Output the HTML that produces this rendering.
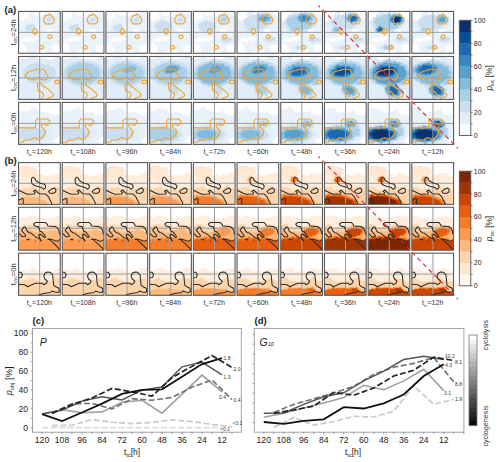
<!DOCTYPE html><html><head><meta charset="utf-8"><style>html,body{margin:0;padding:0;background:#fff;}svg{display:block;}</style></head><body><svg width="500" height="462" viewBox="0 0 500 462" font-family='"Liberation Sans", sans-serif'><defs><clipPath id="pc0"><rect x="0" y="0" width="41.7" height="41.9"/></clipPath><clipPath id="pc1"><rect x="0" y="0" width="41.7" height="42.9"/></clipPath><clipPath id="pc2"><rect x="0" y="0" width="41.7" height="42.0"/></clipPath><filter id="bl" x="-10%" y="-10%" width="120%" height="120%"><feTurbulence type="fractalNoise" baseFrequency="0.35" numOctaves="2" seed="3" result="n"/><feDisplacementMap in="SourceGraphic" in2="n" scale="3.5" xChannelSelector="R" yChannelSelector="G" result="d"/><feGaussianBlur in="d" stdDeviation="0.7"/></filter><linearGradient id="gcb" x1="0" y1="0" x2="0" y2="1"><stop offset="0.000" stop-color="rgb(255,255,255)"/><stop offset="0.050" stop-color="rgb(255,255,255)"/><stop offset="0.050" stop-color="rgb(242,242,242)"/><stop offset="0.100" stop-color="rgb(242,242,242)"/><stop offset="0.100" stop-color="rgb(229,229,229)"/><stop offset="0.150" stop-color="rgb(229,229,229)"/><stop offset="0.150" stop-color="rgb(216,216,216)"/><stop offset="0.200" stop-color="rgb(216,216,216)"/><stop offset="0.200" stop-color="rgb(204,204,204)"/><stop offset="0.250" stop-color="rgb(204,204,204)"/><stop offset="0.250" stop-color="rgb(191,191,191)"/><stop offset="0.300" stop-color="rgb(191,191,191)"/><stop offset="0.300" stop-color="rgb(178,178,178)"/><stop offset="0.350" stop-color="rgb(178,178,178)"/><stop offset="0.350" stop-color="rgb(165,165,165)"/><stop offset="0.400" stop-color="rgb(165,165,165)"/><stop offset="0.400" stop-color="rgb(153,153,153)"/><stop offset="0.450" stop-color="rgb(153,153,153)"/><stop offset="0.450" stop-color="rgb(140,140,140)"/><stop offset="0.500" stop-color="rgb(140,140,140)"/><stop offset="0.500" stop-color="rgb(127,127,127)"/><stop offset="0.550" stop-color="rgb(127,127,127)"/><stop offset="0.550" stop-color="rgb(114,114,114)"/><stop offset="0.600" stop-color="rgb(114,114,114)"/><stop offset="0.600" stop-color="rgb(102,102,102)"/><stop offset="0.650" stop-color="rgb(102,102,102)"/><stop offset="0.650" stop-color="rgb(89,89,89)"/><stop offset="0.700" stop-color="rgb(89,89,89)"/><stop offset="0.700" stop-color="rgb(76,76,76)"/><stop offset="0.750" stop-color="rgb(76,76,76)"/><stop offset="0.750" stop-color="rgb(63,63,63)"/><stop offset="0.800" stop-color="rgb(63,63,63)"/><stop offset="0.800" stop-color="rgb(50,50,50)"/><stop offset="0.850" stop-color="rgb(50,50,50)"/><stop offset="0.850" stop-color="rgb(38,38,38)"/><stop offset="0.900" stop-color="rgb(38,38,38)"/><stop offset="0.900" stop-color="rgb(25,25,25)"/><stop offset="0.950" stop-color="rgb(25,25,25)"/><stop offset="0.950" stop-color="rgb(12,12,12)"/><stop offset="1.000" stop-color="rgb(12,12,12)"/></linearGradient></defs><rect width="500" height="462" fill="#fff"/><g font-weight="bold" fill="#1a1a1a" font-size="9.5"><text x="4.6" y="13.2">(a)</text><text x="4.6" y="164.0">(b)</text><text x="32.6" y="324.1">(c)</text><text x="254.6" y="324.1">(d)</text></g><g transform="translate(18.56,11.44)"><rect x="0" y="0" width="41.7" height="41.9" fill="#fff"/><g clip-path="url(#pc0)" filter="url(#bl)"><path d="M-2.0 5.2 L3.8 3.4 L9.5 1.0 L15.2 0.9 L21.0 5.3 L26.8 4.3 L32.5 4.0 L38.2 -0.7 L44.0 3.1 L44 44 L-2 44 Z" fill="#e1edf8" fill-opacity="0.7"/><ellipse cx="30.0" cy="8.0" rx="8.00" ry="6.50" fill="#e1edf8"/><ellipse cx="12.0" cy="16.0" rx="6.00" ry="4.00" fill="#e1edf8"/><ellipse cx="4.0" cy="5.0" rx="7.00" ry="4.00" fill="#fff" transform="rotate(-20 4 5)"/><ellipse cx="11.0" cy="28.0" rx="10.00" ry="2.20" fill="#fff" transform="rotate(-10 11 28)"/><ellipse cx="3.0" cy="38.0" rx="5.00" ry="6.00" fill="#fff"/><ellipse cx="38.0" cy="37.0" rx="5.00" ry="4.00" fill="#fff"/><ellipse cx="22.0" cy="41.0" rx="6.00" ry="2.00" fill="#fff"/><ellipse cx="20.0" cy="3.0" rx="5.00" ry="2.00" fill="#fff"/><ellipse cx="30.0" cy="19.0" rx="4.00" ry="1.50" fill="#fff"/><ellipse cx="30.0" cy="8.0" rx="2.80" ry="2.27" fill="#ccdff1"/><ellipse cx="12.0" cy="16.0" rx="5.40" ry="3.60" fill="#ccdff1"/></g><line x1="21.1" y1="0" x2="21.1" y2="41.9" stroke="#9e9e9e" stroke-width="1.0"/><line x1="0" y1="20.9" x2="41.7" y2="20.9" stroke="#9e9e9e" stroke-width="1.0"/><g clip-path="url(#pc0)" fill="none" stroke="#f5a52a" stroke-width="1.15" stroke-linejoin="round"><path d="M30.9 2.4 L34.1 5.5 L35.6 7.6 L35.3 10.7 L33.5 12.2 L27.3 12.5 L25.2 10.2 L25.2 7.1 L27.3 4.1 L29.4 3.9 Z"/><path d="M16.4 16.9 L18.2 18.3 L18.6 20.0 L18.2 21.7 L16.4 23.1 L14.6 21.7 L14.2 20.0 L14.6 18.3 Z"/><path d="M31.3 23.2 L33.0 24.1 L33.4 25.2 L33.0 26.3 L31.3 27.2 L29.6 26.3 L29.2 25.2 L29.6 24.1 Z"/><path d="M22.9 33.9 L24.6 34.8 L25.0 35.9 L24.6 37.0 L22.9 37.9 L21.2 37.0 L20.8 35.9 L21.2 34.8 Z"/></g><rect x="0" y="0" width="41.7" height="41.9" fill="none" stroke="#5a5a5a" stroke-width="1.1"/></g><g transform="translate(62.26,11.44)"><rect x="0" y="0" width="41.7" height="41.9" fill="#fff"/><g clip-path="url(#pc0)" filter="url(#bl)"><path d="M-2.0 4.3 L3.8 3.3 L9.5 0.1 L15.2 2.2 L21.0 5.1 L26.8 4.6 L32.5 2.8 L38.2 -0.4 L44.0 3.7 L44 44 L-2 44 Z" fill="#e1edf8" fill-opacity="0.7"/><ellipse cx="30.0" cy="8.0" rx="8.00" ry="6.50" fill="#e1edf8"/><ellipse cx="12.0" cy="16.0" rx="6.00" ry="4.00" fill="#e1edf8"/><ellipse cx="4.0" cy="5.0" rx="7.00" ry="4.00" fill="#fff" transform="rotate(-20 4 5)"/><ellipse cx="11.0" cy="28.0" rx="10.00" ry="2.20" fill="#fff" transform="rotate(-10 11 28)"/><ellipse cx="3.0" cy="38.0" rx="5.00" ry="6.00" fill="#fff"/><ellipse cx="38.0" cy="37.0" rx="5.00" ry="4.00" fill="#fff"/><ellipse cx="22.0" cy="41.0" rx="6.00" ry="2.00" fill="#fff"/><ellipse cx="20.0" cy="3.0" rx="5.00" ry="2.00" fill="#fff"/><ellipse cx="30.0" cy="19.0" rx="4.00" ry="1.50" fill="#fff"/><ellipse cx="30.0" cy="8.0" rx="2.80" ry="2.27" fill="#ccdff1"/><ellipse cx="12.0" cy="16.0" rx="5.40" ry="3.60" fill="#ccdff1"/></g><line x1="21.1" y1="0" x2="21.1" y2="41.9" stroke="#9e9e9e" stroke-width="1.0"/><line x1="0" y1="20.9" x2="41.7" y2="20.9" stroke="#9e9e9e" stroke-width="1.0"/><g clip-path="url(#pc0)" fill="none" stroke="#f5a52a" stroke-width="1.15" stroke-linejoin="round"><path d="M30.9 2.4 L34.1 5.5 L35.6 7.6 L35.3 10.7 L33.5 12.2 L27.3 12.5 L25.2 10.2 L25.2 7.1 L27.3 4.1 L29.4 3.9 Z"/><path d="M16.4 16.9 L18.2 18.3 L18.6 20.0 L18.2 21.7 L16.4 23.1 L14.6 21.7 L14.2 20.0 L14.6 18.3 Z"/><path d="M31.3 23.2 L33.0 24.1 L33.4 25.2 L33.0 26.3 L31.3 27.2 L29.6 26.3 L29.2 25.2 L29.6 24.1 Z"/><path d="M22.9 33.9 L24.6 34.8 L25.0 35.9 L24.6 37.0 L22.9 37.9 L21.2 37.0 L20.8 35.9 L21.2 34.8 Z"/></g><rect x="0" y="0" width="41.7" height="41.9" fill="none" stroke="#5a5a5a" stroke-width="1.1"/></g><g transform="translate(105.96,11.44)"><rect x="0" y="0" width="41.7" height="41.9" fill="#fff"/><g clip-path="url(#pc0)" filter="url(#bl)"><path d="M-2.0 3.6 L3.8 3.1 L9.5 -0.5 L15.2 3.6 L21.0 4.8 L26.8 4.8 L32.5 1.4 L38.2 0.4 L44.0 3.9 L44 44 L-2 44 Z" fill="#e1edf8" fill-opacity="0.7"/><ellipse cx="30.0" cy="8.0" rx="8.00" ry="6.50" fill="#e1edf8"/><ellipse cx="12.0" cy="16.0" rx="6.00" ry="4.00" fill="#e1edf8"/><ellipse cx="4.0" cy="5.0" rx="7.00" ry="4.00" fill="#fff" transform="rotate(-20 4 5)"/><ellipse cx="11.0" cy="28.0" rx="10.00" ry="2.20" fill="#fff" transform="rotate(-10 11 28)"/><ellipse cx="3.0" cy="38.0" rx="5.00" ry="6.00" fill="#fff"/><ellipse cx="38.0" cy="37.0" rx="5.00" ry="4.00" fill="#fff"/><ellipse cx="22.0" cy="41.0" rx="6.00" ry="2.00" fill="#fff"/><ellipse cx="20.0" cy="3.0" rx="5.00" ry="2.00" fill="#fff"/><ellipse cx="30.0" cy="19.0" rx="4.00" ry="1.50" fill="#fff"/><ellipse cx="30.0" cy="8.0" rx="2.80" ry="2.27" fill="#ccdff1"/><ellipse cx="12.0" cy="16.0" rx="5.40" ry="3.60" fill="#ccdff1"/></g><line x1="21.1" y1="0" x2="21.1" y2="41.9" stroke="#9e9e9e" stroke-width="1.0"/><line x1="0" y1="20.9" x2="41.7" y2="20.9" stroke="#9e9e9e" stroke-width="1.0"/><g clip-path="url(#pc0)" fill="none" stroke="#f5a52a" stroke-width="1.15" stroke-linejoin="round"><path d="M30.9 2.4 L34.1 5.5 L35.6 7.6 L35.3 10.7 L33.5 12.2 L27.3 12.5 L25.2 10.2 L25.2 7.1 L27.3 4.1 L29.4 3.9 Z"/><path d="M16.4 16.9 L18.2 18.3 L18.6 20.0 L18.2 21.7 L16.4 23.1 L14.6 21.7 L14.2 20.0 L14.6 18.3 Z"/><path d="M31.3 23.2 L33.0 24.1 L33.4 25.2 L33.0 26.3 L31.3 27.2 L29.6 26.3 L29.2 25.2 L29.6 24.1 Z"/><path d="M22.9 33.9 L24.6 34.8 L25.0 35.9 L24.6 37.0 L22.9 37.9 L21.2 37.0 L20.8 35.9 L21.2 34.8 Z"/></g><rect x="0" y="0" width="41.7" height="41.9" fill="none" stroke="#5a5a5a" stroke-width="1.1"/></g><g transform="translate(149.66,11.44)"><rect x="0" y="0" width="41.7" height="41.9" fill="#fff"/><g clip-path="url(#pc0)" filter="url(#bl)"><path d="M-2.0 3.2 L3.8 2.5 L9.5 -0.5 L15.2 4.8 L21.0 4.4 L26.8 4.7 L32.5 0.2 L38.2 1.5 L44.0 3.9 L44 44 L-2 44 Z" fill="#e1edf8" fill-opacity="0.7"/><ellipse cx="30.0" cy="8.0" rx="8.00" ry="6.50" fill="#e1edf8"/><ellipse cx="14.0" cy="15.0" rx="10.00" ry="6.00" fill="#e1edf8"/><ellipse cx="4.0" cy="5.0" rx="7.00" ry="4.00" fill="#fff" transform="rotate(-20 4 5)"/><ellipse cx="11.0" cy="28.0" rx="10.00" ry="2.20" fill="#fff" transform="rotate(-10 11 28)"/><ellipse cx="3.0" cy="38.0" rx="5.00" ry="6.00" fill="#fff"/><ellipse cx="38.0" cy="37.0" rx="5.00" ry="4.00" fill="#fff"/><ellipse cx="22.0" cy="41.0" rx="6.00" ry="2.00" fill="#fff"/><ellipse cx="20.0" cy="3.0" rx="5.00" ry="2.00" fill="#fff"/><ellipse cx="30.0" cy="19.0" rx="4.00" ry="1.50" fill="#fff"/><ellipse cx="30.0" cy="8.0" rx="2.80" ry="2.27" fill="#ccdff1"/><ellipse cx="14.0" cy="15.0" rx="9.00" ry="5.40" fill="#ccdff1"/></g><line x1="21.1" y1="0" x2="21.1" y2="41.9" stroke="#9e9e9e" stroke-width="1.0"/><line x1="0" y1="20.9" x2="41.7" y2="20.9" stroke="#9e9e9e" stroke-width="1.0"/><g clip-path="url(#pc0)" fill="none" stroke="#f5a52a" stroke-width="1.15" stroke-linejoin="round"><path d="M30.9 2.4 L34.1 5.5 L35.6 7.6 L35.3 10.7 L33.5 12.2 L27.3 12.5 L25.2 10.2 L25.2 7.1 L27.3 4.1 L29.4 3.9 Z"/><path d="M16.4 16.9 L18.2 18.3 L18.6 20.0 L18.2 21.7 L16.4 23.1 L14.6 21.7 L14.2 20.0 L14.6 18.3 Z"/><path d="M31.3 23.2 L33.0 24.1 L33.4 25.2 L33.0 26.3 L31.3 27.2 L29.6 26.3 L29.2 25.2 L29.6 24.1 Z"/><path d="M22.9 33.9 L24.6 34.8 L25.0 35.9 L24.6 37.0 L22.9 37.9 L21.2 37.0 L20.8 35.9 L21.2 34.8 Z"/></g><rect x="0" y="0" width="41.7" height="41.9" fill="none" stroke="#5a5a5a" stroke-width="1.1"/></g><g transform="translate(193.36,11.44)"><rect x="0" y="0" width="41.7" height="41.9" fill="#fff"/><g clip-path="url(#pc0)" filter="url(#bl)"><path d="M-2.0 3.0 L3.8 1.6 L9.5 0.2 L15.2 5.4 L21.0 4.2 L26.8 4.3 L32.5 -0.6 L38.2 2.7 L44.0 3.8 L44 44 L-2 44 Z" fill="#e1edf8" fill-opacity="0.7"/><ellipse cx="30.0" cy="8.0" rx="8.00" ry="6.50" fill="#e1edf8"/><ellipse cx="12.0" cy="18.0" rx="6.00" ry="4.00" fill="#e1edf8"/><ellipse cx="14.0" cy="15.0" rx="10.00" ry="6.00" fill="#e1edf8"/><ellipse cx="33.0" cy="28.0" rx="8.00" ry="3.50" fill="#e1edf8"/><ellipse cx="4.0" cy="5.0" rx="7.00" ry="4.00" fill="#fff" transform="rotate(-20 4 5)"/><ellipse cx="11.0" cy="28.0" rx="10.00" ry="2.20" fill="#fff" transform="rotate(-10 11 28)"/><ellipse cx="3.0" cy="38.0" rx="5.00" ry="6.00" fill="#fff"/><ellipse cx="38.0" cy="37.0" rx="5.00" ry="4.00" fill="#fff"/><ellipse cx="22.0" cy="41.0" rx="6.00" ry="2.00" fill="#fff"/><ellipse cx="20.0" cy="3.0" rx="5.00" ry="2.00" fill="#fff"/><ellipse cx="30.0" cy="19.0" rx="4.00" ry="1.50" fill="#fff"/><ellipse cx="30.0" cy="8.0" rx="5.40" ry="4.39" fill="#ccdff1"/><ellipse cx="14.0" cy="15.0" rx="9.00" ry="5.40" fill="#ccdff1"/><ellipse cx="33.0" cy="28.0" rx="5.60" ry="2.45" fill="#ccdff1"/><ellipse cx="30.0" cy="8.0" rx="2.80" ry="2.27" fill="#abd0e6"/></g><line x1="21.1" y1="0" x2="21.1" y2="41.9" stroke="#9e9e9e" stroke-width="1.0"/><line x1="0" y1="20.9" x2="41.7" y2="20.9" stroke="#9e9e9e" stroke-width="1.0"/><g clip-path="url(#pc0)" fill="none" stroke="#f5a52a" stroke-width="1.15" stroke-linejoin="round"><path d="M30.9 2.4 L34.1 5.5 L35.6 7.6 L35.3 10.7 L33.5 12.2 L27.3 12.5 L25.2 10.2 L25.2 7.1 L27.3 4.1 L29.4 3.9 Z"/><path d="M16.4 16.9 L18.2 18.3 L18.6 20.0 L18.2 21.7 L16.4 23.1 L14.6 21.7 L14.2 20.0 L14.6 18.3 Z"/><path d="M31.3 23.2 L33.0 24.1 L33.4 25.2 L33.0 26.3 L31.3 27.2 L29.6 26.3 L29.2 25.2 L29.6 24.1 Z"/><path d="M22.9 33.9 L24.6 34.8 L25.0 35.9 L24.6 37.0 L22.9 37.9 L21.2 37.0 L20.8 35.9 L21.2 34.8 Z"/></g><rect x="0" y="0" width="41.7" height="41.9" fill="none" stroke="#5a5a5a" stroke-width="1.1"/></g><g transform="translate(237.06,11.44)"><rect x="0" y="0" width="41.7" height="41.9" fill="#fff"/><g clip-path="url(#pc0)" filter="url(#bl)"><path d="M-2.0 3.0 L3.8 0.7 L9.5 1.4 L15.2 5.5 L21.0 4.2 L26.8 3.4 L32.5 -0.7 L38.2 3.6 L44.0 3.9 L44 44 L-2 44 Z" fill="#e1edf8" fill-opacity="0.7"/><ellipse cx="27.0" cy="7.0" rx="11.00" ry="6.50" fill="#e1edf8"/><ellipse cx="12.0" cy="18.0" rx="6.00" ry="4.00" fill="#e1edf8"/><ellipse cx="19.0" cy="11.0" rx="18.00" ry="11.00" fill="#e1edf8"/><ellipse cx="33.0" cy="28.0" rx="8.00" ry="3.50" fill="#e1edf8"/><ellipse cx="4.0" cy="5.0" rx="7.00" ry="4.00" fill="#fff" transform="rotate(-20 4 5)"/><ellipse cx="11.0" cy="28.0" rx="10.00" ry="2.20" fill="#fff" transform="rotate(-10 11 28)"/><ellipse cx="3.0" cy="38.0" rx="5.00" ry="6.00" fill="#fff"/><ellipse cx="38.0" cy="37.0" rx="5.00" ry="4.00" fill="#fff"/><ellipse cx="22.0" cy="41.0" rx="6.00" ry="2.00" fill="#fff"/><ellipse cx="20.0" cy="3.0" rx="5.00" ry="2.00" fill="#fff"/><ellipse cx="30.0" cy="19.0" rx="4.00" ry="1.50" fill="#fff"/><ellipse cx="27.0" cy="7.0" rx="9.21" ry="5.44" fill="#ccdff1"/><ellipse cx="12.0" cy="18.0" rx="2.40" ry="1.60" fill="#ccdff1"/><ellipse cx="19.0" cy="11.0" rx="12.60" ry="7.70" fill="#ccdff1"/><ellipse cx="33.0" cy="28.0" rx="5.60" ry="2.45" fill="#ccdff1"/><ellipse cx="27.0" cy="7.0" rx="7.43" ry="4.39" fill="#abd0e6"/><ellipse cx="27.0" cy="7.0" rx="5.64" ry="3.33" fill="#82bbdb"/><ellipse cx="27.0" cy="7.0" rx="3.85" ry="2.27" fill="#58a1cf"/></g><line x1="21.1" y1="0" x2="21.1" y2="41.9" stroke="#9e9e9e" stroke-width="1.0"/><line x1="0" y1="20.9" x2="41.7" y2="20.9" stroke="#9e9e9e" stroke-width="1.0"/><g clip-path="url(#pc0)" fill="none" stroke="#f5a52a" stroke-width="1.15" stroke-linejoin="round"><path d="M30.9 2.4 L34.1 5.5 L35.6 7.6 L35.3 10.7 L33.5 12.2 L27.3 12.5 L25.2 10.2 L25.2 7.1 L27.3 4.1 L29.4 3.9 Z"/><path d="M16.4 16.9 L18.2 18.3 L18.6 20.0 L18.2 21.7 L16.4 23.1 L14.6 21.7 L14.2 20.0 L14.6 18.3 Z"/><path d="M31.3 23.2 L33.0 24.1 L33.4 25.2 L33.0 26.3 L31.3 27.2 L29.6 26.3 L29.2 25.2 L29.6 24.1 Z"/><path d="M22.9 33.9 L24.6 34.8 L25.0 35.9 L24.6 37.0 L22.9 37.9 L21.2 37.0 L20.8 35.9 L21.2 34.8 Z"/></g><rect x="0" y="0" width="41.7" height="41.9" fill="none" stroke="#5a5a5a" stroke-width="1.1"/></g><g transform="translate(280.76,11.44)"><rect x="0" y="0" width="41.7" height="41.9" fill="#fff"/><g clip-path="url(#pc0)" filter="url(#bl)"><path d="M-2.0 2.9 L3.8 -0.1 L9.5 2.8 L15.2 5.3 L21.0 4.3 L26.8 2.2 L32.5 -0.2 L38.2 4.1 L44.0 4.3 L44 44 L-2 44 Z" fill="#e1edf8" fill-opacity="0.7"/><ellipse cx="24.0" cy="7.0" rx="12.00" ry="7.00" fill="#e1edf8"/><ellipse cx="12.0" cy="18.0" rx="6.00" ry="4.00" fill="#e1edf8"/><ellipse cx="19.0" cy="11.0" rx="18.00" ry="11.00" fill="#e1edf8"/><ellipse cx="33.0" cy="28.0" rx="8.00" ry="3.50" fill="#e1edf8"/><ellipse cx="19.0" cy="36.0" rx="8.00" ry="3.00" fill="#e1edf8"/><ellipse cx="4.0" cy="5.0" rx="7.00" ry="4.00" fill="#fff" transform="rotate(-20 4 5)"/><ellipse cx="11.0" cy="28.0" rx="10.00" ry="2.20" fill="#fff" transform="rotate(-10 11 28)"/><ellipse cx="3.0" cy="38.0" rx="5.00" ry="6.00" fill="#fff"/><ellipse cx="38.0" cy="37.0" rx="5.00" ry="4.00" fill="#fff"/><ellipse cx="22.0" cy="41.0" rx="6.00" ry="2.00" fill="#fff"/><ellipse cx="20.0" cy="3.0" rx="5.00" ry="2.00" fill="#fff"/><ellipse cx="30.0" cy="19.0" rx="4.00" ry="1.50" fill="#fff"/><ellipse cx="24.0" cy="7.0" rx="10.44" ry="6.09" fill="#ccdff1"/><ellipse cx="12.0" cy="18.0" rx="4.20" ry="2.80" fill="#ccdff1"/><ellipse cx="19.0" cy="11.0" rx="15.30" ry="9.35" fill="#ccdff1"/><ellipse cx="33.0" cy="28.0" rx="5.60" ry="2.45" fill="#ccdff1"/><ellipse cx="19.0" cy="36.0" rx="4.80" ry="1.80" fill="#ccdff1"/><ellipse cx="24.0" cy="7.0" rx="8.88" ry="5.18" fill="#abd0e6"/><ellipse cx="12.0" cy="18.0" rx="2.40" ry="1.60" fill="#abd0e6"/><ellipse cx="19.0" cy="11.0" rx="12.60" ry="7.70" fill="#abd0e6"/><ellipse cx="24.0" cy="7.0" rx="7.32" ry="4.27" fill="#82bbdb"/><ellipse cx="24.0" cy="7.0" rx="5.76" ry="3.36" fill="#58a1cf"/><ellipse cx="24.0" cy="7.0" rx="4.20" ry="2.45" fill="#3787c0"/></g><line x1="21.1" y1="0" x2="21.1" y2="41.9" stroke="#9e9e9e" stroke-width="1.0"/><line x1="0" y1="20.9" x2="41.7" y2="20.9" stroke="#9e9e9e" stroke-width="1.0"/><g clip-path="url(#pc0)" fill="none" stroke="#f5a52a" stroke-width="1.15" stroke-linejoin="round"><path d="M30.9 2.4 L34.1 5.5 L35.6 7.6 L35.3 10.7 L33.5 12.2 L27.3 12.5 L25.2 10.2 L25.2 7.1 L27.3 4.1 L29.4 3.9 Z"/><path d="M16.4 16.9 L18.2 18.3 L18.6 20.0 L18.2 21.7 L16.4 23.1 L14.6 21.7 L14.2 20.0 L14.6 18.3 Z"/><path d="M31.3 23.2 L33.0 24.1 L33.4 25.2 L33.0 26.3 L31.3 27.2 L29.6 26.3 L29.2 25.2 L29.6 24.1 Z"/><path d="M22.9 33.9 L24.6 34.8 L25.0 35.9 L24.6 37.0 L22.9 37.9 L21.2 37.0 L20.8 35.9 L21.2 34.8 Z"/></g><rect x="0" y="0" width="41.7" height="41.9" fill="none" stroke="#5a5a5a" stroke-width="1.1"/></g><g transform="translate(324.46,11.44)"><rect x="0" y="0" width="41.7" height="41.9" fill="#fff"/><g clip-path="url(#pc0)" filter="url(#bl)"><path d="M-2.0 5.7 L3.8 2.6 L9.5 7.2 L15.2 7.8 L21.0 7.5 L26.8 3.9 L32.5 3.8 L38.2 7.3 L44.0 7.8 L44 44 L-2 44 Z" fill="#e1edf8" fill-opacity="0.7"/><ellipse cx="28.0" cy="7.0" rx="9.00" ry="6.50" fill="#e1edf8"/><ellipse cx="12.0" cy="18.0" rx="6.00" ry="4.00" fill="#e1edf8"/><ellipse cx="19.0" cy="11.0" rx="18.00" ry="11.00" fill="#e1edf8"/><ellipse cx="33.0" cy="28.0" rx="8.00" ry="3.50" fill="#e1edf8"/><ellipse cx="19.0" cy="36.0" rx="8.00" ry="3.00" fill="#e1edf8"/><ellipse cx="4.0" cy="5.0" rx="7.00" ry="4.00" fill="#fff" transform="rotate(-20 4 5)"/><ellipse cx="11.0" cy="28.0" rx="10.00" ry="2.20" fill="#fff" transform="rotate(-10 11 28)"/><ellipse cx="3.0" cy="38.0" rx="5.00" ry="6.00" fill="#fff"/><ellipse cx="38.0" cy="37.0" rx="5.00" ry="4.00" fill="#fff"/><ellipse cx="22.0" cy="41.0" rx="6.00" ry="2.00" fill="#fff"/><ellipse cx="20.0" cy="3.0" rx="5.00" ry="2.00" fill="#fff"/><ellipse cx="30.0" cy="19.0" rx="4.00" ry="1.50" fill="#fff"/><ellipse cx="28.0" cy="7.0" rx="8.02" ry="5.80" fill="#ccdff1"/><ellipse cx="12.0" cy="18.0" rx="4.80" ry="3.20" fill="#ccdff1"/><ellipse cx="19.0" cy="11.0" rx="12.60" ry="7.70" fill="#ccdff1"/><ellipse cx="33.0" cy="28.0" rx="5.60" ry="2.45" fill="#ccdff1"/><ellipse cx="19.0" cy="36.0" rx="4.80" ry="1.80" fill="#ccdff1"/><ellipse cx="28.0" cy="7.0" rx="7.05" ry="5.09" fill="#abd0e6"/><ellipse cx="12.0" cy="18.0" rx="3.60" ry="2.40" fill="#abd0e6"/><ellipse cx="28.0" cy="7.0" rx="6.08" ry="4.39" fill="#82bbdb"/><ellipse cx="12.0" cy="18.0" rx="2.40" ry="1.60" fill="#82bbdb"/><ellipse cx="28.0" cy="7.0" rx="5.10" ry="3.68" fill="#58a1cf"/><ellipse cx="28.0" cy="7.0" rx="4.12" ry="2.98" fill="#3787c0"/><ellipse cx="28.0" cy="7.0" rx="3.15" ry="2.27" fill="#1b69af"/></g><line x1="21.1" y1="0" x2="21.1" y2="41.9" stroke="#9e9e9e" stroke-width="1.0"/><line x1="0" y1="20.9" x2="41.7" y2="20.9" stroke="#9e9e9e" stroke-width="1.0"/><g clip-path="url(#pc0)" fill="none" stroke="#f5a52a" stroke-width="1.15" stroke-linejoin="round"><path d="M30.9 2.4 L34.1 5.5 L35.6 7.6 L35.3 10.7 L33.5 12.2 L27.3 12.5 L25.2 10.2 L25.2 7.1 L27.3 4.1 L29.4 3.9 Z"/><path d="M16.4 16.9 L18.2 18.3 L18.6 20.0 L18.2 21.7 L16.4 23.1 L14.6 21.7 L14.2 20.0 L14.6 18.3 Z"/><path d="M31.3 23.2 L33.0 24.1 L33.4 25.2 L33.0 26.3 L31.3 27.2 L29.6 26.3 L29.2 25.2 L29.6 24.1 Z"/><path d="M22.9 33.9 L24.6 34.8 L25.0 35.9 L24.6 37.0 L22.9 37.9 L21.2 37.0 L20.8 35.9 L21.2 34.8 Z"/></g><rect x="0" y="0" width="41.7" height="41.9" fill="none" stroke="#5a5a5a" stroke-width="1.1"/></g><g transform="translate(368.16,11.44)"><rect x="0" y="0" width="41.7" height="41.9" fill="#fff"/><g clip-path="url(#pc0)" filter="url(#bl)"><path d="M-2.0 5.1 L3.8 2.8 L9.5 8.3 L15.2 7.3 L21.0 7.3 L26.8 2.9 L32.5 5.0 L38.2 7.2 L44.0 8.3 L44 44 L-2 44 Z" fill="#e1edf8" fill-opacity="0.7"/><ellipse cx="28.0" cy="8.0" rx="9.00" ry="7.00" fill="#e1edf8"/><ellipse cx="12.0" cy="18.0" rx="6.00" ry="4.00" fill="#e1edf8"/><ellipse cx="19.0" cy="11.0" rx="18.00" ry="11.00" fill="#e1edf8"/><ellipse cx="33.0" cy="28.0" rx="8.00" ry="3.50" fill="#e1edf8"/><ellipse cx="19.0" cy="36.0" rx="8.00" ry="3.00" fill="#e1edf8"/><ellipse cx="4.0" cy="5.0" rx="7.00" ry="4.00" fill="#fff" transform="rotate(-20 4 5)"/><ellipse cx="11.0" cy="28.0" rx="10.00" ry="2.20" fill="#fff" transform="rotate(-10 11 28)"/><ellipse cx="3.0" cy="38.0" rx="5.00" ry="6.00" fill="#fff"/><ellipse cx="38.0" cy="37.0" rx="5.00" ry="4.00" fill="#fff"/><ellipse cx="22.0" cy="41.0" rx="6.00" ry="2.00" fill="#fff"/><ellipse cx="20.0" cy="3.0" rx="5.00" ry="2.00" fill="#fff"/><ellipse cx="30.0" cy="19.0" rx="4.00" ry="1.50" fill="#fff"/><ellipse cx="28.0" cy="8.0" rx="8.27" ry="6.43" fill="#ccdff1"/><ellipse cx="12.0" cy="18.0" rx="5.40" ry="3.60" fill="#ccdff1"/><ellipse cx="19.0" cy="11.0" rx="15.30" ry="9.35" fill="#ccdff1"/><ellipse cx="33.0" cy="28.0" rx="5.60" ry="2.45" fill="#ccdff1"/><ellipse cx="19.0" cy="36.0" rx="6.40" ry="2.40" fill="#ccdff1"/><ellipse cx="28.0" cy="8.0" rx="7.54" ry="5.86" fill="#abd0e6"/><ellipse cx="12.0" cy="18.0" rx="4.80" ry="3.20" fill="#abd0e6"/><ellipse cx="19.0" cy="11.0" rx="12.60" ry="7.70" fill="#abd0e6"/><ellipse cx="19.0" cy="36.0" rx="4.80" ry="1.80" fill="#abd0e6"/><ellipse cx="28.0" cy="8.0" rx="6.81" ry="5.29" fill="#82bbdb"/><ellipse cx="12.0" cy="18.0" rx="4.20" ry="2.80" fill="#82bbdb"/><ellipse cx="28.0" cy="8.0" rx="6.08" ry="4.73" fill="#58a1cf"/><ellipse cx="12.0" cy="18.0" rx="3.60" ry="2.40" fill="#58a1cf"/><ellipse cx="28.0" cy="8.0" rx="5.34" ry="4.16" fill="#3787c0"/><ellipse cx="12.0" cy="18.0" rx="3.00" ry="2.00" fill="#3787c0"/><ellipse cx="28.0" cy="8.0" rx="4.61" ry="3.59" fill="#1b69af"/><ellipse cx="12.0" cy="18.0" rx="2.40" ry="1.60" fill="#1b69af"/><ellipse cx="28.0" cy="8.0" rx="3.88" ry="3.02" fill="#084d96"/><ellipse cx="28.0" cy="8.0" rx="3.15" ry="2.45" fill="#08306b"/></g><line x1="21.1" y1="0" x2="21.1" y2="41.9" stroke="#9e9e9e" stroke-width="1.0"/><line x1="0" y1="20.9" x2="41.7" y2="20.9" stroke="#9e9e9e" stroke-width="1.0"/><g clip-path="url(#pc0)" fill="none" stroke="#f5a52a" stroke-width="1.15" stroke-linejoin="round"><path d="M30.9 2.4 L34.1 5.5 L35.6 7.6 L35.3 10.7 L33.5 12.2 L27.3 12.5 L25.2 10.2 L25.2 7.1 L27.3 4.1 L29.4 3.9 Z"/><path d="M16.4 16.9 L18.2 18.3 L18.6 20.0 L18.2 21.7 L16.4 23.1 L14.6 21.7 L14.2 20.0 L14.6 18.3 Z"/><path d="M31.3 23.2 L33.0 24.1 L33.4 25.2 L33.0 26.3 L31.3 27.2 L29.6 26.3 L29.2 25.2 L29.6 24.1 Z"/><path d="M22.9 33.9 L24.6 34.8 L25.0 35.9 L24.6 37.0 L22.9 37.9 L21.2 37.0 L20.8 35.9 L21.2 34.8 Z"/></g><rect x="0" y="0" width="41.7" height="41.9" fill="none" stroke="#5a5a5a" stroke-width="1.1"/></g><g transform="translate(411.86,11.44)"><rect x="0" y="0" width="41.7" height="41.9" fill="#fff"/><g clip-path="url(#pc0)" filter="url(#bl)"><path d="M-2.0 4.4 L3.8 3.7 L9.5 8.8 L15.2 7.0 L21.0 6.8 L26.8 2.3 L32.5 6.2 L38.2 7.1 L44.0 8.7 L44 44 L-2 44 Z" fill="#e1edf8" fill-opacity="0.7"/><ellipse cx="30.0" cy="8.0" rx="8.00" ry="6.50" fill="#e1edf8"/><ellipse cx="12.0" cy="18.0" rx="6.00" ry="4.00" fill="#e1edf8"/><ellipse cx="19.0" cy="11.0" rx="18.00" ry="11.00" fill="#e1edf8"/><ellipse cx="33.0" cy="28.0" rx="8.00" ry="3.50" fill="#e1edf8"/><ellipse cx="19.0" cy="36.0" rx="8.00" ry="3.00" fill="#e1edf8"/><ellipse cx="4.0" cy="5.0" rx="7.00" ry="4.00" fill="#fff" transform="rotate(-20 4 5)"/><ellipse cx="11.0" cy="28.0" rx="10.00" ry="2.20" fill="#fff" transform="rotate(-10 11 28)"/><ellipse cx="3.0" cy="38.0" rx="5.00" ry="6.00" fill="#fff"/><ellipse cx="38.0" cy="37.0" rx="5.00" ry="4.00" fill="#fff"/><ellipse cx="22.0" cy="41.0" rx="6.00" ry="2.00" fill="#fff"/><ellipse cx="20.0" cy="3.0" rx="5.00" ry="2.00" fill="#fff"/><ellipse cx="30.0" cy="19.0" rx="4.00" ry="1.50" fill="#fff"/><ellipse cx="30.0" cy="8.0" rx="6.70" ry="5.44" fill="#ccdff1"/><ellipse cx="12.0" cy="18.0" rx="4.20" ry="2.80" fill="#ccdff1"/><ellipse cx="19.0" cy="11.0" rx="12.60" ry="7.70" fill="#ccdff1"/><ellipse cx="33.0" cy="28.0" rx="5.60" ry="2.45" fill="#ccdff1"/><ellipse cx="19.0" cy="36.0" rx="4.80" ry="1.80" fill="#ccdff1"/><ellipse cx="30.0" cy="8.0" rx="5.40" ry="4.39" fill="#abd0e6"/><ellipse cx="12.0" cy="18.0" rx="2.40" ry="1.60" fill="#abd0e6"/><ellipse cx="30.0" cy="8.0" rx="4.10" ry="3.33" fill="#82bbdb"/><ellipse cx="30.0" cy="8.0" rx="2.80" ry="2.27" fill="#58a1cf"/></g><line x1="21.1" y1="0" x2="21.1" y2="41.9" stroke="#9e9e9e" stroke-width="1.0"/><line x1="0" y1="20.9" x2="41.7" y2="20.9" stroke="#9e9e9e" stroke-width="1.0"/><g clip-path="url(#pc0)" fill="none" stroke="#f5a52a" stroke-width="1.15" stroke-linejoin="round"><path d="M30.9 2.4 L34.1 5.5 L35.6 7.6 L35.3 10.7 L33.5 12.2 L27.3 12.5 L25.2 10.2 L25.2 7.1 L27.3 4.1 L29.4 3.9 Z"/><path d="M16.4 16.9 L18.2 18.3 L18.6 20.0 L18.2 21.7 L16.4 23.1 L14.6 21.7 L14.2 20.0 L14.6 18.3 Z"/><path d="M31.3 23.2 L33.0 24.1 L33.4 25.2 L33.0 26.3 L31.3 27.2 L29.6 26.3 L29.2 25.2 L29.6 24.1 Z"/><path d="M22.9 33.9 L24.6 34.8 L25.0 35.9 L24.6 37.0 L22.9 37.9 L21.2 37.0 L20.8 35.9 L21.2 34.8 Z"/></g><rect x="0" y="0" width="41.7" height="41.9" fill="none" stroke="#5a5a5a" stroke-width="1.1"/></g><g transform="translate(18.56,56.48)"><rect x="0" y="0" width="41.7" height="42.9" fill="#fff"/><g clip-path="url(#pc1)" filter="url(#bl)"><path d="M-2.0 4.5 L3.8 2.4 L9.5 1.7 L15.2 -0.8 L21.0 3.2 L26.8 3.0 L32.5 3.6 L38.2 -0.2 L44.0 0.8 L44 44 L-2 44 Z" fill="#e1edf8"/><ellipse cx="21.0" cy="17.0" rx="24.00" ry="15.00" fill="#e1edf8"/><ellipse cx="24.0" cy="13.0" rx="16.00" ry="8.00" fill="#e1edf8" transform="rotate(-12 24 13)"/><ellipse cx="21.0" cy="17.0" rx="16.80" ry="10.50" fill="#ccdff1"/><ellipse cx="24.0" cy="13.0" rx="6.40" ry="3.20" fill="#ccdff1" transform="rotate(-12 24 13)"/></g><line x1="21.1" y1="0" x2="21.1" y2="42.9" stroke="#9e9e9e" stroke-width="1.0"/><line x1="0" y1="21.4" x2="41.7" y2="21.4" stroke="#9e9e9e" stroke-width="1.0"/><g clip-path="url(#pc1)" fill="none" stroke="#f5a52a" stroke-width="1.15" stroke-linejoin="round"><path d="M6.5 19.2 L9.1 16.1 L11.7 14.5 L15.9 14.0 L17.4 12.8 L25.2 12.8 L26.8 15.1 L27.3 17.1 L29.4 19.2 L28.9 22.3 L26.8 23.4 L21.6 22.9 L18.0 21.8 L16.4 23.4 L11.2 22.9 L8.1 21.3 Z"/><path d="M22.5 43.0 L25.2 38.5 L23.6 35.7 L20.0 34.8 L19.0 31.7 L19.0 27.5 L20.0 26.5 L22.1 26.5 L24.7 29.6 L28.9 32.2 L35.1 37.9 L34.1 40.0 L29.9 41.6 L28.0 43.0"/><ellipse cx="38.4" cy="25.5" rx="2.3" ry="1.8"/></g><rect x="0" y="0" width="41.7" height="42.9" fill="none" stroke="#5a5a5a" stroke-width="1.1"/></g><g transform="translate(62.26,56.48)"><rect x="0" y="0" width="41.7" height="42.9" fill="#fff"/><g clip-path="url(#pc1)" filter="url(#bl)"><path d="M-2.0 4.1 L3.8 2.3 L9.5 0.9 L15.2 -0.3 L21.0 3.7 L26.8 3.0 L32.5 3.2 L38.2 -0.8 L44.0 1.6 L44 44 L-2 44 Z" fill="#e1edf8"/><ellipse cx="21.0" cy="17.0" rx="24.00" ry="15.00" fill="#e1edf8"/><ellipse cx="24.0" cy="13.0" rx="16.00" ry="8.00" fill="#e1edf8" transform="rotate(-12 24 13)"/><ellipse cx="25.0" cy="34.0" rx="11.00" ry="8.00" fill="#e1edf8" transform="rotate(20 25 34)"/><ellipse cx="21.0" cy="17.0" rx="20.40" ry="12.75" fill="#ccdff1"/><ellipse cx="24.0" cy="13.0" rx="11.20" ry="5.60" fill="#ccdff1" transform="rotate(-12 24 13)"/><ellipse cx="21.0" cy="17.0" rx="16.80" ry="10.50" fill="#abd0e6"/><ellipse cx="24.0" cy="13.0" rx="6.40" ry="3.20" fill="#abd0e6" transform="rotate(-12 24 13)"/></g><line x1="21.1" y1="0" x2="21.1" y2="42.9" stroke="#9e9e9e" stroke-width="1.0"/><line x1="0" y1="21.4" x2="41.7" y2="21.4" stroke="#9e9e9e" stroke-width="1.0"/><g clip-path="url(#pc1)" fill="none" stroke="#f5a52a" stroke-width="1.15" stroke-linejoin="round"><path d="M6.5 19.2 L9.1 16.1 L11.7 14.5 L15.9 14.0 L17.4 12.8 L25.2 12.8 L26.8 15.1 L27.3 17.1 L29.4 19.2 L28.9 22.3 L26.8 23.4 L21.6 22.9 L18.0 21.8 L16.4 23.4 L11.2 22.9 L8.1 21.3 Z"/><path d="M22.5 43.0 L25.2 38.5 L23.6 35.7 L20.0 34.8 L19.0 31.7 L19.0 27.5 L20.0 26.5 L22.1 26.5 L24.7 29.6 L28.9 32.2 L35.1 37.9 L34.1 40.0 L29.9 41.6 L28.0 43.0"/><ellipse cx="38.4" cy="25.5" rx="2.3" ry="1.8"/></g><rect x="0" y="0" width="41.7" height="42.9" fill="none" stroke="#5a5a5a" stroke-width="1.1"/></g><g transform="translate(105.96,56.48)"><rect x="0" y="0" width="41.7" height="42.9" fill="#fff"/><g clip-path="url(#pc1)" filter="url(#bl)"><path d="M-2.0 3.5 L3.8 2.3 L9.5 0.1 L15.2 0.6 L21.0 3.8 L26.8 3.1 L32.5 2.5 L38.2 -0.9 L44.0 2.3 L44 44 L-2 44 Z" fill="#e1edf8"/><ellipse cx="21.0" cy="17.0" rx="24.00" ry="15.00" fill="#e1edf8"/><ellipse cx="24.0" cy="13.0" rx="16.00" ry="8.00" fill="#e1edf8" transform="rotate(-12 24 13)"/><ellipse cx="25.0" cy="34.0" rx="11.00" ry="8.00" fill="#e1edf8" transform="rotate(20 25 34)"/><ellipse cx="21.0" cy="17.0" rx="20.40" ry="12.75" fill="#ccdff1"/><ellipse cx="24.0" cy="13.0" rx="12.80" ry="6.40" fill="#ccdff1" transform="rotate(-12 24 13)"/><ellipse cx="21.0" cy="17.0" rx="16.80" ry="10.50" fill="#abd0e6"/><ellipse cx="24.0" cy="13.0" rx="9.60" ry="4.80" fill="#abd0e6" transform="rotate(-12 24 13)"/><ellipse cx="24.0" cy="13.0" rx="6.40" ry="3.20" fill="#82bbdb" transform="rotate(-12 24 13)"/></g><line x1="21.1" y1="0" x2="21.1" y2="42.9" stroke="#9e9e9e" stroke-width="1.0"/><line x1="0" y1="21.4" x2="41.7" y2="21.4" stroke="#9e9e9e" stroke-width="1.0"/><g clip-path="url(#pc1)" fill="none" stroke="#f5a52a" stroke-width="1.15" stroke-linejoin="round"><path d="M6.5 19.2 L9.1 16.1 L11.7 14.5 L15.9 14.0 L17.4 12.8 L25.2 12.8 L26.8 15.1 L27.3 17.1 L29.4 19.2 L28.9 22.3 L26.8 23.4 L21.6 22.9 L18.0 21.8 L16.4 23.4 L11.2 22.9 L8.1 21.3 Z"/><path d="M22.5 43.0 L25.2 38.5 L23.6 35.7 L20.0 34.8 L19.0 31.7 L19.0 27.5 L20.0 26.5 L22.1 26.5 L24.7 29.6 L28.9 32.2 L35.1 37.9 L34.1 40.0 L29.9 41.6 L28.0 43.0"/><ellipse cx="38.4" cy="25.5" rx="2.3" ry="1.8"/></g><rect x="0" y="0" width="41.7" height="42.9" fill="none" stroke="#5a5a5a" stroke-width="1.1"/></g><g transform="translate(149.66,56.48)"><rect x="0" y="0" width="41.7" height="42.9" fill="#fff"/><g clip-path="url(#pc1)" filter="url(#bl)"><path d="M-2.0 2.9 L3.8 2.2 L9.5 -0.5 L15.2 1.8 L21.0 3.6 L26.8 3.3 L32.5 1.5 L38.2 -0.5 L44.0 2.6 L44 44 L-2 44 Z" fill="#e1edf8"/><ellipse cx="21.0" cy="17.0" rx="24.00" ry="15.00" fill="#e1edf8"/><ellipse cx="22.0" cy="13.0" rx="16.00" ry="8.00" fill="#e1edf8" transform="rotate(-12 22 13)"/><ellipse cx="25.0" cy="34.0" rx="11.00" ry="8.00" fill="#e1edf8" transform="rotate(20 25 34)"/><ellipse cx="21.0" cy="17.0" rx="20.40" ry="12.75" fill="#ccdff1"/><ellipse cx="22.0" cy="13.0" rx="13.60" ry="6.80" fill="#ccdff1" transform="rotate(-12 22 13)"/><ellipse cx="25.0" cy="34.0" rx="4.95" ry="3.60" fill="#ccdff1" transform="rotate(20 25 34)"/><ellipse cx="21.0" cy="17.0" rx="16.80" ry="10.50" fill="#abd0e6"/><ellipse cx="22.0" cy="13.0" rx="11.20" ry="5.60" fill="#abd0e6" transform="rotate(-12 22 13)"/><ellipse cx="22.0" cy="13.0" rx="8.80" ry="4.40" fill="#82bbdb" transform="rotate(-12 22 13)"/><ellipse cx="22.0" cy="13.0" rx="6.40" ry="3.20" fill="#58a1cf" transform="rotate(-12 22 13)"/></g><line x1="21.1" y1="0" x2="21.1" y2="42.9" stroke="#9e9e9e" stroke-width="1.0"/><line x1="0" y1="21.4" x2="41.7" y2="21.4" stroke="#9e9e9e" stroke-width="1.0"/><g clip-path="url(#pc1)" fill="none" stroke="#f5a52a" stroke-width="1.15" stroke-linejoin="round"><path d="M6.5 19.2 L9.1 16.1 L11.7 14.5 L15.9 14.0 L17.4 12.8 L25.2 12.8 L26.8 15.1 L27.3 17.1 L29.4 19.2 L28.9 22.3 L26.8 23.4 L21.6 22.9 L18.0 21.8 L16.4 23.4 L11.2 22.9 L8.1 21.3 Z"/><path d="M22.5 43.0 L25.2 38.5 L23.6 35.7 L20.0 34.8 L19.0 31.7 L19.0 27.5 L20.0 26.5 L22.1 26.5 L24.7 29.6 L28.9 32.2 L35.1 37.9 L34.1 40.0 L29.9 41.6 L28.0 43.0"/><ellipse cx="38.4" cy="25.5" rx="2.3" ry="1.8"/></g><rect x="0" y="0" width="41.7" height="42.9" fill="none" stroke="#5a5a5a" stroke-width="1.1"/></g><g transform="translate(193.36,56.48)"><rect x="0" y="0" width="41.7" height="42.9" fill="#fff"/><g clip-path="url(#pc1)" filter="url(#bl)"><path d="M-2.0 2.4 L3.8 1.9 L9.5 -0.8 L15.2 2.8 L21.0 3.3 L26.8 3.4 L32.5 0.4 L38.2 0.2 L44.0 2.7 L44 44 L-2 44 Z" fill="#e1edf8"/><ellipse cx="21.0" cy="17.0" rx="24.00" ry="15.00" fill="#e1edf8"/><ellipse cx="22.0" cy="13.0" rx="16.00" ry="8.00" fill="#e1edf8" transform="rotate(-12 22 13)"/><ellipse cx="25.0" cy="34.0" rx="11.00" ry="8.00" fill="#e1edf8" transform="rotate(20 25 34)"/><ellipse cx="21.0" cy="17.0" rx="21.60" ry="13.50" fill="#ccdff1"/><ellipse cx="22.0" cy="13.0" rx="13.60" ry="6.80" fill="#ccdff1" transform="rotate(-12 22 13)"/><ellipse cx="25.0" cy="34.0" rx="4.95" ry="3.60" fill="#ccdff1" transform="rotate(20 25 34)"/><ellipse cx="21.0" cy="17.0" rx="19.20" ry="12.00" fill="#abd0e6"/><ellipse cx="22.0" cy="13.0" rx="11.20" ry="5.60" fill="#abd0e6" transform="rotate(-12 22 13)"/><ellipse cx="21.0" cy="17.0" rx="16.80" ry="10.50" fill="#82bbdb"/><ellipse cx="22.0" cy="13.0" rx="8.80" ry="4.40" fill="#82bbdb" transform="rotate(-12 22 13)"/><ellipse cx="22.0" cy="13.0" rx="6.40" ry="3.20" fill="#58a1cf" transform="rotate(-12 22 13)"/></g><line x1="21.1" y1="0" x2="21.1" y2="42.9" stroke="#9e9e9e" stroke-width="1.0"/><line x1="0" y1="21.4" x2="41.7" y2="21.4" stroke="#9e9e9e" stroke-width="1.0"/><g clip-path="url(#pc1)" fill="none" stroke="#f5a52a" stroke-width="1.15" stroke-linejoin="round"><path d="M6.5 19.2 L9.1 16.1 L11.7 14.5 L15.9 14.0 L17.4 12.8 L25.2 12.8 L26.8 15.1 L27.3 17.1 L29.4 19.2 L28.9 22.3 L26.8 23.4 L21.6 22.9 L18.0 21.8 L16.4 23.4 L11.2 22.9 L8.1 21.3 Z"/><path d="M22.5 43.0 L25.2 38.5 L23.6 35.7 L20.0 34.8 L19.0 31.7 L19.0 27.5 L20.0 26.5 L22.1 26.5 L24.7 29.6 L28.9 32.2 L35.1 37.9 L34.1 40.0 L29.9 41.6 L28.0 43.0"/><ellipse cx="38.4" cy="25.5" rx="2.3" ry="1.8"/></g><rect x="0" y="0" width="41.7" height="42.9" fill="none" stroke="#5a5a5a" stroke-width="1.1"/></g><g transform="translate(237.06,56.48)"><rect x="0" y="0" width="41.7" height="42.9" fill="#fff"/><g clip-path="url(#pc1)" filter="url(#bl)"><path d="M-2.0 2.1 L3.8 1.4 L9.5 -0.6 L15.2 3.6 L21.0 3.0 L26.8 3.3 L32.5 -0.5 L38.2 1.2 L44.0 2.7 L44 44 L-2 44 Z" fill="#e1edf8"/><ellipse cx="21.0" cy="17.0" rx="24.00" ry="15.00" fill="#e1edf8"/><ellipse cx="22.0" cy="13.0" rx="16.00" ry="8.00" fill="#e1edf8" transform="rotate(-12 22 13)"/><ellipse cx="25.0" cy="34.0" rx="11.00" ry="8.00" fill="#e1edf8" transform="rotate(20 25 34)"/><ellipse cx="21.0" cy="17.0" rx="21.60" ry="13.50" fill="#ccdff1"/><ellipse cx="22.0" cy="13.0" rx="14.08" ry="7.04" fill="#ccdff1" transform="rotate(-12 22 13)"/><ellipse cx="25.0" cy="34.0" rx="7.97" ry="5.80" fill="#ccdff1" transform="rotate(20 25 34)"/><ellipse cx="21.0" cy="17.0" rx="19.20" ry="12.00" fill="#abd0e6"/><ellipse cx="22.0" cy="13.0" rx="12.16" ry="6.08" fill="#abd0e6" transform="rotate(-12 22 13)"/><ellipse cx="25.0" cy="34.0" rx="4.95" ry="3.60" fill="#abd0e6" transform="rotate(20 25 34)"/><ellipse cx="21.0" cy="17.0" rx="16.80" ry="10.50" fill="#82bbdb"/><ellipse cx="22.0" cy="13.0" rx="10.24" ry="5.12" fill="#82bbdb" transform="rotate(-12 22 13)"/><ellipse cx="22.0" cy="13.0" rx="8.32" ry="4.16" fill="#58a1cf" transform="rotate(-12 22 13)"/><ellipse cx="22.0" cy="13.0" rx="6.40" ry="3.20" fill="#3787c0" transform="rotate(-12 22 13)"/></g><line x1="21.1" y1="0" x2="21.1" y2="42.9" stroke="#9e9e9e" stroke-width="1.0"/><line x1="0" y1="21.4" x2="41.7" y2="21.4" stroke="#9e9e9e" stroke-width="1.0"/><g clip-path="url(#pc1)" fill="none" stroke="#f5a52a" stroke-width="1.15" stroke-linejoin="round"><path d="M6.5 19.2 L9.1 16.1 L11.7 14.5 L15.9 14.0 L17.4 12.8 L25.2 12.8 L26.8 15.1 L27.3 17.1 L29.4 19.2 L28.9 22.3 L26.8 23.4 L21.6 22.9 L18.0 21.8 L16.4 23.4 L11.2 22.9 L8.1 21.3 Z"/><path d="M22.5 43.0 L25.2 38.5 L23.6 35.7 L20.0 34.8 L19.0 31.7 L19.0 27.5 L20.0 26.5 L22.1 26.5 L24.7 29.6 L28.9 32.2 L35.1 37.9 L34.1 40.0 L29.9 41.6 L28.0 43.0"/><ellipse cx="38.4" cy="25.5" rx="2.3" ry="1.8"/></g><rect x="0" y="0" width="41.7" height="42.9" fill="none" stroke="#5a5a5a" stroke-width="1.1"/></g><g transform="translate(280.76,56.48)"><rect x="0" y="0" width="41.7" height="42.9" fill="#fff"/><g clip-path="url(#pc1)" filter="url(#bl)"><path d="M-2.0 2.0 L3.8 0.7 L9.5 0.0 L15.2 4.0 L21.0 2.9 L26.8 2.8 L32.5 -0.9 L38.2 2.0 L44.0 2.7 L44 44 L-2 44 Z" fill="#e1edf8"/><ellipse cx="21.0" cy="17.0" rx="24.00" ry="15.00" fill="#e1edf8"/><ellipse cx="18.0" cy="15.0" rx="19.00" ry="9.50" fill="#e1edf8" transform="rotate(-5 18 15)"/><ellipse cx="25.0" cy="34.0" rx="11.00" ry="8.00" fill="#e1edf8" transform="rotate(20 25 34)"/><ellipse cx="34.0" cy="26.0" rx="6.00" ry="4.00" fill="#e1edf8"/><ellipse cx="21.0" cy="17.0" rx="21.60" ry="13.50" fill="#ccdff1"/><ellipse cx="18.0" cy="15.0" rx="17.10" ry="8.55" fill="#ccdff1" transform="rotate(-5 18 15)"/><ellipse cx="25.0" cy="34.0" rx="8.98" ry="6.53" fill="#ccdff1" transform="rotate(20 25 34)"/><ellipse cx="34.0" cy="26.0" rx="4.80" ry="3.20" fill="#ccdff1"/><ellipse cx="21.0" cy="17.0" rx="19.20" ry="12.00" fill="#abd0e6"/><ellipse cx="18.0" cy="15.0" rx="15.20" ry="7.60" fill="#abd0e6" transform="rotate(-5 18 15)"/><ellipse cx="25.0" cy="34.0" rx="6.97" ry="5.07" fill="#abd0e6" transform="rotate(20 25 34)"/><ellipse cx="34.0" cy="26.0" rx="3.60" ry="2.40" fill="#abd0e6"/><ellipse cx="21.0" cy="17.0" rx="16.80" ry="10.50" fill="#82bbdb"/><ellipse cx="18.0" cy="15.0" rx="13.30" ry="6.65" fill="#82bbdb" transform="rotate(-5 18 15)"/><ellipse cx="25.0" cy="34.0" rx="4.95" ry="3.60" fill="#82bbdb" transform="rotate(20 25 34)"/><ellipse cx="18.0" cy="15.0" rx="11.40" ry="5.70" fill="#58a1cf" transform="rotate(-5 18 15)"/><ellipse cx="18.0" cy="15.0" rx="9.50" ry="4.75" fill="#3787c0" transform="rotate(-5 18 15)"/><ellipse cx="18.0" cy="15.0" rx="7.60" ry="3.80" fill="#1b69af" transform="rotate(-5 18 15)"/></g><line x1="21.1" y1="0" x2="21.1" y2="42.9" stroke="#9e9e9e" stroke-width="1.0"/><line x1="0" y1="21.4" x2="41.7" y2="21.4" stroke="#9e9e9e" stroke-width="1.0"/><g clip-path="url(#pc1)" fill="none" stroke="#f5a52a" stroke-width="1.15" stroke-linejoin="round"><path d="M6.5 19.2 L9.1 16.1 L11.7 14.5 L15.9 14.0 L17.4 12.8 L25.2 12.8 L26.8 15.1 L27.3 17.1 L29.4 19.2 L28.9 22.3 L26.8 23.4 L21.6 22.9 L18.0 21.8 L16.4 23.4 L11.2 22.9 L8.1 21.3 Z"/><path d="M22.5 43.0 L25.2 38.5 L23.6 35.7 L20.0 34.8 L19.0 31.7 L19.0 27.5 L20.0 26.5 L22.1 26.5 L24.7 29.6 L28.9 32.2 L35.1 37.9 L34.1 40.0 L29.9 41.6 L28.0 43.0"/><ellipse cx="38.4" cy="25.5" rx="2.3" ry="1.8"/></g><rect x="0" y="0" width="41.7" height="42.9" fill="none" stroke="#5a5a5a" stroke-width="1.1"/></g><g transform="translate(324.46,56.48)"><rect x="0" y="0" width="41.7" height="42.9" fill="#fff"/><g clip-path="url(#pc1)" filter="url(#bl)"><path d="M-2.0 2.0 L3.8 -0.1 L9.5 1.1 L15.2 4.0 L21.0 3.0 L26.8 2.0 L32.5 -0.9 L38.2 2.6 L44.0 2.8 L44 44 L-2 44 Z" fill="#e1edf8"/><ellipse cx="21.0" cy="17.0" rx="24.00" ry="15.00" fill="#e1edf8"/><ellipse cx="18.0" cy="15.0" rx="19.00" ry="9.50" fill="#e1edf8" transform="rotate(-5 18 15)"/><ellipse cx="25.0" cy="34.0" rx="11.00" ry="8.00" fill="#e1edf8" transform="rotate(20 25 34)"/><ellipse cx="34.0" cy="26.0" rx="6.00" ry="4.00" fill="#e1edf8"/><ellipse cx="21.0" cy="17.0" rx="21.60" ry="13.50" fill="#ccdff1"/><ellipse cx="18.0" cy="15.0" rx="17.37" ry="8.69" fill="#ccdff1" transform="rotate(-5 18 15)"/><ellipse cx="25.0" cy="34.0" rx="9.49" ry="6.90" fill="#ccdff1" transform="rotate(20 25 34)"/><ellipse cx="34.0" cy="26.0" rx="4.80" ry="3.20" fill="#ccdff1"/><ellipse cx="21.0" cy="17.0" rx="19.20" ry="12.00" fill="#abd0e6"/><ellipse cx="18.0" cy="15.0" rx="15.74" ry="7.87" fill="#abd0e6" transform="rotate(-5 18 15)"/><ellipse cx="25.0" cy="34.0" rx="7.97" ry="5.80" fill="#abd0e6" transform="rotate(20 25 34)"/><ellipse cx="34.0" cy="26.0" rx="3.60" ry="2.40" fill="#abd0e6"/><ellipse cx="21.0" cy="17.0" rx="16.80" ry="10.50" fill="#82bbdb"/><ellipse cx="18.0" cy="15.0" rx="14.11" ry="7.06" fill="#82bbdb" transform="rotate(-5 18 15)"/><ellipse cx="25.0" cy="34.0" rx="6.46" ry="4.70" fill="#82bbdb" transform="rotate(20 25 34)"/><ellipse cx="18.0" cy="15.0" rx="12.49" ry="6.24" fill="#58a1cf" transform="rotate(-5 18 15)"/><ellipse cx="25.0" cy="34.0" rx="4.95" ry="3.60" fill="#58a1cf" transform="rotate(20 25 34)"/><ellipse cx="18.0" cy="15.0" rx="10.86" ry="5.43" fill="#3787c0" transform="rotate(-5 18 15)"/><ellipse cx="18.0" cy="15.0" rx="9.23" ry="4.61" fill="#1b69af" transform="rotate(-5 18 15)"/><ellipse cx="18.0" cy="15.0" rx="7.60" ry="3.80" fill="#084d96" transform="rotate(-5 18 15)"/></g><line x1="21.1" y1="0" x2="21.1" y2="42.9" stroke="#9e9e9e" stroke-width="1.0"/><line x1="0" y1="21.4" x2="41.7" y2="21.4" stroke="#9e9e9e" stroke-width="1.0"/><g clip-path="url(#pc1)" fill="none" stroke="#f5a52a" stroke-width="1.15" stroke-linejoin="round"><path d="M6.5 19.2 L9.1 16.1 L11.7 14.5 L15.9 14.0 L17.4 12.8 L25.2 12.8 L26.8 15.1 L27.3 17.1 L29.4 19.2 L28.9 22.3 L26.8 23.4 L21.6 22.9 L18.0 21.8 L16.4 23.4 L11.2 22.9 L8.1 21.3 Z"/><path d="M22.5 43.0 L25.2 38.5 L23.6 35.7 L20.0 34.8 L19.0 31.7 L19.0 27.5 L20.0 26.5 L22.1 26.5 L24.7 29.6 L28.9 32.2 L35.1 37.9 L34.1 40.0 L29.9 41.6 L28.0 43.0"/><ellipse cx="38.4" cy="25.5" rx="2.3" ry="1.8"/></g><rect x="0" y="0" width="41.7" height="42.9" fill="none" stroke="#5a5a5a" stroke-width="1.1"/></g><g transform="translate(368.16,56.48)"><rect x="0" y="0" width="41.7" height="42.9" fill="#fff"/><g clip-path="url(#pc1)" filter="url(#bl)"><path d="M-2.0 1.9 L3.8 -0.6 L9.5 2.3 L15.2 3.7 L21.0 3.1 L26.8 1.0 L32.5 -0.3 L38.2 3.0 L44.0 3.1 L44 44 L-2 44 Z" fill="#e1edf8"/><ellipse cx="21.0" cy="17.0" rx="24.00" ry="15.00" fill="#e1edf8"/><ellipse cx="18.0" cy="15.0" rx="19.00" ry="9.50" fill="#e1edf8" transform="rotate(-5 18 15)"/><ellipse cx="25.0" cy="34.0" rx="11.00" ry="8.00" fill="#e1edf8" transform="rotate(20 25 34)"/><ellipse cx="34.0" cy="26.0" rx="6.00" ry="4.00" fill="#e1edf8"/><ellipse cx="21.0" cy="17.0" rx="22.20" ry="13.88" fill="#ccdff1"/><ellipse cx="18.0" cy="15.0" rx="17.57" ry="8.79" fill="#ccdff1" transform="rotate(-5 18 15)"/><ellipse cx="25.0" cy="34.0" rx="9.99" ry="7.27" fill="#ccdff1" transform="rotate(20 25 34)"/><ellipse cx="34.0" cy="26.0" rx="4.80" ry="3.20" fill="#ccdff1"/><ellipse cx="21.0" cy="17.0" rx="20.40" ry="12.75" fill="#abd0e6"/><ellipse cx="18.0" cy="15.0" rx="16.15" ry="8.07" fill="#abd0e6" transform="rotate(-5 18 15)"/><ellipse cx="25.0" cy="34.0" rx="8.98" ry="6.53" fill="#abd0e6" transform="rotate(20 25 34)"/><ellipse cx="34.0" cy="26.0" rx="3.60" ry="2.40" fill="#abd0e6"/><ellipse cx="21.0" cy="17.0" rx="18.60" ry="11.62" fill="#82bbdb"/><ellipse cx="18.0" cy="15.0" rx="14.72" ry="7.36" fill="#82bbdb" transform="rotate(-5 18 15)"/><ellipse cx="25.0" cy="34.0" rx="7.97" ry="5.80" fill="#82bbdb" transform="rotate(20 25 34)"/><ellipse cx="21.0" cy="17.0" rx="16.80" ry="10.50" fill="#58a1cf"/><ellipse cx="18.0" cy="15.0" rx="13.30" ry="6.65" fill="#58a1cf" transform="rotate(-5 18 15)"/><ellipse cx="25.0" cy="34.0" rx="6.97" ry="5.07" fill="#58a1cf" transform="rotate(20 25 34)"/><ellipse cx="18.0" cy="15.0" rx="11.88" ry="5.94" fill="#3787c0" transform="rotate(-5 18 15)"/><ellipse cx="25.0" cy="34.0" rx="5.96" ry="4.33" fill="#3787c0" transform="rotate(20 25 34)"/><ellipse cx="18.0" cy="15.0" rx="10.45" ry="5.23" fill="#1b69af" transform="rotate(-5 18 15)"/><ellipse cx="25.0" cy="34.0" rx="4.95" ry="3.60" fill="#1b69af" transform="rotate(20 25 34)"/><ellipse cx="18.0" cy="15.0" rx="9.03" ry="4.51" fill="#084d96" transform="rotate(-5 18 15)"/><ellipse cx="18.0" cy="15.0" rx="7.60" ry="3.80" fill="#08306b" transform="rotate(-5 18 15)"/></g><line x1="21.1" y1="0" x2="21.1" y2="42.9" stroke="#9e9e9e" stroke-width="1.0"/><line x1="0" y1="21.4" x2="41.7" y2="21.4" stroke="#9e9e9e" stroke-width="1.0"/><g clip-path="url(#pc1)" fill="none" stroke="#f5a52a" stroke-width="1.15" stroke-linejoin="round"><path d="M6.5 19.2 L9.1 16.1 L11.7 14.5 L15.9 14.0 L17.4 12.8 L25.2 12.8 L26.8 15.1 L27.3 17.1 L29.4 19.2 L28.9 22.3 L26.8 23.4 L21.6 22.9 L18.0 21.8 L16.4 23.4 L11.2 22.9 L8.1 21.3 Z"/><path d="M22.5 43.0 L25.2 38.5 L23.6 35.7 L20.0 34.8 L19.0 31.7 L19.0 27.5 L20.0 26.5 L22.1 26.5 L24.7 29.6 L28.9 32.2 L35.1 37.9 L34.1 40.0 L29.9 41.6 L28.0 43.0"/><ellipse cx="38.4" cy="25.5" rx="2.3" ry="1.8"/></g><rect x="0" y="0" width="41.7" height="42.9" fill="none" stroke="#5a5a5a" stroke-width="1.1"/></g><g transform="translate(411.86,56.48)"><rect x="0" y="0" width="41.7" height="42.9" fill="#fff"/><g clip-path="url(#pc1)" filter="url(#bl)"><path d="M-2.0 1.6 L3.8 -0.7 L9.5 3.3 L15.2 3.3 L21.0 3.2 L26.8 0.0 L32.5 0.5 L38.2 3.0 L44.0 3.6 L44 44 L-2 44 Z" fill="#e1edf8"/><ellipse cx="21.0" cy="17.0" rx="24.00" ry="15.00" fill="#e1edf8"/><ellipse cx="15.0" cy="13.0" rx="19.00" ry="9.50" fill="#e1edf8" transform="rotate(-5 15 13)"/><ellipse cx="25.0" cy="34.0" rx="11.00" ry="8.00" fill="#e1edf8" transform="rotate(20 25 34)"/><ellipse cx="34.0" cy="26.0" rx="6.00" ry="4.00" fill="#e1edf8"/><ellipse cx="21.0" cy="17.0" rx="21.60" ry="13.50" fill="#ccdff1"/><ellipse cx="15.0" cy="13.0" rx="17.10" ry="8.55" fill="#ccdff1" transform="rotate(-5 15 13)"/><ellipse cx="25.0" cy="34.0" rx="9.99" ry="7.27" fill="#ccdff1" transform="rotate(20 25 34)"/><ellipse cx="34.0" cy="26.0" rx="4.80" ry="3.20" fill="#ccdff1"/><ellipse cx="21.0" cy="17.0" rx="19.20" ry="12.00" fill="#abd0e6"/><ellipse cx="15.0" cy="13.0" rx="15.20" ry="7.60" fill="#abd0e6" transform="rotate(-5 15 13)"/><ellipse cx="25.0" cy="34.0" rx="8.98" ry="6.53" fill="#abd0e6" transform="rotate(20 25 34)"/><ellipse cx="34.0" cy="26.0" rx="3.60" ry="2.40" fill="#abd0e6"/><ellipse cx="21.0" cy="17.0" rx="16.80" ry="10.50" fill="#82bbdb"/><ellipse cx="15.0" cy="13.0" rx="13.30" ry="6.65" fill="#82bbdb" transform="rotate(-5 15 13)"/><ellipse cx="25.0" cy="34.0" rx="7.97" ry="5.80" fill="#82bbdb" transform="rotate(20 25 34)"/><ellipse cx="15.0" cy="13.0" rx="11.40" ry="5.70" fill="#58a1cf" transform="rotate(-5 15 13)"/><ellipse cx="25.0" cy="34.0" rx="6.97" ry="5.07" fill="#58a1cf" transform="rotate(20 25 34)"/><ellipse cx="15.0" cy="13.0" rx="9.50" ry="4.75" fill="#3787c0" transform="rotate(-5 15 13)"/><ellipse cx="25.0" cy="34.0" rx="5.96" ry="4.33" fill="#3787c0" transform="rotate(20 25 34)"/><ellipse cx="15.0" cy="13.0" rx="7.60" ry="3.80" fill="#1b69af" transform="rotate(-5 15 13)"/><ellipse cx="25.0" cy="34.0" rx="4.95" ry="3.60" fill="#1b69af" transform="rotate(20 25 34)"/></g><line x1="21.1" y1="0" x2="21.1" y2="42.9" stroke="#9e9e9e" stroke-width="1.0"/><line x1="0" y1="21.4" x2="41.7" y2="21.4" stroke="#9e9e9e" stroke-width="1.0"/><g clip-path="url(#pc1)" fill="none" stroke="#f5a52a" stroke-width="1.15" stroke-linejoin="round"><path d="M6.5 19.2 L9.1 16.1 L11.7 14.5 L15.9 14.0 L17.4 12.8 L25.2 12.8 L26.8 15.1 L27.3 17.1 L29.4 19.2 L28.9 22.3 L26.8 23.4 L21.6 22.9 L18.0 21.8 L16.4 23.4 L11.2 22.9 L8.1 21.3 Z"/><path d="M22.5 43.0 L25.2 38.5 L23.6 35.7 L20.0 34.8 L19.0 31.7 L19.0 27.5 L20.0 26.5 L22.1 26.5 L24.7 29.6 L28.9 32.2 L35.1 37.9 L34.1 40.0 L29.9 41.6 L28.0 43.0"/><ellipse cx="38.4" cy="25.5" rx="2.3" ry="1.8"/></g><rect x="0" y="0" width="41.7" height="42.9" fill="none" stroke="#5a5a5a" stroke-width="1.1"/></g><g transform="translate(18.56,102.40)"><rect x="0" y="0" width="41.7" height="42.0" fill="#fff"/><g clip-path="url(#pc2)" filter="url(#bl)"><path d="M-2.0 11.2 L3.8 8.8 L9.5 8.3 L15.2 4.4 L21.0 8.5 L26.8 9.5 L32.5 10.1 L38.2 6.5 L44.0 5.4 L44 44 L-2 44 Z" fill="#e1edf8" fill-opacity="0.75"/><ellipse cx="13.0" cy="32.0" rx="22.00" ry="10.00" fill="#e1edf8"/><ellipse cx="26.0" cy="22.0" rx="9.00" ry="6.00" fill="#e1edf8"/><ellipse cx="37.0" cy="7.0" rx="7.00" ry="6.00" fill="#fff"/><ellipse cx="40.0" cy="40.0" rx="4.00" ry="5.00" fill="#fff"/><ellipse cx="13.0" cy="32.0" rx="15.40" ry="7.00" fill="#ccdff1"/></g><line x1="21.1" y1="0" x2="21.1" y2="42.0" stroke="#9e9e9e" stroke-width="1.0"/><line x1="0" y1="21.0" x2="41.7" y2="21.0" stroke="#9e9e9e" stroke-width="1.0"/><g clip-path="url(#pc2)" fill="none" stroke="#f5a52a" stroke-width="1.15" stroke-linejoin="round"><path d="M-1.0 25.5 L16.9 25.5 L16.9 18.7 L18.5 16.6 L28.9 16.6 L31.1 18.2 L31.1 20.8 L28.9 22.9 L26.3 22.5 L25.2 21.3 L23.7 21.3 L22.6 23.4 L24.2 26.0 L26.8 28.6 L26.3 31.7 L24.7 33.8 L22.6 35.8 L20.6 37.4 L18.5 36.4 L16.4 35.3 L14.3 35.8 L12.2 37.4 L6.0 37.9 L3.9 39.8 L-1.0 39.8"/></g><rect x="0" y="0" width="41.7" height="42.0" fill="none" stroke="#5a5a5a" stroke-width="1.1"/></g><g transform="translate(62.26,102.40)"><rect x="0" y="0" width="41.7" height="42.0" fill="#fff"/><g clip-path="url(#pc2)" filter="url(#bl)"><path d="M-2.0 11.2 L3.8 8.5 L9.5 7.6 L15.2 4.4 L21.0 9.5 L26.8 9.3 L32.5 10.0 L38.2 5.3 L44.0 6.5 L44 44 L-2 44 Z" fill="#e1edf8" fill-opacity="0.75"/><ellipse cx="13.0" cy="32.0" rx="22.00" ry="10.00" fill="#e1edf8"/><ellipse cx="26.0" cy="22.0" rx="9.00" ry="6.00" fill="#e1edf8"/><ellipse cx="37.0" cy="7.0" rx="7.00" ry="6.00" fill="#fff"/><ellipse cx="40.0" cy="40.0" rx="4.00" ry="5.00" fill="#fff"/><ellipse cx="13.0" cy="32.0" rx="15.40" ry="7.00" fill="#ccdff1"/></g><line x1="21.1" y1="0" x2="21.1" y2="42.0" stroke="#9e9e9e" stroke-width="1.0"/><line x1="0" y1="21.0" x2="41.7" y2="21.0" stroke="#9e9e9e" stroke-width="1.0"/><g clip-path="url(#pc2)" fill="none" stroke="#f5a52a" stroke-width="1.15" stroke-linejoin="round"><path d="M-1.0 25.5 L16.9 25.5 L16.9 18.7 L18.5 16.6 L28.9 16.6 L31.1 18.2 L31.1 20.8 L28.9 22.9 L26.3 22.5 L25.2 21.3 L23.7 21.3 L22.6 23.4 L24.2 26.0 L26.8 28.6 L26.3 31.7 L24.7 33.8 L22.6 35.8 L20.6 37.4 L18.5 36.4 L16.4 35.3 L14.3 35.8 L12.2 37.4 L6.0 37.9 L3.9 39.8 L-1.0 39.8"/></g><rect x="0" y="0" width="41.7" height="42.0" fill="none" stroke="#5a5a5a" stroke-width="1.1"/></g><g transform="translate(105.96,102.40)"><rect x="0" y="0" width="41.7" height="42.0" fill="#fff"/><g clip-path="url(#pc2)" filter="url(#bl)"><path d="M-2.0 10.7 L3.8 8.4 L9.5 6.7 L15.2 5.1 L21.0 10.1 L26.8 9.3 L32.5 9.6 L38.2 4.5 L44.0 7.5 L44 44 L-2 44 Z" fill="#e1edf8" fill-opacity="0.75"/><ellipse cx="13.0" cy="32.0" rx="22.00" ry="10.00" fill="#e1edf8"/><ellipse cx="26.0" cy="22.0" rx="9.00" ry="6.00" fill="#e1edf8"/><ellipse cx="37.0" cy="7.0" rx="7.00" ry="6.00" fill="#fff"/><ellipse cx="40.0" cy="40.0" rx="4.00" ry="5.00" fill="#fff"/><ellipse cx="13.0" cy="32.0" rx="15.40" ry="7.00" fill="#ccdff1"/></g><line x1="21.1" y1="0" x2="21.1" y2="42.0" stroke="#9e9e9e" stroke-width="1.0"/><line x1="0" y1="21.0" x2="41.7" y2="21.0" stroke="#9e9e9e" stroke-width="1.0"/><g clip-path="url(#pc2)" fill="none" stroke="#f5a52a" stroke-width="1.15" stroke-linejoin="round"><path d="M-1.0 25.5 L16.9 25.5 L16.9 18.7 L18.5 16.6 L28.9 16.6 L31.1 18.2 L31.1 20.8 L28.9 22.9 L26.3 22.5 L25.2 21.3 L23.7 21.3 L22.6 23.4 L24.2 26.0 L26.8 28.6 L26.3 31.7 L24.7 33.8 L22.6 35.8 L20.6 37.4 L18.5 36.4 L16.4 35.3 L14.3 35.8 L12.2 37.4 L6.0 37.9 L3.9 39.8 L-1.0 39.8"/></g><rect x="0" y="0" width="41.7" height="42.0" fill="none" stroke="#5a5a5a" stroke-width="1.1"/></g><g transform="translate(149.66,102.40)"><rect x="0" y="0" width="41.7" height="42.0" fill="#fff"/><g clip-path="url(#pc2)" filter="url(#bl)"><path d="M-2.0 9.9 L3.8 8.4 L9.5 5.7 L15.2 6.3 L21.0 10.3 L26.8 9.4 L32.5 8.6 L38.2 4.3 L44.0 8.3 L44 44 L-2 44 Z" fill="#e1edf8" fill-opacity="0.75"/><ellipse cx="13.0" cy="32.0" rx="22.00" ry="10.00" fill="#e1edf8"/><ellipse cx="26.0" cy="22.0" rx="9.00" ry="6.00" fill="#e1edf8"/><ellipse cx="37.0" cy="7.0" rx="7.00" ry="6.00" fill="#fff"/><ellipse cx="40.0" cy="40.0" rx="4.00" ry="5.00" fill="#fff"/><ellipse cx="13.0" cy="32.0" rx="18.70" ry="8.50" fill="#ccdff1"/><ellipse cx="13.0" cy="32.0" rx="15.40" ry="7.00" fill="#abd0e6"/></g><line x1="21.1" y1="0" x2="21.1" y2="42.0" stroke="#9e9e9e" stroke-width="1.0"/><line x1="0" y1="21.0" x2="41.7" y2="21.0" stroke="#9e9e9e" stroke-width="1.0"/><g clip-path="url(#pc2)" fill="none" stroke="#f5a52a" stroke-width="1.15" stroke-linejoin="round"><path d="M-1.0 25.5 L16.9 25.5 L16.9 18.7 L18.5 16.6 L28.9 16.6 L31.1 18.2 L31.1 20.8 L28.9 22.9 L26.3 22.5 L25.2 21.3 L23.7 21.3 L22.6 23.4 L24.2 26.0 L26.8 28.6 L26.3 31.7 L24.7 33.8 L22.6 35.8 L20.6 37.4 L18.5 36.4 L16.4 35.3 L14.3 35.8 L12.2 37.4 L6.0 37.9 L3.9 39.8 L-1.0 39.8"/></g><rect x="0" y="0" width="41.7" height="42.0" fill="none" stroke="#5a5a5a" stroke-width="1.1"/></g><g transform="translate(193.36,102.40)"><rect x="0" y="0" width="41.7" height="42.0" fill="#fff"/><g clip-path="url(#pc2)" filter="url(#bl)"><path d="M-2.0 9.1 L3.8 8.3 L9.5 4.8 L15.2 7.7 L21.0 10.0 L26.8 9.6 L32.5 7.3 L38.2 4.8 L44.0 8.8 L44 44 L-2 44 Z" fill="#e1edf8" fill-opacity="0.75"/><ellipse cx="13.0" cy="32.0" rx="22.00" ry="10.00" fill="#e1edf8"/><ellipse cx="26.0" cy="22.0" rx="9.00" ry="6.00" fill="#e1edf8"/><ellipse cx="37.0" cy="7.0" rx="7.00" ry="6.00" fill="#fff"/><ellipse cx="40.0" cy="40.0" rx="4.00" ry="5.00" fill="#fff"/><ellipse cx="13.0" cy="32.0" rx="17.97" ry="8.17" fill="#ccdff1"/><ellipse cx="26.0" cy="22.0" rx="3.60" ry="2.40" fill="#ccdff1"/><ellipse cx="13.0" cy="32.0" rx="13.93" ry="6.33" fill="#abd0e6"/><ellipse cx="13.0" cy="32.0" rx="9.90" ry="4.50" fill="#82bbdb"/></g><line x1="21.1" y1="0" x2="21.1" y2="42.0" stroke="#9e9e9e" stroke-width="1.0"/><line x1="0" y1="21.0" x2="41.7" y2="21.0" stroke="#9e9e9e" stroke-width="1.0"/><g clip-path="url(#pc2)" fill="none" stroke="#f5a52a" stroke-width="1.15" stroke-linejoin="round"><path d="M-1.0 25.5 L16.9 25.5 L16.9 18.7 L18.5 16.6 L28.9 16.6 L31.1 18.2 L31.1 20.8 L28.9 22.9 L26.3 22.5 L25.2 21.3 L23.7 21.3 L22.6 23.4 L24.2 26.0 L26.8 28.6 L26.3 31.7 L24.7 33.8 L22.6 35.8 L20.6 37.4 L18.5 36.4 L16.4 35.3 L14.3 35.8 L12.2 37.4 L6.0 37.9 L3.9 39.8 L-1.0 39.8"/></g><rect x="0" y="0" width="41.7" height="42.0" fill="none" stroke="#5a5a5a" stroke-width="1.1"/></g><g transform="translate(237.06,102.40)"><rect x="0" y="0" width="41.7" height="42.0" fill="#fff"/><g clip-path="url(#pc2)" filter="url(#bl)"><path d="M-2.0 8.4 L3.8 7.9 L9.5 4.4 L15.2 9.0 L21.0 9.6 L26.8 9.8 L32.5 6.0 L38.2 5.8 L44.0 8.9 L44 44 L-2 44 Z" fill="#e1edf8" fill-opacity="0.75"/><ellipse cx="13.0" cy="32.0" rx="22.00" ry="10.00" fill="#e1edf8"/><ellipse cx="26.0" cy="22.0" rx="9.00" ry="6.00" fill="#e1edf8"/><ellipse cx="37.0" cy="7.0" rx="7.00" ry="6.00" fill="#fff"/><ellipse cx="40.0" cy="40.0" rx="4.00" ry="5.00" fill="#fff"/><ellipse cx="13.0" cy="32.0" rx="17.97" ry="8.17" fill="#ccdff1"/><ellipse cx="26.0" cy="22.0" rx="6.30" ry="4.20" fill="#ccdff1"/><ellipse cx="13.0" cy="32.0" rx="13.93" ry="6.33" fill="#abd0e6"/><ellipse cx="26.0" cy="22.0" rx="3.60" ry="2.40" fill="#abd0e6"/><ellipse cx="13.0" cy="32.0" rx="9.90" ry="4.50" fill="#82bbdb"/></g><line x1="21.1" y1="0" x2="21.1" y2="42.0" stroke="#9e9e9e" stroke-width="1.0"/><line x1="0" y1="21.0" x2="41.7" y2="21.0" stroke="#9e9e9e" stroke-width="1.0"/><g clip-path="url(#pc2)" fill="none" stroke="#f5a52a" stroke-width="1.15" stroke-linejoin="round"><path d="M-1.0 25.5 L16.9 25.5 L16.9 18.7 L18.5 16.6 L28.9 16.6 L31.1 18.2 L31.1 20.8 L28.9 22.9 L26.3 22.5 L25.2 21.3 L23.7 21.3 L22.6 23.4 L24.2 26.0 L26.8 28.6 L26.3 31.7 L24.7 33.8 L22.6 35.8 L20.6 37.4 L18.5 36.4 L16.4 35.3 L14.3 35.8 L12.2 37.4 L6.0 37.9 L3.9 39.8 L-1.0 39.8"/></g><rect x="0" y="0" width="41.7" height="42.0" fill="none" stroke="#5a5a5a" stroke-width="1.1"/></g><g transform="translate(280.76,102.40)"><rect x="0" y="0" width="41.7" height="42.0" fill="#fff"/><g clip-path="url(#pc2)" filter="url(#bl)"><path d="M-2.0 8.1 L3.8 7.2 L9.5 4.7 L15.2 10.0 L21.0 9.3 L26.8 9.6 L32.5 4.9 L38.2 6.9 L44.0 8.9 L44 44 L-2 44 Z" fill="#e1edf8" fill-opacity="0.75"/><ellipse cx="13.0" cy="32.0" rx="22.00" ry="10.00" fill="#e1edf8"/><ellipse cx="26.0" cy="22.0" rx="9.00" ry="6.00" fill="#e1edf8"/><ellipse cx="37.0" cy="7.0" rx="7.00" ry="6.00" fill="#fff"/><ellipse cx="40.0" cy="40.0" rx="4.00" ry="5.00" fill="#fff"/><ellipse cx="13.0" cy="32.0" rx="18.98" ry="8.62" fill="#ccdff1"/><ellipse cx="26.0" cy="22.0" rx="7.20" ry="4.80" fill="#ccdff1"/><ellipse cx="13.0" cy="32.0" rx="15.95" ry="7.25" fill="#abd0e6"/><ellipse cx="26.0" cy="22.0" rx="5.40" ry="3.60" fill="#abd0e6"/><ellipse cx="13.0" cy="32.0" rx="12.92" ry="5.87" fill="#82bbdb"/><ellipse cx="26.0" cy="22.0" rx="3.60" ry="2.40" fill="#82bbdb"/><ellipse cx="13.0" cy="32.0" rx="9.90" ry="4.50" fill="#58a1cf"/></g><line x1="21.1" y1="0" x2="21.1" y2="42.0" stroke="#9e9e9e" stroke-width="1.0"/><line x1="0" y1="21.0" x2="41.7" y2="21.0" stroke="#9e9e9e" stroke-width="1.0"/><g clip-path="url(#pc2)" fill="none" stroke="#f5a52a" stroke-width="1.15" stroke-linejoin="round"><path d="M-1.0 25.5 L16.9 25.5 L16.9 18.7 L18.5 16.6 L28.9 16.6 L31.1 18.2 L31.1 20.8 L28.9 22.9 L26.3 22.5 L25.2 21.3 L23.7 21.3 L22.6 23.4 L24.2 26.0 L26.8 28.6 L26.3 31.7 L24.7 33.8 L22.6 35.8 L20.6 37.4 L18.5 36.4 L16.4 35.3 L14.3 35.8 L12.2 37.4 L6.0 37.9 L3.9 39.8 L-1.0 39.8"/></g><rect x="0" y="0" width="41.7" height="42.0" fill="none" stroke="#5a5a5a" stroke-width="1.1"/></g><g transform="translate(324.46,102.40)"><rect x="0" y="0" width="41.7" height="42.0" fill="#fff"/><g clip-path="url(#pc2)" filter="url(#bl)"><path d="M-2.0 8.0 L3.8 6.3 L9.5 5.6 L15.2 10.5 L21.0 9.2 L26.8 9.1 L32.5 4.3 L38.2 8.0 L44.0 8.9 L44 44 L-2 44 Z" fill="#e1edf8" fill-opacity="0.75"/><ellipse cx="13.0" cy="32.0" rx="22.00" ry="10.00" fill="#e1edf8"/><ellipse cx="26.0" cy="22.0" rx="9.00" ry="6.00" fill="#e1edf8"/><ellipse cx="32.0" cy="29.0" rx="6.00" ry="8.00" fill="#e1edf8"/><ellipse cx="37.0" cy="7.0" rx="7.00" ry="6.00" fill="#fff"/><ellipse cx="40.0" cy="40.0" rx="4.00" ry="5.00" fill="#fff"/><ellipse cx="13.0" cy="32.0" rx="19.98" ry="9.08" fill="#ccdff1"/><ellipse cx="26.0" cy="22.0" rx="7.65" ry="5.10" fill="#ccdff1"/><ellipse cx="32.0" cy="29.0" rx="4.50" ry="6.00" fill="#ccdff1"/><ellipse cx="13.0" cy="32.0" rx="17.97" ry="8.17" fill="#abd0e6"/><ellipse cx="26.0" cy="22.0" rx="6.30" ry="4.20" fill="#abd0e6"/><ellipse cx="32.0" cy="29.0" rx="3.00" ry="4.00" fill="#abd0e6"/><ellipse cx="13.0" cy="32.0" rx="15.95" ry="7.25" fill="#82bbdb"/><ellipse cx="26.0" cy="22.0" rx="4.95" ry="3.30" fill="#82bbdb"/><ellipse cx="13.0" cy="32.0" rx="13.93" ry="6.33" fill="#58a1cf"/><ellipse cx="26.0" cy="22.0" rx="3.60" ry="2.40" fill="#58a1cf"/><ellipse cx="13.0" cy="32.0" rx="11.92" ry="5.42" fill="#3787c0"/><ellipse cx="13.0" cy="32.0" rx="9.90" ry="4.50" fill="#1b69af"/></g><line x1="21.1" y1="0" x2="21.1" y2="42.0" stroke="#9e9e9e" stroke-width="1.0"/><line x1="0" y1="21.0" x2="41.7" y2="21.0" stroke="#9e9e9e" stroke-width="1.0"/><g clip-path="url(#pc2)" fill="none" stroke="#f5a52a" stroke-width="1.15" stroke-linejoin="round"><path d="M-1.0 25.5 L16.9 25.5 L16.9 18.7 L18.5 16.6 L28.9 16.6 L31.1 18.2 L31.1 20.8 L28.9 22.9 L26.3 22.5 L25.2 21.3 L23.7 21.3 L22.6 23.4 L24.2 26.0 L26.8 28.6 L26.3 31.7 L24.7 33.8 L22.6 35.8 L20.6 37.4 L18.5 36.4 L16.4 35.3 L14.3 35.8 L12.2 37.4 L6.0 37.9 L3.9 39.8 L-1.0 39.8"/></g><rect x="0" y="0" width="41.7" height="42.0" fill="none" stroke="#5a5a5a" stroke-width="1.1"/></g><g transform="translate(368.16,102.40)"><rect x="0" y="0" width="41.7" height="42.0" fill="#fff"/><g clip-path="url(#pc2)" filter="url(#bl)"><path d="M-2.0 8.0 L3.8 5.4 L9.5 6.9 L15.2 10.5 L21.0 9.2 L26.8 8.1 L32.5 4.4 L38.2 8.8 L44.0 9.0 L44 44 L-2 44 Z" fill="#e1edf8" fill-opacity="0.75"/><ellipse cx="13.0" cy="32.0" rx="22.00" ry="10.00" fill="#e1edf8"/><ellipse cx="26.0" cy="22.0" rx="9.00" ry="6.00" fill="#e1edf8"/><ellipse cx="32.0" cy="29.0" rx="6.00" ry="8.00" fill="#e1edf8"/><ellipse cx="37.0" cy="7.0" rx="7.00" ry="6.00" fill="#fff"/><ellipse cx="40.0" cy="40.0" rx="4.00" ry="5.00" fill="#fff"/><ellipse cx="13.0" cy="32.0" rx="20.49" ry="9.31" fill="#ccdff1"/><ellipse cx="26.0" cy="22.0" rx="7.92" ry="5.28" fill="#ccdff1"/><ellipse cx="32.0" cy="29.0" rx="4.50" ry="6.00" fill="#ccdff1"/><ellipse cx="13.0" cy="32.0" rx="18.98" ry="8.62" fill="#abd0e6"/><ellipse cx="26.0" cy="22.0" rx="6.84" ry="4.56" fill="#abd0e6"/><ellipse cx="32.0" cy="29.0" rx="3.00" ry="4.00" fill="#abd0e6"/><ellipse cx="13.0" cy="32.0" rx="17.46" ry="7.94" fill="#82bbdb"/><ellipse cx="26.0" cy="22.0" rx="5.76" ry="3.84" fill="#82bbdb"/><ellipse cx="13.0" cy="32.0" rx="15.95" ry="7.25" fill="#58a1cf"/><ellipse cx="26.0" cy="22.0" rx="4.68" ry="3.12" fill="#58a1cf"/><ellipse cx="13.0" cy="32.0" rx="14.44" ry="6.56" fill="#3787c0"/><ellipse cx="26.0" cy="22.0" rx="3.60" ry="2.40" fill="#3787c0"/><ellipse cx="13.0" cy="32.0" rx="12.92" ry="5.87" fill="#1b69af"/><ellipse cx="13.0" cy="32.0" rx="11.41" ry="5.19" fill="#084d96"/><ellipse cx="13.0" cy="32.0" rx="9.90" ry="4.50" fill="#08306b"/></g><line x1="21.1" y1="0" x2="21.1" y2="42.0" stroke="#9e9e9e" stroke-width="1.0"/><line x1="0" y1="21.0" x2="41.7" y2="21.0" stroke="#9e9e9e" stroke-width="1.0"/><g clip-path="url(#pc2)" fill="none" stroke="#f5a52a" stroke-width="1.15" stroke-linejoin="round"><path d="M-1.0 25.5 L16.9 25.5 L16.9 18.7 L18.5 16.6 L28.9 16.6 L31.1 18.2 L31.1 20.8 L28.9 22.9 L26.3 22.5 L25.2 21.3 L23.7 21.3 L22.6 23.4 L24.2 26.0 L26.8 28.6 L26.3 31.7 L24.7 33.8 L22.6 35.8 L20.6 37.4 L18.5 36.4 L16.4 35.3 L14.3 35.8 L12.2 37.4 L6.0 37.9 L3.9 39.8 L-1.0 39.8"/></g><rect x="0" y="0" width="41.7" height="42.0" fill="none" stroke="#5a5a5a" stroke-width="1.1"/></g><g transform="translate(411.86,102.40)"><rect x="0" y="0" width="41.7" height="42.0" fill="#fff"/><g clip-path="url(#pc2)" filter="url(#bl)"><path d="M-2.0 7.9 L3.8 4.8 L9.5 8.3 L15.2 10.1 L21.0 9.4 L26.8 6.8 L32.5 5.1 L38.2 9.2 L44.0 9.4 L44 44 L-2 44 Z" fill="#e1edf8" fill-opacity="0.75"/><ellipse cx="13.0" cy="32.0" rx="22.00" ry="10.00" fill="#e1edf8"/><ellipse cx="26.0" cy="22.0" rx="9.00" ry="6.00" fill="#e1edf8"/><ellipse cx="32.0" cy="29.0" rx="6.00" ry="8.00" fill="#e1edf8"/><ellipse cx="37.0" cy="7.0" rx="7.00" ry="6.00" fill="#fff"/><ellipse cx="40.0" cy="40.0" rx="4.00" ry="5.00" fill="#fff"/><ellipse cx="13.0" cy="32.0" rx="20.49" ry="9.31" fill="#ccdff1"/><ellipse cx="26.0" cy="22.0" rx="8.23" ry="5.49" fill="#ccdff1"/><ellipse cx="32.0" cy="29.0" rx="4.50" ry="6.00" fill="#ccdff1"/><ellipse cx="13.0" cy="32.0" rx="18.98" ry="8.62" fill="#abd0e6"/><ellipse cx="26.0" cy="22.0" rx="7.46" ry="4.97" fill="#abd0e6"/><ellipse cx="32.0" cy="29.0" rx="3.00" ry="4.00" fill="#abd0e6"/><ellipse cx="13.0" cy="32.0" rx="17.46" ry="7.94" fill="#82bbdb"/><ellipse cx="26.0" cy="22.0" rx="6.69" ry="4.46" fill="#82bbdb"/><ellipse cx="13.0" cy="32.0" rx="15.95" ry="7.25" fill="#58a1cf"/><ellipse cx="26.0" cy="22.0" rx="5.91" ry="3.94" fill="#58a1cf"/><ellipse cx="13.0" cy="32.0" rx="14.44" ry="6.56" fill="#3787c0"/><ellipse cx="26.0" cy="22.0" rx="5.14" ry="3.43" fill="#3787c0"/><ellipse cx="13.0" cy="32.0" rx="12.92" ry="5.87" fill="#1b69af"/><ellipse cx="26.0" cy="22.0" rx="4.37" ry="2.91" fill="#1b69af"/><ellipse cx="13.0" cy="32.0" rx="11.41" ry="5.19" fill="#084d96"/><ellipse cx="26.0" cy="22.0" rx="3.60" ry="2.40" fill="#084d96"/><ellipse cx="13.0" cy="32.0" rx="9.90" ry="4.50" fill="#08306b"/></g><line x1="21.1" y1="0" x2="21.1" y2="42.0" stroke="#9e9e9e" stroke-width="1.0"/><line x1="0" y1="21.0" x2="41.7" y2="21.0" stroke="#9e9e9e" stroke-width="1.0"/><g clip-path="url(#pc2)" fill="none" stroke="#f5a52a" stroke-width="1.15" stroke-linejoin="round"><path d="M-1.0 25.5 L16.9 25.5 L16.9 18.7 L18.5 16.6 L28.9 16.6 L31.1 18.2 L31.1 20.8 L28.9 22.9 L26.3 22.5 L25.2 21.3 L23.7 21.3 L22.6 23.4 L24.2 26.0 L26.8 28.6 L26.3 31.7 L24.7 33.8 L22.6 35.8 L20.6 37.4 L18.5 36.4 L16.4 35.3 L14.3 35.8 L12.2 37.4 L6.0 37.9 L3.9 39.8 L-1.0 39.8"/></g><rect x="0" y="0" width="41.7" height="42.0" fill="none" stroke="#5a5a5a" stroke-width="1.1"/></g><g transform="translate(15.8,32.4) rotate(-90)"><text text-anchor="middle" font-size="7.6" fill="#333">t<tspan font-size="4.6" dy="1.2">cyc</tspan><tspan dy="-1.2">=24h</tspan></text></g><g transform="translate(15.8,77.9) rotate(-90)"><text text-anchor="middle" font-size="7.6" fill="#333">t<tspan font-size="4.6" dy="1.2">cyc</tspan><tspan dy="-1.2">=12h</tspan></text></g><g transform="translate(15.8,123.4) rotate(-90)"><text text-anchor="middle" font-size="7.6" fill="#333">t<tspan font-size="4.6" dy="1.2">cyc</tspan><tspan dy="-1.2">=0h</tspan></text></g><text x="39.4" y="153.9" text-anchor="middle" font-size="7.1" fill="#333">t<tspan font-size="4.3" dy="2.2">tc</tspan><tspan dy="-2.2">=120h</tspan></text><text x="83.1" y="153.9" text-anchor="middle" font-size="7.1" fill="#333">t<tspan font-size="4.3" dy="2.2">tc</tspan><tspan dy="-2.2">=108h</tspan></text><text x="126.8" y="153.9" text-anchor="middle" font-size="7.1" fill="#333">t<tspan font-size="4.3" dy="2.2">tc</tspan><tspan dy="-2.2">=96h</tspan></text><text x="170.5" y="153.9" text-anchor="middle" font-size="7.1" fill="#333">t<tspan font-size="4.3" dy="2.2">tc</tspan><tspan dy="-2.2">=84h</tspan></text><text x="214.2" y="153.9" text-anchor="middle" font-size="7.1" fill="#333">t<tspan font-size="4.3" dy="2.2">tc</tspan><tspan dy="-2.2">=72h</tspan></text><text x="257.9" y="153.9" text-anchor="middle" font-size="7.1" fill="#333">t<tspan font-size="4.3" dy="2.2">tc</tspan><tspan dy="-2.2">=60h</tspan></text><text x="301.6" y="153.9" text-anchor="middle" font-size="7.1" fill="#333">t<tspan font-size="4.3" dy="2.2">tc</tspan><tspan dy="-2.2">=48h</tspan></text><text x="345.3" y="153.9" text-anchor="middle" font-size="7.1" fill="#333">t<tspan font-size="4.3" dy="2.2">tc</tspan><tspan dy="-2.2">=36h</tspan></text><text x="389.0" y="153.9" text-anchor="middle" font-size="7.1" fill="#333">t<tspan font-size="4.3" dy="2.2">tc</tspan><tspan dy="-2.2">=24h</tspan></text><text x="432.7" y="153.9" text-anchor="middle" font-size="7.1" fill="#333">t<tspan font-size="4.3" dy="2.2">tc</tspan><tspan dy="-2.2">=12h</tspan></text><g transform="translate(18.56,162.60)"><rect x="0" y="0" width="41.7" height="41.8" fill="#fff"/><g clip-path="url(#pc0)" filter="url(#bl)"><path d="M-2.0 13.8 L3.8 12.6 L9.5 12.3 L15.2 9.9 L21.0 12.0 L26.8 13.0 L32.5 13.2 L38.2 11.4 L44.0 10.3 L44 44 L-2 44 Z" fill="#fee8d2" fill-opacity="0.8"/><ellipse cx="10.0" cy="46.0" rx="30.00" ry="17.00" fill="#fee8d2"/><ellipse cx="9.0" cy="9.0" rx="11.00" ry="6.00" fill="#fee8d2"/><path d="M-2.0 27.6 L3.8 26.2 L9.5 25.2 L15.2 24.3 L21.0 27.3 L26.8 26.8 L32.5 26.9 L38.2 23.9 L44.0 25.7 L44 44 L-2 44 Z" fill="#fdd5ad"/><ellipse cx="10.0" cy="46.0" rx="25.50" ry="14.45" fill="#fdd5ad"/><ellipse cx="10.0" cy="46.0" rx="21.00" ry="11.90" fill="#fdb97d"/></g><line x1="21.1" y1="0" x2="21.1" y2="41.8" stroke="#9e9e9e" stroke-width="1.0"/><line x1="0" y1="20.7" x2="41.7" y2="20.7" stroke="#9e9e9e" stroke-width="1.0"/><g clip-path="url(#pc0)" fill="none" stroke="#2a2a2a" stroke-width="1.05" stroke-linejoin="round"><path d="M13.2 15.5 L14.6 14.5 L16.3 15.8 L17.3 18.2 L20.0 19.6 L22.1 20.9 L25.5 21.3 L27.2 23.3 L26.8 25.3 L25.1 26.7 L23.1 25.0 L21.0 24.3 L18.3 23.6 L15.6 22.6 L13.6 21.3 L12.9 18.9 L12.9 16.5 Z"/><path d="M29.9 28.7 L32.6 26.7 L35.7 25.3 L37.4 27.0 L37.0 29.4 L34.7 30.8 L30.9 30.4 Z"/><path d="M-1.0 28.0 L0.6 28.0 L3.2 29.1 L6.3 30.6 L8.9 31.6 L15.6 31.5 L16.6 30.1 L14.9 28.8 L16.6 27.4 L20.4 31.1 L27.2 31.5 L29.9 34.2 L31.2 36.9 L32.9 40.0 L33.3 43.0"/><path d="M-1.0 37.6 L0.6 37.4 L3.7 35.8 L4.7 36.4 L4.7 43.0"/></g><rect x="0" y="0" width="41.7" height="41.8" fill="none" stroke="#5a5a5a" stroke-width="1.1"/></g><g transform="translate(62.26,162.60)"><rect x="0" y="0" width="41.7" height="41.8" fill="#fff"/><g clip-path="url(#pc0)" filter="url(#bl)"><path d="M-2.0 13.9 L3.8 12.3 L9.5 11.9 L15.2 9.8 L21.0 12.7 L26.8 12.8 L32.5 13.3 L38.2 10.6 L44.0 10.9 L44 44 L-2 44 Z" fill="#fee8d2" fill-opacity="0.8"/><ellipse cx="10.0" cy="46.0" rx="30.00" ry="17.00" fill="#fee8d2"/><ellipse cx="9.0" cy="9.0" rx="11.00" ry="6.00" fill="#fee8d2"/><path d="M-2.0 27.1 L3.8 26.2 L9.5 24.6 L15.2 25.0 L21.0 27.4 L26.8 26.8 L32.5 26.4 L38.2 23.8 L44.0 26.2 L44 44 L-2 44 Z" fill="#fdd5ad"/><ellipse cx="10.0" cy="46.0" rx="25.50" ry="14.45" fill="#fdd5ad"/><ellipse cx="10.0" cy="46.0" rx="21.00" ry="11.90" fill="#fdb97d"/></g><line x1="21.1" y1="0" x2="21.1" y2="41.8" stroke="#9e9e9e" stroke-width="1.0"/><line x1="0" y1="20.7" x2="41.7" y2="20.7" stroke="#9e9e9e" stroke-width="1.0"/><g clip-path="url(#pc0)" fill="none" stroke="#2a2a2a" stroke-width="1.05" stroke-linejoin="round"><path d="M13.2 15.5 L14.6 14.5 L16.3 15.8 L17.3 18.2 L20.0 19.6 L22.1 20.9 L25.5 21.3 L27.2 23.3 L26.8 25.3 L25.1 26.7 L23.1 25.0 L21.0 24.3 L18.3 23.6 L15.6 22.6 L13.6 21.3 L12.9 18.9 L12.9 16.5 Z"/><path d="M29.9 28.7 L32.6 26.7 L35.7 25.3 L37.4 27.0 L37.0 29.4 L34.7 30.8 L30.9 30.4 Z"/><path d="M-1.0 28.0 L0.6 28.0 L3.2 29.1 L6.3 30.6 L8.9 31.6 L15.6 31.5 L16.6 30.1 L14.9 28.8 L16.6 27.4 L20.4 31.1 L27.2 31.5 L29.9 34.2 L31.2 36.9 L32.9 40.0 L33.3 43.0"/><path d="M-1.0 37.6 L0.6 37.4 L3.7 35.8 L4.7 36.4 L4.7 43.0"/></g><rect x="0" y="0" width="41.7" height="41.8" fill="none" stroke="#5a5a5a" stroke-width="1.1"/></g><g transform="translate(105.96,162.60)"><rect x="0" y="0" width="41.7" height="41.8" fill="#fff"/><g clip-path="url(#pc0)" filter="url(#bl)"><path d="M-2.0 13.7 L3.8 12.2 L9.5 11.4 L15.2 10.1 L21.0 13.2 L26.8 12.7 L32.5 13.1 L38.2 10.0 L44.0 11.5 L44 44 L-2 44 Z" fill="#fee8d2" fill-opacity="0.8"/><ellipse cx="10.0" cy="46.0" rx="30.00" ry="17.00" fill="#fee8d2"/><ellipse cx="9.0" cy="9.0" rx="11.00" ry="6.00" fill="#fee8d2"/><path d="M-2.0 26.6 L3.8 26.2 L9.5 24.1 L15.2 25.8 L21.0 27.2 L26.8 27.0 L32.5 25.6 L38.2 24.1 L44.0 26.5 L44 44 L-2 44 Z" fill="#fdd5ad"/><ellipse cx="10.0" cy="46.0" rx="27.00" ry="15.30" fill="#fdd5ad"/><ellipse cx="10.0" cy="46.0" rx="24.00" ry="13.60" fill="#fdb97d"/><ellipse cx="10.0" cy="46.0" rx="21.00" ry="11.90" fill="#fd9c51"/></g><line x1="21.1" y1="0" x2="21.1" y2="41.8" stroke="#9e9e9e" stroke-width="1.0"/><line x1="0" y1="20.7" x2="41.7" y2="20.7" stroke="#9e9e9e" stroke-width="1.0"/><g clip-path="url(#pc0)" fill="none" stroke="#2a2a2a" stroke-width="1.05" stroke-linejoin="round"><path d="M13.2 15.5 L14.6 14.5 L16.3 15.8 L17.3 18.2 L20.0 19.6 L22.1 20.9 L25.5 21.3 L27.2 23.3 L26.8 25.3 L25.1 26.7 L23.1 25.0 L21.0 24.3 L18.3 23.6 L15.6 22.6 L13.6 21.3 L12.9 18.9 L12.9 16.5 Z"/><path d="M29.9 28.7 L32.6 26.7 L35.7 25.3 L37.4 27.0 L37.0 29.4 L34.7 30.8 L30.9 30.4 Z"/><path d="M-1.0 28.0 L0.6 28.0 L3.2 29.1 L6.3 30.6 L8.9 31.6 L15.6 31.5 L16.6 30.1 L14.9 28.8 L16.6 27.4 L20.4 31.1 L27.2 31.5 L29.9 34.2 L31.2 36.9 L32.9 40.0 L33.3 43.0"/><path d="M-1.0 37.6 L0.6 37.4 L3.7 35.8 L4.7 36.4 L4.7 43.0"/></g><rect x="0" y="0" width="41.7" height="41.8" fill="none" stroke="#5a5a5a" stroke-width="1.1"/></g><g transform="translate(149.66,162.60)"><rect x="0" y="0" width="41.7" height="41.8" fill="#fff"/><g clip-path="url(#pc0)" filter="url(#bl)"><path d="M-2.0 13.3 L3.8 12.2 L9.5 10.8 L15.2 10.7 L21.0 13.4 L26.8 12.8 L32.5 12.6 L38.2 9.8 L44.0 12.1 L44 44 L-2 44 Z" fill="#fee8d2" fill-opacity="0.8"/><ellipse cx="10.0" cy="46.0" rx="30.00" ry="17.00" fill="#fee8d2"/><ellipse cx="13.0" cy="17.0" rx="5.00" ry="4.50" fill="#fee8d2"/><ellipse cx="9.0" cy="9.0" rx="11.00" ry="6.00" fill="#fee8d2"/><path d="M-2.0 26.3 L3.8 25.9 L9.5 23.9 L15.2 26.6 L21.0 27.0 L26.8 27.1 L32.5 24.8 L38.2 24.7 L44.0 26.6 L44 44 L-2 44 Z" fill="#fdd5ad"/><ellipse cx="10.0" cy="46.0" rx="27.00" ry="15.30" fill="#fdd5ad"/><ellipse cx="10.0" cy="46.0" rx="24.00" ry="13.60" fill="#fdb97d"/><ellipse cx="10.0" cy="46.0" rx="21.00" ry="11.90" fill="#fd9c51"/></g><line x1="21.1" y1="0" x2="21.1" y2="41.8" stroke="#9e9e9e" stroke-width="1.0"/><line x1="0" y1="20.7" x2="41.7" y2="20.7" stroke="#9e9e9e" stroke-width="1.0"/><g clip-path="url(#pc0)" fill="none" stroke="#2a2a2a" stroke-width="1.05" stroke-linejoin="round"><path d="M13.2 15.5 L14.6 14.5 L16.3 15.8 L17.3 18.2 L20.0 19.6 L22.1 20.9 L25.5 21.3 L27.2 23.3 L26.8 25.3 L25.1 26.7 L23.1 25.0 L21.0 24.3 L18.3 23.6 L15.6 22.6 L13.6 21.3 L12.9 18.9 L12.9 16.5 Z"/><path d="M29.9 28.7 L32.6 26.7 L35.7 25.3 L37.4 27.0 L37.0 29.4 L34.7 30.8 L30.9 30.4 Z"/><path d="M-1.0 28.0 L0.6 28.0 L3.2 29.1 L6.3 30.6 L8.9 31.6 L15.6 31.5 L16.6 30.1 L14.9 28.8 L16.6 27.4 L20.4 31.1 L27.2 31.5 L29.9 34.2 L31.2 36.9 L32.9 40.0 L33.3 43.0"/><path d="M-1.0 37.6 L0.6 37.4 L3.7 35.8 L4.7 36.4 L4.7 43.0"/></g><rect x="0" y="0" width="41.7" height="41.8" fill="none" stroke="#5a5a5a" stroke-width="1.1"/></g><g transform="translate(193.36,162.60)"><rect x="0" y="0" width="41.7" height="41.8" fill="#fff"/><g clip-path="url(#pc0)" filter="url(#bl)"><path d="M-2.0 12.8 L3.8 12.2 L9.5 10.2 L15.2 11.5 L21.0 13.3 L26.8 12.9 L32.5 11.9 L38.2 10.0 L44.0 12.4 L44 44 L-2 44 Z" fill="#fee8d2" fill-opacity="0.8"/><ellipse cx="10.0" cy="46.0" rx="30.00" ry="17.00" fill="#fee8d2"/><ellipse cx="13.0" cy="17.0" rx="5.00" ry="4.50" fill="#fee8d2"/><ellipse cx="9.0" cy="9.0" rx="11.00" ry="6.00" fill="#fee8d2"/><path d="M-2.0 26.1 L3.8 25.5 L9.5 24.0 L15.2 27.2 L21.0 26.8 L26.8 27.0 L32.5 24.1 L38.2 25.4 L44.0 26.5 L44 44 L-2 44 Z" fill="#fdd5ad"/><ellipse cx="10.0" cy="46.0" rx="27.75" ry="15.73" fill="#fdd5ad"/><ellipse cx="13.0" cy="17.0" rx="2.50" ry="2.25" fill="#fdd5ad"/><ellipse cx="10.0" cy="46.0" rx="25.50" ry="14.45" fill="#fdb97d"/><ellipse cx="10.0" cy="46.0" rx="23.25" ry="13.18" fill="#fd9c51"/><ellipse cx="10.0" cy="46.0" rx="21.00" ry="11.90" fill="#f87d29"/></g><line x1="21.1" y1="0" x2="21.1" y2="41.8" stroke="#9e9e9e" stroke-width="1.0"/><line x1="0" y1="20.7" x2="41.7" y2="20.7" stroke="#9e9e9e" stroke-width="1.0"/><g clip-path="url(#pc0)" fill="none" stroke="#2a2a2a" stroke-width="1.05" stroke-linejoin="round"><path d="M13.2 15.5 L14.6 14.5 L16.3 15.8 L17.3 18.2 L20.0 19.6 L22.1 20.9 L25.5 21.3 L27.2 23.3 L26.8 25.3 L25.1 26.7 L23.1 25.0 L21.0 24.3 L18.3 23.6 L15.6 22.6 L13.6 21.3 L12.9 18.9 L12.9 16.5 Z"/><path d="M29.9 28.7 L32.6 26.7 L35.7 25.3 L37.4 27.0 L37.0 29.4 L34.7 30.8 L30.9 30.4 Z"/><path d="M-1.0 28.0 L0.6 28.0 L3.2 29.1 L6.3 30.6 L8.9 31.6 L15.6 31.5 L16.6 30.1 L14.9 28.8 L16.6 27.4 L20.4 31.1 L27.2 31.5 L29.9 34.2 L31.2 36.9 L32.9 40.0 L33.3 43.0"/><path d="M-1.0 37.6 L0.6 37.4 L3.7 35.8 L4.7 36.4 L4.7 43.0"/></g><rect x="0" y="0" width="41.7" height="41.8" fill="none" stroke="#5a5a5a" stroke-width="1.1"/></g><g transform="translate(237.06,162.60)"><rect x="0" y="0" width="41.7" height="41.8" fill="#fff"/><g clip-path="url(#pc0)" filter="url(#bl)"><path d="M-2.0 12.4 L3.8 12.0 L9.5 9.9 L15.2 12.4 L21.0 13.1 L26.8 13.1 L32.5 11.1 L38.2 10.4 L44.0 12.5 L44 44 L-2 44 Z" fill="#fee8d2" fill-opacity="0.8"/><ellipse cx="10.0" cy="46.0" rx="30.00" ry="17.00" fill="#fee8d2"/><ellipse cx="13.0" cy="17.0" rx="5.00" ry="4.50" fill="#fee8d2"/><ellipse cx="9.0" cy="9.0" rx="11.00" ry="6.00" fill="#fee8d2"/><ellipse cx="27.0" cy="40.0" rx="9.00" ry="6.00" fill="#fee8d2"/><path d="M-2.0 26.0 L3.8 25.0 L9.5 24.5 L15.2 27.5 L21.0 26.7 L26.8 26.6 L32.5 23.8 L38.2 26.0 L44.0 26.5 L44 44 L-2 44 Z" fill="#fdd5ad"/><ellipse cx="10.0" cy="46.0" rx="28.20" ry="15.98" fill="#fdd5ad"/><ellipse cx="13.0" cy="17.0" rx="3.75" ry="3.38" fill="#fdd5ad"/><ellipse cx="27.0" cy="40.0" rx="7.50" ry="5.00" fill="#fdd5ad"/><ellipse cx="10.0" cy="46.0" rx="26.40" ry="14.96" fill="#fdb97d"/><ellipse cx="13.0" cy="17.0" rx="2.50" ry="2.25" fill="#fdb97d"/><ellipse cx="27.0" cy="40.0" rx="6.00" ry="4.00" fill="#fdb97d"/><ellipse cx="10.0" cy="46.0" rx="24.60" ry="13.94" fill="#fd9c51"/><ellipse cx="27.0" cy="40.0" rx="4.50" ry="3.00" fill="#fd9c51"/><ellipse cx="10.0" cy="46.0" rx="22.80" ry="12.92" fill="#f87d29"/><ellipse cx="10.0" cy="46.0" rx="21.00" ry="11.90" fill="#e95e0d"/></g><line x1="21.1" y1="0" x2="21.1" y2="41.8" stroke="#9e9e9e" stroke-width="1.0"/><line x1="0" y1="20.7" x2="41.7" y2="20.7" stroke="#9e9e9e" stroke-width="1.0"/><g clip-path="url(#pc0)" fill="none" stroke="#2a2a2a" stroke-width="1.05" stroke-linejoin="round"><path d="M13.2 15.5 L14.6 14.5 L16.3 15.8 L17.3 18.2 L20.0 19.6 L22.1 20.9 L25.5 21.3 L27.2 23.3 L26.8 25.3 L25.1 26.7 L23.1 25.0 L21.0 24.3 L18.3 23.6 L15.6 22.6 L13.6 21.3 L12.9 18.9 L12.9 16.5 Z"/><path d="M29.9 28.7 L32.6 26.7 L35.7 25.3 L37.4 27.0 L37.0 29.4 L34.7 30.8 L30.9 30.4 Z"/><path d="M-1.0 28.0 L0.6 28.0 L3.2 29.1 L6.3 30.6 L8.9 31.6 L15.6 31.5 L16.6 30.1 L14.9 28.8 L16.6 27.4 L20.4 31.1 L27.2 31.5 L29.9 34.2 L31.2 36.9 L32.9 40.0 L33.3 43.0"/><path d="M-1.0 37.6 L0.6 37.4 L3.7 35.8 L4.7 36.4 L4.7 43.0"/></g><rect x="0" y="0" width="41.7" height="41.8" fill="none" stroke="#5a5a5a" stroke-width="1.1"/></g><g transform="translate(280.76,162.60)"><rect x="0" y="0" width="41.7" height="41.8" fill="#fff"/><g clip-path="url(#pc0)" filter="url(#bl)"><path d="M-2.0 12.1 L3.8 11.7 L9.5 9.9 L15.2 13.1 L21.0 12.8 L26.8 13.0 L32.5 10.3 L38.2 11.1 L44.0 12.5 L44 44 L-2 44 Z" fill="#fee8d2" fill-opacity="0.8"/><ellipse cx="10.0" cy="46.0" rx="30.00" ry="17.00" fill="#fee8d2"/><ellipse cx="13.0" cy="17.0" rx="5.00" ry="4.50" fill="#fee8d2"/><ellipse cx="9.0" cy="9.0" rx="11.00" ry="6.00" fill="#fee8d2"/><ellipse cx="27.0" cy="40.0" rx="9.00" ry="6.00" fill="#fee8d2"/><path d="M-2.0 26.0 L3.8 24.5 L9.5 25.3 L15.2 27.5 L21.0 26.7 L26.8 26.0 L32.5 23.8 L38.2 26.5 L44.0 26.6 L44 44 L-2 44 Z" fill="#fdd5ad"/><ellipse cx="10.0" cy="46.0" rx="28.50" ry="16.15" fill="#fdd5ad"/><ellipse cx="13.0" cy="17.0" rx="4.38" ry="3.94" fill="#fdd5ad"/><ellipse cx="27.0" cy="40.0" rx="7.88" ry="5.25" fill="#fdd5ad"/><ellipse cx="10.0" cy="46.0" rx="27.00" ry="15.30" fill="#fdb97d"/><ellipse cx="13.0" cy="17.0" rx="3.75" ry="3.38" fill="#fdb97d"/><ellipse cx="27.0" cy="40.0" rx="6.75" ry="4.50" fill="#fdb97d"/><ellipse cx="10.0" cy="46.0" rx="25.50" ry="14.45" fill="#fd9c51"/><ellipse cx="13.0" cy="17.0" rx="3.12" ry="2.81" fill="#fd9c51"/><ellipse cx="27.0" cy="40.0" rx="5.62" ry="3.75" fill="#fd9c51"/><ellipse cx="10.0" cy="46.0" rx="24.00" ry="13.60" fill="#f87d29"/><ellipse cx="13.0" cy="17.0" rx="2.50" ry="2.25" fill="#f87d29"/><ellipse cx="27.0" cy="40.0" rx="4.50" ry="3.00" fill="#f87d29"/><ellipse cx="10.0" cy="46.0" rx="22.50" ry="12.75" fill="#e95e0d"/><ellipse cx="10.0" cy="46.0" rx="21.00" ry="11.90" fill="#cd4401"/></g><line x1="21.1" y1="0" x2="21.1" y2="41.8" stroke="#9e9e9e" stroke-width="1.0"/><line x1="0" y1="20.7" x2="41.7" y2="20.7" stroke="#9e9e9e" stroke-width="1.0"/><g clip-path="url(#pc0)" fill="none" stroke="#2a2a2a" stroke-width="1.05" stroke-linejoin="round"><path d="M13.2 15.5 L14.6 14.5 L16.3 15.8 L17.3 18.2 L20.0 19.6 L22.1 20.9 L25.5 21.3 L27.2 23.3 L26.8 25.3 L25.1 26.7 L23.1 25.0 L21.0 24.3 L18.3 23.6 L15.6 22.6 L13.6 21.3 L12.9 18.9 L12.9 16.5 Z"/><path d="M29.9 28.7 L32.6 26.7 L35.7 25.3 L37.4 27.0 L37.0 29.4 L34.7 30.8 L30.9 30.4 Z"/><path d="M-1.0 28.0 L0.6 28.0 L3.2 29.1 L6.3 30.6 L8.9 31.6 L15.6 31.5 L16.6 30.1 L14.9 28.8 L16.6 27.4 L20.4 31.1 L27.2 31.5 L29.9 34.2 L31.2 36.9 L32.9 40.0 L33.3 43.0"/><path d="M-1.0 37.6 L0.6 37.4 L3.7 35.8 L4.7 36.4 L4.7 43.0"/></g><rect x="0" y="0" width="41.7" height="41.8" fill="none" stroke="#5a5a5a" stroke-width="1.1"/></g><g transform="translate(324.46,162.60)"><rect x="0" y="0" width="41.7" height="41.8" fill="#fff"/><g clip-path="url(#pc0)" filter="url(#bl)"><path d="M-2.0 12.0 L3.8 11.2 L9.5 10.3 L15.2 13.4 L21.0 12.7 L26.8 12.8 L32.5 9.9 L38.2 11.8 L44.0 12.5 L44 44 L-2 44 Z" fill="#fee8d2" fill-opacity="0.8"/><ellipse cx="10.0" cy="46.0" rx="30.00" ry="17.00" fill="#fee8d2"/><ellipse cx="13.0" cy="17.0" rx="5.00" ry="4.50" fill="#fee8d2"/><ellipse cx="9.0" cy="9.0" rx="11.00" ry="6.00" fill="#fee8d2"/><ellipse cx="27.0" cy="40.0" rx="9.00" ry="6.00" fill="#fee8d2"/><path d="M-2.0 25.9 L3.8 24.1 L9.5 26.2 L15.2 27.3 L21.0 26.8 L26.8 25.3 L32.5 24.2 L38.2 26.7 L44.0 26.8 L44 44 L-2 44 Z" fill="#fdd5ad"/><ellipse cx="10.0" cy="46.0" rx="28.71" ry="16.27" fill="#fdd5ad"/><ellipse cx="13.0" cy="17.0" rx="4.50" ry="4.05" fill="#fdd5ad"/><ellipse cx="27.0" cy="40.0" rx="8.10" ry="5.40" fill="#fdd5ad"/><ellipse cx="10.0" cy="46.0" rx="27.43" ry="15.54" fill="#fdb97d"/><ellipse cx="13.0" cy="17.0" rx="4.00" ry="3.60" fill="#fdb97d"/><ellipse cx="27.0" cy="40.0" rx="7.20" ry="4.80" fill="#fdb97d"/><ellipse cx="10.0" cy="46.0" rx="26.14" ry="14.81" fill="#fd9c51"/><ellipse cx="13.0" cy="17.0" rx="3.50" ry="3.15" fill="#fd9c51"/><ellipse cx="27.0" cy="40.0" rx="6.30" ry="4.20" fill="#fd9c51"/><ellipse cx="10.0" cy="46.0" rx="24.86" ry="14.09" fill="#f87d29"/><ellipse cx="13.0" cy="17.0" rx="3.00" ry="2.70" fill="#f87d29"/><ellipse cx="27.0" cy="40.0" rx="5.40" ry="3.60" fill="#f87d29"/><ellipse cx="10.0" cy="46.0" rx="23.57" ry="13.36" fill="#e95e0d"/><ellipse cx="13.0" cy="17.0" rx="2.50" ry="2.25" fill="#e95e0d"/><ellipse cx="27.0" cy="40.0" rx="4.50" ry="3.00" fill="#e95e0d"/><ellipse cx="10.0" cy="46.0" rx="22.29" ry="12.63" fill="#cd4401"/><ellipse cx="10.0" cy="46.0" rx="21.00" ry="11.90" fill="#a13403"/></g><line x1="21.1" y1="0" x2="21.1" y2="41.8" stroke="#9e9e9e" stroke-width="1.0"/><line x1="0" y1="20.7" x2="41.7" y2="20.7" stroke="#9e9e9e" stroke-width="1.0"/><g clip-path="url(#pc0)" fill="none" stroke="#2a2a2a" stroke-width="1.05" stroke-linejoin="round"><path d="M13.2 15.5 L14.6 14.5 L16.3 15.8 L17.3 18.2 L20.0 19.6 L22.1 20.9 L25.5 21.3 L27.2 23.3 L26.8 25.3 L25.1 26.7 L23.1 25.0 L21.0 24.3 L18.3 23.6 L15.6 22.6 L13.6 21.3 L12.9 18.9 L12.9 16.5 Z"/><path d="M29.9 28.7 L32.6 26.7 L35.7 25.3 L37.4 27.0 L37.0 29.4 L34.7 30.8 L30.9 30.4 Z"/><path d="M-1.0 28.0 L0.6 28.0 L3.2 29.1 L6.3 30.6 L8.9 31.6 L15.6 31.5 L16.6 30.1 L14.9 28.8 L16.6 27.4 L20.4 31.1 L27.2 31.5 L29.9 34.2 L31.2 36.9 L32.9 40.0 L33.3 43.0"/><path d="M-1.0 37.6 L0.6 37.4 L3.7 35.8 L4.7 36.4 L4.7 43.0"/></g><rect x="0" y="0" width="41.7" height="41.8" fill="none" stroke="#5a5a5a" stroke-width="1.1"/></g><g transform="translate(368.16,162.60)"><rect x="0" y="0" width="41.7" height="41.8" fill="#fff"/><g clip-path="url(#pc0)" filter="url(#bl)"><path d="M-2.0 12.0 L3.8 10.6 L9.5 11.0 L15.2 13.5 L21.0 12.7 L26.8 12.3 L32.5 9.8 L38.2 12.4 L44.0 12.6 L44 44 L-2 44 Z" fill="#fee8d2" fill-opacity="0.8"/><ellipse cx="10.0" cy="46.0" rx="30.00" ry="17.00" fill="#fee8d2"/><ellipse cx="13.0" cy="17.0" rx="5.00" ry="4.50" fill="#fee8d2"/><ellipse cx="9.0" cy="9.0" rx="11.00" ry="6.00" fill="#fee8d2"/><ellipse cx="27.0" cy="40.0" rx="9.00" ry="6.00" fill="#fee8d2"/><path d="M-2.0 25.7 L3.8 24.0 L9.5 27.0 L15.2 27.0 L21.0 26.9 L26.8 24.5 L32.5 24.9 L38.2 26.8 L44.0 27.2 L44 44 L-2 44 Z" fill="#fdd5ad"/><ellipse cx="10.0" cy="46.0" rx="28.88" ry="16.36" fill="#fdd5ad"/><ellipse cx="13.0" cy="17.0" rx="4.50" ry="4.05" fill="#fdd5ad"/><ellipse cx="27.0" cy="40.0" rx="8.25" ry="5.50" fill="#fdd5ad"/><ellipse cx="10.0" cy="46.0" rx="27.75" ry="15.73" fill="#fdb97d"/><ellipse cx="13.0" cy="17.0" rx="4.00" ry="3.60" fill="#fdb97d"/><ellipse cx="27.0" cy="40.0" rx="7.50" ry="5.00" fill="#fdb97d"/><ellipse cx="10.0" cy="46.0" rx="26.62" ry="15.09" fill="#fd9c51"/><ellipse cx="13.0" cy="17.0" rx="3.50" ry="3.15" fill="#fd9c51"/><ellipse cx="27.0" cy="40.0" rx="6.75" ry="4.50" fill="#fd9c51"/><ellipse cx="10.0" cy="46.0" rx="25.50" ry="14.45" fill="#f87d29"/><ellipse cx="13.0" cy="17.0" rx="3.00" ry="2.70" fill="#f87d29"/><ellipse cx="27.0" cy="40.0" rx="6.00" ry="4.00" fill="#f87d29"/><ellipse cx="10.0" cy="46.0" rx="24.38" ry="13.81" fill="#e95e0d"/><ellipse cx="13.0" cy="17.0" rx="2.50" ry="2.25" fill="#e95e0d"/><ellipse cx="27.0" cy="40.0" rx="5.25" ry="3.50" fill="#e95e0d"/><ellipse cx="10.0" cy="46.0" rx="23.25" ry="13.18" fill="#cd4401"/><ellipse cx="27.0" cy="40.0" rx="4.50" ry="3.00" fill="#cd4401"/><ellipse cx="10.0" cy="46.0" rx="22.12" ry="12.54" fill="#a13403"/><ellipse cx="10.0" cy="46.0" rx="21.00" ry="11.90" fill="#7f2704"/></g><line x1="21.1" y1="0" x2="21.1" y2="41.8" stroke="#9e9e9e" stroke-width="1.0"/><line x1="0" y1="20.7" x2="41.7" y2="20.7" stroke="#9e9e9e" stroke-width="1.0"/><g clip-path="url(#pc0)" fill="none" stroke="#2a2a2a" stroke-width="1.05" stroke-linejoin="round"><path d="M13.2 15.5 L14.6 14.5 L16.3 15.8 L17.3 18.2 L20.0 19.6 L22.1 20.9 L25.5 21.3 L27.2 23.3 L26.8 25.3 L25.1 26.7 L23.1 25.0 L21.0 24.3 L18.3 23.6 L15.6 22.6 L13.6 21.3 L12.9 18.9 L12.9 16.5 Z"/><path d="M29.9 28.7 L32.6 26.7 L35.7 25.3 L37.4 27.0 L37.0 29.4 L34.7 30.8 L30.9 30.4 Z"/><path d="M-1.0 28.0 L0.6 28.0 L3.2 29.1 L6.3 30.6 L8.9 31.6 L15.6 31.5 L16.6 30.1 L14.9 28.8 L16.6 27.4 L20.4 31.1 L27.2 31.5 L29.9 34.2 L31.2 36.9 L32.9 40.0 L33.3 43.0"/><path d="M-1.0 37.6 L0.6 37.4 L3.7 35.8 L4.7 36.4 L4.7 43.0"/></g><rect x="0" y="0" width="41.7" height="41.8" fill="none" stroke="#5a5a5a" stroke-width="1.1"/></g><g transform="translate(411.86,162.60)"><rect x="0" y="0" width="41.7" height="41.8" fill="#fff"/><g clip-path="url(#pc0)" filter="url(#bl)"><path d="M-2.0 12.0 L3.8 10.2 L9.5 11.9 L15.2 13.4 L21.0 12.8 L26.8 11.5 L32.5 10.1 L38.2 12.7 L44.0 12.8 L44 44 L-2 44 Z" fill="#fee8d2" fill-opacity="0.8"/><ellipse cx="10.0" cy="46.0" rx="30.00" ry="17.00" fill="#fee8d2"/><ellipse cx="13.0" cy="17.0" rx="5.00" ry="4.50" fill="#fee8d2"/><ellipse cx="9.0" cy="9.0" rx="11.00" ry="6.00" fill="#fee8d2"/><ellipse cx="27.0" cy="40.0" rx="9.00" ry="6.00" fill="#fee8d2"/><path d="M-2.0 25.3 L3.8 24.2 L9.5 27.5 L15.2 26.7 L21.0 26.7 L26.8 24.0 L32.5 25.7 L38.2 26.7 L44.0 27.5 L44 44 L-2 44 Z" fill="#fdd5ad"/><ellipse cx="10.0" cy="46.0" rx="28.50" ry="16.15" fill="#fdd5ad"/><ellipse cx="13.0" cy="17.0" rx="4.17" ry="3.75" fill="#fdd5ad"/><ellipse cx="27.0" cy="40.0" rx="7.88" ry="5.25" fill="#fdd5ad"/><ellipse cx="10.0" cy="46.0" rx="27.00" ry="15.30" fill="#fdb97d"/><ellipse cx="13.0" cy="17.0" rx="3.33" ry="3.00" fill="#fdb97d"/><ellipse cx="27.0" cy="40.0" rx="6.75" ry="4.50" fill="#fdb97d"/><ellipse cx="10.0" cy="46.0" rx="25.50" ry="14.45" fill="#fd9c51"/><ellipse cx="13.0" cy="17.0" rx="2.50" ry="2.25" fill="#fd9c51"/><ellipse cx="27.0" cy="40.0" rx="5.62" ry="3.75" fill="#fd9c51"/><ellipse cx="10.0" cy="46.0" rx="24.00" ry="13.60" fill="#f87d29"/><ellipse cx="27.0" cy="40.0" rx="4.50" ry="3.00" fill="#f87d29"/><ellipse cx="10.0" cy="46.0" rx="22.50" ry="12.75" fill="#e95e0d"/><ellipse cx="10.0" cy="46.0" rx="21.00" ry="11.90" fill="#cd4401"/></g><line x1="21.1" y1="0" x2="21.1" y2="41.8" stroke="#9e9e9e" stroke-width="1.0"/><line x1="0" y1="20.7" x2="41.7" y2="20.7" stroke="#9e9e9e" stroke-width="1.0"/><g clip-path="url(#pc0)" fill="none" stroke="#2a2a2a" stroke-width="1.05" stroke-linejoin="round"><path d="M13.2 15.5 L14.6 14.5 L16.3 15.8 L17.3 18.2 L20.0 19.6 L22.1 20.9 L25.5 21.3 L27.2 23.3 L26.8 25.3 L25.1 26.7 L23.1 25.0 L21.0 24.3 L18.3 23.6 L15.6 22.6 L13.6 21.3 L12.9 18.9 L12.9 16.5 Z"/><path d="M29.9 28.7 L32.6 26.7 L35.7 25.3 L37.4 27.0 L37.0 29.4 L34.7 30.8 L30.9 30.4 Z"/><path d="M-1.0 28.0 L0.6 28.0 L3.2 29.1 L6.3 30.6 L8.9 31.6 L15.6 31.5 L16.6 30.1 L14.9 28.8 L16.6 27.4 L20.4 31.1 L27.2 31.5 L29.9 34.2 L31.2 36.9 L32.9 40.0 L33.3 43.0"/><path d="M-1.0 37.6 L0.6 37.4 L3.7 35.8 L4.7 36.4 L4.7 43.0"/></g><rect x="0" y="0" width="41.7" height="41.8" fill="none" stroke="#5a5a5a" stroke-width="1.1"/></g><g transform="translate(18.56,207.27)"><rect x="0" y="0" width="41.7" height="42.9" fill="#fff"/><g clip-path="url(#pc1)" filter="url(#bl)"><path d="M-2.0 11.9 L3.8 10.4 L9.5 10.1 L15.2 7.8 L21.0 10.5 L26.8 10.9 L32.5 11.3 L38.2 8.8 L44.0 8.7 L44 44 L-2 44 Z" fill="#fee8d2" fill-opacity="0.75"/><ellipse cx="18.0" cy="52.0" rx="48.00" ry="26.00" fill="#fee8d2"/><ellipse cx="30.0" cy="25.0" rx="13.00" ry="7.00" fill="#fee8d2" transform="rotate(-15 30 25)"/><path d="M-2.0 20.3 L3.8 19.2 L9.5 17.8 L15.2 17.7 L21.0 20.4 L26.8 19.8 L32.5 19.6 L38.2 16.8 L44.0 19.1 L44 44 L-2 44 Z" fill="#fdd5ad"/><ellipse cx="18.0" cy="52.0" rx="44.80" ry="24.27" fill="#fdd5ad"/><path d="M-2.0 24.3 L3.8 23.9 L9.5 21.9 L15.2 24.6 L21.0 25.0 L26.8 25.1 L32.5 22.8 L38.2 22.7 L44.0 24.6 L44 44 L-2 44 Z" fill="#fdb97d"/><ellipse cx="18.0" cy="52.0" rx="41.60" ry="22.53" fill="#fdb97d"/><ellipse cx="18.0" cy="52.0" rx="38.40" ry="20.80" fill="#fd9c51"/></g><line x1="21.1" y1="0" x2="21.1" y2="42.9" stroke="#9e9e9e" stroke-width="1.0"/><line x1="0" y1="20.9" x2="41.7" y2="20.9" stroke="#9e9e9e" stroke-width="1.0"/><g clip-path="url(#pc1)" fill="none" stroke="#2a2a2a" stroke-width="1.05" stroke-linejoin="round"><path d="M14.9 16.6 L17.1 15.3 L27.0 15.3 L28.7 17.0 L29.2 18.7 L36.5 19.2 L39.1 20.9 L40.4 23.5 L40.9 26.1 L42.5 28.5"/><path d="M14.9 16.6 L16.2 18.7 L20.1 19.6 L20.6 21.5 L21.4 23.9 L23.6 24.8 L25.3 27.0 L27.0 29.5 L25.7 30.4 L23.6 28.2 L21.8 26.9 L20.1 27.8 L21.8 32.1 L22.7 33.9"/><path d="M42.5 31.5 L39.1 33.9 L36.5 33.4 L33.1 32.1 L30.5 32.2"/><path d="M31.3 32.6 L35.7 36.5 L40.0 40.8 L41.5 43.0"/><path d="M-1.0 26.4 L0.6 26.4 L3.6 29.4 L6.6 29.4 L7.2 28.2 L3.0 23.1 L5.4 19.8 L6.9 19.8 L8.4 23.7 L10.5 25.5 L12.3 25.8 L14.9 27.8 L17.9 30.4 L20.1 30.8 L22.2 32.7 L22.7 33.9"/><path d="M8.0 32.2 L10.9 32.2 M16.6 34.0 L17.2 34.0 M29.0 32.1 L31.0 32.1" stroke-width="1.5"/></g><rect x="0" y="0" width="41.7" height="42.9" fill="none" stroke="#5a5a5a" stroke-width="1.1"/></g><g transform="translate(62.26,207.27)"><rect x="0" y="0" width="41.7" height="42.9" fill="#fff"/><g clip-path="url(#pc1)" filter="url(#bl)"><path d="M-2.0 11.8 L3.8 10.2 L9.5 9.6 L15.2 8.0 L21.0 11.1 L26.8 10.8 L32.5 11.2 L38.2 8.2 L44.0 9.3 L44 44 L-2 44 Z" fill="#fee8d2" fill-opacity="0.75"/><ellipse cx="18.0" cy="52.0" rx="48.00" ry="26.00" fill="#fee8d2"/><ellipse cx="30.0" cy="25.0" rx="13.00" ry="7.00" fill="#fee8d2" transform="rotate(-15 30 25)"/><path d="M-2.0 19.8 L3.8 19.2 L9.5 17.2 L15.2 18.5 L21.0 20.3 L26.8 19.9 L32.5 18.9 L38.2 17.0 L44.0 19.4 L44 44 L-2 44 Z" fill="#fdd5ad"/><ellipse cx="18.0" cy="52.0" rx="44.80" ry="24.27" fill="#fdd5ad"/><path d="M-2.0 24.1 L3.8 23.5 L9.5 22.0 L15.2 25.2 L21.0 24.8 L26.8 25.0 L32.5 22.1 L38.2 23.4 L44.0 24.5 L44 44 L-2 44 Z" fill="#fdb97d"/><ellipse cx="18.0" cy="52.0" rx="41.60" ry="22.53" fill="#fdb97d"/><ellipse cx="18.0" cy="52.0" rx="38.40" ry="20.80" fill="#fd9c51"/></g><line x1="21.1" y1="0" x2="21.1" y2="42.9" stroke="#9e9e9e" stroke-width="1.0"/><line x1="0" y1="20.9" x2="41.7" y2="20.9" stroke="#9e9e9e" stroke-width="1.0"/><g clip-path="url(#pc1)" fill="none" stroke="#2a2a2a" stroke-width="1.05" stroke-linejoin="round"><path d="M14.9 16.6 L17.1 15.3 L27.0 15.3 L28.7 17.0 L29.2 18.7 L36.5 19.2 L39.1 20.9 L40.4 23.5 L40.9 26.1 L42.5 28.5"/><path d="M14.9 16.6 L16.2 18.7 L20.1 19.6 L20.6 21.5 L21.4 23.9 L23.6 24.8 L25.3 27.0 L27.0 29.5 L25.7 30.4 L23.6 28.2 L21.8 26.9 L20.1 27.8 L21.8 32.1 L22.7 33.9"/><path d="M42.5 31.5 L39.1 33.9 L36.5 33.4 L33.1 32.1 L30.5 32.2"/><path d="M31.3 32.6 L35.7 36.5 L40.0 40.8 L41.5 43.0"/><path d="M-1.0 26.4 L0.6 26.4 L3.6 29.4 L6.6 29.4 L7.2 28.2 L3.0 23.1 L5.4 19.8 L6.9 19.8 L8.4 23.7 L10.5 25.5 L12.3 25.8 L14.9 27.8 L17.9 30.4 L20.1 30.8 L22.2 32.7 L22.7 33.9"/><path d="M8.0 32.2 L10.9 32.2 M16.6 34.0 L17.2 34.0 M29.0 32.1 L31.0 32.1" stroke-width="1.5"/></g><rect x="0" y="0" width="41.7" height="42.9" fill="none" stroke="#5a5a5a" stroke-width="1.1"/></g><g transform="translate(105.96,207.27)"><rect x="0" y="0" width="41.7" height="42.9" fill="#fff"/><g clip-path="url(#pc1)" filter="url(#bl)"><path d="M-2.0 11.5 L3.8 10.2 L9.5 9.0 L15.2 8.5 L21.0 11.3 L26.8 10.8 L32.5 10.8 L38.2 7.8 L44.0 9.9 L44 44 L-2 44 Z" fill="#fee8d2" fill-opacity="0.75"/><ellipse cx="18.0" cy="52.0" rx="48.00" ry="26.00" fill="#fee8d2"/><ellipse cx="30.0" cy="25.0" rx="13.00" ry="7.00" fill="#fee8d2" transform="rotate(-15 30 25)"/><path d="M-2.0 19.4 L3.8 19.0 L9.5 16.9 L15.2 19.4 L21.0 20.1 L26.8 20.1 L32.5 18.1 L38.2 17.4 L44.0 19.5 L44 44 L-2 44 Z" fill="#fdd5ad"/><ellipse cx="18.0" cy="52.0" rx="45.60" ry="24.70" fill="#fdd5ad"/><ellipse cx="30.0" cy="25.0" rx="7.15" ry="3.85" fill="#fdd5ad" transform="rotate(-15 30 25)"/><path d="M-2.0 24.0 L3.8 23.0 L9.5 22.5 L15.2 25.5 L21.0 24.7 L26.8 24.6 L32.5 21.8 L38.2 24.0 L44.0 24.5 L44 44 L-2 44 Z" fill="#fdb97d"/><ellipse cx="18.0" cy="52.0" rx="43.20" ry="23.40" fill="#fdb97d"/><ellipse cx="18.0" cy="52.0" rx="40.80" ry="22.10" fill="#fd9c51"/><ellipse cx="18.0" cy="52.0" rx="38.40" ry="20.80" fill="#f87d29"/></g><line x1="21.1" y1="0" x2="21.1" y2="42.9" stroke="#9e9e9e" stroke-width="1.0"/><line x1="0" y1="20.9" x2="41.7" y2="20.9" stroke="#9e9e9e" stroke-width="1.0"/><g clip-path="url(#pc1)" fill="none" stroke="#2a2a2a" stroke-width="1.05" stroke-linejoin="round"><path d="M14.9 16.6 L17.1 15.3 L27.0 15.3 L28.7 17.0 L29.2 18.7 L36.5 19.2 L39.1 20.9 L40.4 23.5 L40.9 26.1 L42.5 28.5"/><path d="M14.9 16.6 L16.2 18.7 L20.1 19.6 L20.6 21.5 L21.4 23.9 L23.6 24.8 L25.3 27.0 L27.0 29.5 L25.7 30.4 L23.6 28.2 L21.8 26.9 L20.1 27.8 L21.8 32.1 L22.7 33.9"/><path d="M42.5 31.5 L39.1 33.9 L36.5 33.4 L33.1 32.1 L30.5 32.2"/><path d="M31.3 32.6 L35.7 36.5 L40.0 40.8 L41.5 43.0"/><path d="M-1.0 26.4 L0.6 26.4 L3.6 29.4 L6.6 29.4 L7.2 28.2 L3.0 23.1 L5.4 19.8 L6.9 19.8 L8.4 23.7 L10.5 25.5 L12.3 25.8 L14.9 27.8 L17.9 30.4 L20.1 30.8 L22.2 32.7 L22.7 33.9"/><path d="M8.0 32.2 L10.9 32.2 M16.6 34.0 L17.2 34.0 M29.0 32.1 L31.0 32.1" stroke-width="1.5"/></g><rect x="0" y="0" width="41.7" height="42.9" fill="none" stroke="#5a5a5a" stroke-width="1.1"/></g><g transform="translate(149.66,207.27)"><rect x="0" y="0" width="41.7" height="42.9" fill="#fff"/><g clip-path="url(#pc1)" filter="url(#bl)"><path d="M-2.0 11.0 L3.8 10.2 L9.5 8.4 L15.2 9.3 L21.0 11.3 L26.8 10.9 L32.5 10.1 L38.2 7.9 L44.0 10.3 L44 44 L-2 44 Z" fill="#fee8d2" fill-opacity="0.75"/><ellipse cx="18.0" cy="52.0" rx="48.00" ry="26.00" fill="#fee8d2"/><ellipse cx="30.0" cy="25.0" rx="13.00" ry="7.00" fill="#fee8d2" transform="rotate(-15 30 25)"/><path d="M-2.0 19.1 L3.8 18.7 L9.5 16.9 L15.2 20.1 L21.0 19.8 L26.8 20.0 L32.5 17.3 L38.2 18.1 L44.0 19.5 L44 44 L-2 44 Z" fill="#fdd5ad"/><ellipse cx="18.0" cy="52.0" rx="45.60" ry="24.70" fill="#fdd5ad"/><ellipse cx="30.0" cy="25.0" rx="10.08" ry="5.42" fill="#fdd5ad" transform="rotate(-15 30 25)"/><path d="M-2.0 24.0 L3.8 22.5 L9.5 23.3 L15.2 25.5 L21.0 24.7 L26.8 24.0 L32.5 21.8 L38.2 24.5 L44.0 24.6 L44 44 L-2 44 Z" fill="#fdb97d"/><ellipse cx="18.0" cy="52.0" rx="43.20" ry="23.40" fill="#fdb97d"/><ellipse cx="30.0" cy="25.0" rx="7.15" ry="3.85" fill="#fdb97d" transform="rotate(-15 30 25)"/><ellipse cx="18.0" cy="52.0" rx="40.80" ry="22.10" fill="#fd9c51"/><ellipse cx="18.0" cy="52.0" rx="38.40" ry="20.80" fill="#f87d29"/></g><line x1="21.1" y1="0" x2="21.1" y2="42.9" stroke="#9e9e9e" stroke-width="1.0"/><line x1="0" y1="20.9" x2="41.7" y2="20.9" stroke="#9e9e9e" stroke-width="1.0"/><g clip-path="url(#pc1)" fill="none" stroke="#2a2a2a" stroke-width="1.05" stroke-linejoin="round"><path d="M14.9 16.6 L17.1 15.3 L27.0 15.3 L28.7 17.0 L29.2 18.7 L36.5 19.2 L39.1 20.9 L40.4 23.5 L40.9 26.1 L42.5 28.5"/><path d="M14.9 16.6 L16.2 18.7 L20.1 19.6 L20.6 21.5 L21.4 23.9 L23.6 24.8 L25.3 27.0 L27.0 29.5 L25.7 30.4 L23.6 28.2 L21.8 26.9 L20.1 27.8 L21.8 32.1 L22.7 33.9"/><path d="M42.5 31.5 L39.1 33.9 L36.5 33.4 L33.1 32.1 L30.5 32.2"/><path d="M31.3 32.6 L35.7 36.5 L40.0 40.8 L41.5 43.0"/><path d="M-1.0 26.4 L0.6 26.4 L3.6 29.4 L6.6 29.4 L7.2 28.2 L3.0 23.1 L5.4 19.8 L6.9 19.8 L8.4 23.7 L10.5 25.5 L12.3 25.8 L14.9 27.8 L17.9 30.4 L20.1 30.8 L22.2 32.7 L22.7 33.9"/><path d="M8.0 32.2 L10.9 32.2 M16.6 34.0 L17.2 34.0 M29.0 32.1 L31.0 32.1" stroke-width="1.5"/></g><rect x="0" y="0" width="41.7" height="42.9" fill="none" stroke="#5a5a5a" stroke-width="1.1"/></g><g transform="translate(193.36,207.27)"><rect x="0" y="0" width="41.7" height="42.9" fill="#fff"/><g clip-path="url(#pc1)" filter="url(#bl)"><path d="M-2.0 10.5 L3.8 10.1 L9.5 8.0 L15.2 10.1 L21.0 11.1 L26.8 11.0 L32.5 9.3 L38.2 8.3 L44.0 10.5 L44 44 L-2 44 Z" fill="#fee8d2" fill-opacity="0.75"/><ellipse cx="18.0" cy="52.0" rx="48.00" ry="26.00" fill="#fee8d2"/><ellipse cx="30.0" cy="25.0" rx="13.00" ry="7.00" fill="#fee8d2" transform="rotate(-15 30 25)"/><path d="M-2.0 19.0 L3.8 18.2 L9.5 17.3 L15.2 20.4 L21.0 19.7 L26.8 19.8 L32.5 16.9 L38.2 18.8 L44.0 19.5 L44 44 L-2 44 Z" fill="#fdd5ad"/><ellipse cx="18.0" cy="52.0" rx="46.08" ry="24.96" fill="#fdd5ad"/><ellipse cx="30.0" cy="25.0" rx="11.05" ry="5.95" fill="#fdd5ad" transform="rotate(-15 30 25)"/><path d="M-2.0 23.9 L3.8 22.1 L9.5 24.2 L15.2 25.3 L21.0 24.8 L26.8 23.3 L32.5 22.2 L38.2 24.7 L44.0 24.8 L44 44 L-2 44 Z" fill="#fdb97d"/><ellipse cx="18.0" cy="52.0" rx="44.16" ry="23.92" fill="#fdb97d"/><ellipse cx="30.0" cy="25.0" rx="9.10" ry="4.90" fill="#fdb97d" transform="rotate(-15 30 25)"/><ellipse cx="18.0" cy="52.0" rx="42.24" ry="22.88" fill="#fd9c51"/><ellipse cx="30.0" cy="25.0" rx="7.15" ry="3.85" fill="#fd9c51" transform="rotate(-15 30 25)"/><ellipse cx="18.0" cy="52.0" rx="40.32" ry="21.84" fill="#f87d29"/><ellipse cx="18.0" cy="52.0" rx="38.40" ry="20.80" fill="#e95e0d"/></g><line x1="21.1" y1="0" x2="21.1" y2="42.9" stroke="#9e9e9e" stroke-width="1.0"/><line x1="0" y1="20.9" x2="41.7" y2="20.9" stroke="#9e9e9e" stroke-width="1.0"/><g clip-path="url(#pc1)" fill="none" stroke="#2a2a2a" stroke-width="1.05" stroke-linejoin="round"><path d="M14.9 16.6 L17.1 15.3 L27.0 15.3 L28.7 17.0 L29.2 18.7 L36.5 19.2 L39.1 20.9 L40.4 23.5 L40.9 26.1 L42.5 28.5"/><path d="M14.9 16.6 L16.2 18.7 L20.1 19.6 L20.6 21.5 L21.4 23.9 L23.6 24.8 L25.3 27.0 L27.0 29.5 L25.7 30.4 L23.6 28.2 L21.8 26.9 L20.1 27.8 L21.8 32.1 L22.7 33.9"/><path d="M42.5 31.5 L39.1 33.9 L36.5 33.4 L33.1 32.1 L30.5 32.2"/><path d="M31.3 32.6 L35.7 36.5 L40.0 40.8 L41.5 43.0"/><path d="M-1.0 26.4 L0.6 26.4 L3.6 29.4 L6.6 29.4 L7.2 28.2 L3.0 23.1 L5.4 19.8 L6.9 19.8 L8.4 23.7 L10.5 25.5 L12.3 25.8 L14.9 27.8 L17.9 30.4 L20.1 30.8 L22.2 32.7 L22.7 33.9"/><path d="M8.0 32.2 L10.9 32.2 M16.6 34.0 L17.2 34.0 M29.0 32.1 L31.0 32.1" stroke-width="1.5"/></g><rect x="0" y="0" width="41.7" height="42.9" fill="none" stroke="#5a5a5a" stroke-width="1.1"/></g><g transform="translate(237.06,207.27)"><rect x="0" y="0" width="41.7" height="42.9" fill="#fff"/><g clip-path="url(#pc1)" filter="url(#bl)"><path d="M-2.0 10.2 L3.8 9.8 L9.5 7.9 L15.2 10.9 L21.0 10.9 L26.8 11.1 L32.5 8.6 L38.2 8.9 L44.0 10.5 L44 44 L-2 44 Z" fill="#fee8d2" fill-opacity="0.75"/><ellipse cx="18.0" cy="52.0" rx="48.00" ry="26.00" fill="#fee8d2"/><ellipse cx="30.0" cy="25.0" rx="13.00" ry="7.00" fill="#fee8d2" transform="rotate(-15 30 25)"/><path d="M-2.0 19.0 L3.8 17.6 L9.5 18.0 L15.2 20.5 L21.0 19.7 L26.8 19.3 L32.5 16.8 L38.2 19.4 L44.0 19.6 L44 44 L-2 44 Z" fill="#fdd5ad"/><ellipse cx="18.0" cy="52.0" rx="46.08" ry="24.96" fill="#fdd5ad"/><ellipse cx="30.0" cy="25.0" rx="11.54" ry="6.21" fill="#fdd5ad" transform="rotate(-15 30 25)"/><path d="M-2.0 23.7 L3.8 22.0 L9.5 25.0 L15.2 25.0 L21.0 24.9 L26.8 22.5 L32.5 22.9 L38.2 24.8 L44.0 25.2 L44 44 L-2 44 Z" fill="#fdb97d"/><ellipse cx="18.0" cy="52.0" rx="44.16" ry="23.92" fill="#fdb97d"/><ellipse cx="30.0" cy="25.0" rx="10.08" ry="5.42" fill="#fdb97d" transform="rotate(-15 30 25)"/><ellipse cx="18.0" cy="52.0" rx="42.24" ry="22.88" fill="#fd9c51"/><ellipse cx="30.0" cy="25.0" rx="8.61" ry="4.64" fill="#fd9c51" transform="rotate(-15 30 25)"/><ellipse cx="18.0" cy="52.0" rx="40.32" ry="21.84" fill="#f87d29"/><ellipse cx="30.0" cy="25.0" rx="7.15" ry="3.85" fill="#f87d29" transform="rotate(-15 30 25)"/><ellipse cx="18.0" cy="52.0" rx="38.40" ry="20.80" fill="#e95e0d"/></g><line x1="21.1" y1="0" x2="21.1" y2="42.9" stroke="#9e9e9e" stroke-width="1.0"/><line x1="0" y1="20.9" x2="41.7" y2="20.9" stroke="#9e9e9e" stroke-width="1.0"/><g clip-path="url(#pc1)" fill="none" stroke="#2a2a2a" stroke-width="1.05" stroke-linejoin="round"><path d="M14.9 16.6 L17.1 15.3 L27.0 15.3 L28.7 17.0 L29.2 18.7 L36.5 19.2 L39.1 20.9 L40.4 23.5 L40.9 26.1 L42.5 28.5"/><path d="M14.9 16.6 L16.2 18.7 L20.1 19.6 L20.6 21.5 L21.4 23.9 L23.6 24.8 L25.3 27.0 L27.0 29.5 L25.7 30.4 L23.6 28.2 L21.8 26.9 L20.1 27.8 L21.8 32.1 L22.7 33.9"/><path d="M42.5 31.5 L39.1 33.9 L36.5 33.4 L33.1 32.1 L30.5 32.2"/><path d="M31.3 32.6 L35.7 36.5 L40.0 40.8 L41.5 43.0"/><path d="M-1.0 26.4 L0.6 26.4 L3.6 29.4 L6.6 29.4 L7.2 28.2 L3.0 23.1 L5.4 19.8 L6.9 19.8 L8.4 23.7 L10.5 25.5 L12.3 25.8 L14.9 27.8 L17.9 30.4 L20.1 30.8 L22.2 32.7 L22.7 33.9"/><path d="M8.0 32.2 L10.9 32.2 M16.6 34.0 L17.2 34.0 M29.0 32.1 L31.0 32.1" stroke-width="1.5"/></g><rect x="0" y="0" width="41.7" height="42.9" fill="none" stroke="#5a5a5a" stroke-width="1.1"/></g><g transform="translate(280.76,207.27)"><rect x="0" y="0" width="41.7" height="42.9" fill="#fff"/><g clip-path="url(#pc1)" filter="url(#bl)"><path d="M-2.0 10.0 L3.8 9.4 L9.5 8.2 L15.2 11.3 L21.0 10.7 L26.8 10.9 L32.5 8.0 L38.2 9.6 L44.0 10.5 L44 44 L-2 44 Z" fill="#fee8d2" fill-opacity="0.75"/><ellipse cx="18.0" cy="52.0" rx="48.00" ry="26.00" fill="#fee8d2"/><ellipse cx="30.0" cy="25.0" rx="13.00" ry="7.00" fill="#fee8d2" transform="rotate(-15 30 25)"/><path d="M-2.0 19.0 L3.8 17.2 L9.5 18.9 L15.2 20.4 L21.0 19.8 L26.8 18.5 L32.5 17.1 L38.2 19.7 L44.0 19.8 L44 44 L-2 44 Z" fill="#fdd5ad"/><ellipse cx="18.0" cy="52.0" rx="46.40" ry="25.13" fill="#fdd5ad"/><ellipse cx="30.0" cy="25.0" rx="11.83" ry="6.37" fill="#fdd5ad" transform="rotate(-15 30 25)"/><path d="M-2.0 23.3 L3.8 22.2 L9.5 25.5 L15.2 24.7 L21.0 24.7 L26.8 22.0 L32.5 23.7 L38.2 24.7 L44.0 25.5 L44 44 L-2 44 Z" fill="#fdb97d"/><ellipse cx="18.0" cy="52.0" rx="44.80" ry="24.27" fill="#fdb97d"/><ellipse cx="30.0" cy="25.0" rx="10.66" ry="5.74" fill="#fdb97d" transform="rotate(-15 30 25)"/><ellipse cx="18.0" cy="52.0" rx="43.20" ry="23.40" fill="#fd9c51"/><ellipse cx="30.0" cy="25.0" rx="9.49" ry="5.11" fill="#fd9c51" transform="rotate(-15 30 25)"/><ellipse cx="18.0" cy="52.0" rx="41.60" ry="22.53" fill="#f87d29"/><ellipse cx="30.0" cy="25.0" rx="8.32" ry="4.48" fill="#f87d29" transform="rotate(-15 30 25)"/><ellipse cx="18.0" cy="52.0" rx="40.00" ry="21.67" fill="#e95e0d"/><ellipse cx="30.0" cy="25.0" rx="7.15" ry="3.85" fill="#e95e0d" transform="rotate(-15 30 25)"/><ellipse cx="18.0" cy="52.0" rx="38.40" ry="20.80" fill="#cd4401"/></g><line x1="21.1" y1="0" x2="21.1" y2="42.9" stroke="#9e9e9e" stroke-width="1.0"/><line x1="0" y1="20.9" x2="41.7" y2="20.9" stroke="#9e9e9e" stroke-width="1.0"/><g clip-path="url(#pc1)" fill="none" stroke="#2a2a2a" stroke-width="1.05" stroke-linejoin="round"><path d="M14.9 16.6 L17.1 15.3 L27.0 15.3 L28.7 17.0 L29.2 18.7 L36.5 19.2 L39.1 20.9 L40.4 23.5 L40.9 26.1 L42.5 28.5"/><path d="M14.9 16.6 L16.2 18.7 L20.1 19.6 L20.6 21.5 L21.4 23.9 L23.6 24.8 L25.3 27.0 L27.0 29.5 L25.7 30.4 L23.6 28.2 L21.8 26.9 L20.1 27.8 L21.8 32.1 L22.7 33.9"/><path d="M42.5 31.5 L39.1 33.9 L36.5 33.4 L33.1 32.1 L30.5 32.2"/><path d="M31.3 32.6 L35.7 36.5 L40.0 40.8 L41.5 43.0"/><path d="M-1.0 26.4 L0.6 26.4 L3.6 29.4 L6.6 29.4 L7.2 28.2 L3.0 23.1 L5.4 19.8 L6.9 19.8 L8.4 23.7 L10.5 25.5 L12.3 25.8 L14.9 27.8 L17.9 30.4 L20.1 30.8 L22.2 32.7 L22.7 33.9"/><path d="M8.0 32.2 L10.9 32.2 M16.6 34.0 L17.2 34.0 M29.0 32.1 L31.0 32.1" stroke-width="1.5"/></g><rect x="0" y="0" width="41.7" height="42.9" fill="none" stroke="#5a5a5a" stroke-width="1.1"/></g><g transform="translate(324.46,207.27)"><rect x="0" y="0" width="41.7" height="42.9" fill="#fff"/><g clip-path="url(#pc1)" filter="url(#bl)"><path d="M-2.0 10.0 L3.8 8.8 L9.5 8.8 L15.2 11.5 L21.0 10.7 L26.8 10.5 L32.5 7.8 L38.2 10.2 L44.0 10.5 L44 44 L-2 44 Z" fill="#fee8d2" fill-opacity="0.75"/><ellipse cx="18.0" cy="52.0" rx="48.00" ry="26.00" fill="#fee8d2"/><ellipse cx="30.0" cy="25.0" rx="13.00" ry="7.00" fill="#fee8d2" transform="rotate(-15 30 25)"/><path d="M-2.0 18.8 L3.8 17.0 L9.5 19.7 L15.2 20.1 L21.0 19.9 L26.8 17.8 L32.5 17.7 L38.2 19.8 L44.0 20.1 L44 44 L-2 44 Z" fill="#fdd5ad"/><ellipse cx="18.0" cy="52.0" rx="46.63" ry="25.26" fill="#fdd5ad"/><ellipse cx="30.0" cy="25.0" rx="12.03" ry="6.48" fill="#fdd5ad" transform="rotate(-15 30 25)"/><path d="M-2.0 22.8 L3.8 22.8 L9.5 25.7 L15.2 24.6 L21.0 24.3 L26.8 21.8 L32.5 24.3 L38.2 24.6 L44.0 25.6 L44 44 L-2 44 Z" fill="#fdb97d"/><ellipse cx="18.0" cy="52.0" rx="45.26" ry="24.51" fill="#fdb97d"/><ellipse cx="30.0" cy="25.0" rx="11.05" ry="5.95" fill="#fdb97d" transform="rotate(-15 30 25)"/><ellipse cx="18.0" cy="52.0" rx="43.89" ry="23.77" fill="#fd9c51"/><ellipse cx="30.0" cy="25.0" rx="10.08" ry="5.42" fill="#fd9c51" transform="rotate(-15 30 25)"/><ellipse cx="18.0" cy="52.0" rx="42.51" ry="23.03" fill="#f87d29"/><ellipse cx="30.0" cy="25.0" rx="9.10" ry="4.90" fill="#f87d29" transform="rotate(-15 30 25)"/><ellipse cx="18.0" cy="52.0" rx="41.14" ry="22.29" fill="#e95e0d"/><ellipse cx="30.0" cy="25.0" rx="8.12" ry="4.38" fill="#e95e0d" transform="rotate(-15 30 25)"/><ellipse cx="18.0" cy="52.0" rx="39.77" ry="21.54" fill="#cd4401"/><ellipse cx="30.0" cy="25.0" rx="7.15" ry="3.85" fill="#cd4401" transform="rotate(-15 30 25)"/><ellipse cx="18.0" cy="52.0" rx="38.40" ry="20.80" fill="#a13403"/></g><line x1="21.1" y1="0" x2="21.1" y2="42.9" stroke="#9e9e9e" stroke-width="1.0"/><line x1="0" y1="20.9" x2="41.7" y2="20.9" stroke="#9e9e9e" stroke-width="1.0"/><g clip-path="url(#pc1)" fill="none" stroke="#2a2a2a" stroke-width="1.05" stroke-linejoin="round"><path d="M14.9 16.6 L17.1 15.3 L27.0 15.3 L28.7 17.0 L29.2 18.7 L36.5 19.2 L39.1 20.9 L40.4 23.5 L40.9 26.1 L42.5 28.5"/><path d="M14.9 16.6 L16.2 18.7 L20.1 19.6 L20.6 21.5 L21.4 23.9 L23.6 24.8 L25.3 27.0 L27.0 29.5 L25.7 30.4 L23.6 28.2 L21.8 26.9 L20.1 27.8 L21.8 32.1 L22.7 33.9"/><path d="M42.5 31.5 L39.1 33.9 L36.5 33.4 L33.1 32.1 L30.5 32.2"/><path d="M31.3 32.6 L35.7 36.5 L40.0 40.8 L41.5 43.0"/><path d="M-1.0 26.4 L0.6 26.4 L3.6 29.4 L6.6 29.4 L7.2 28.2 L3.0 23.1 L5.4 19.8 L6.9 19.8 L8.4 23.7 L10.5 25.5 L12.3 25.8 L14.9 27.8 L17.9 30.4 L20.1 30.8 L22.2 32.7 L22.7 33.9"/><path d="M8.0 32.2 L10.9 32.2 M16.6 34.0 L17.2 34.0 M29.0 32.1 L31.0 32.1" stroke-width="1.5"/></g><rect x="0" y="0" width="41.7" height="42.9" fill="none" stroke="#5a5a5a" stroke-width="1.1"/></g><g transform="translate(368.16,207.27)"><rect x="0" y="0" width="41.7" height="42.9" fill="#fff"/><g clip-path="url(#pc1)" filter="url(#bl)"><path d="M-2.0 10.0 L3.8 8.3 L9.5 9.6 L15.2 11.4 L21.0 10.8 L26.8 9.8 L32.5 7.9 L38.2 10.6 L44.0 10.7 L44 44 L-2 44 Z" fill="#fee8d2" fill-opacity="0.75"/><ellipse cx="18.0" cy="52.0" rx="48.00" ry="26.00" fill="#fee8d2"/><ellipse cx="30.0" cy="25.0" rx="13.00" ry="7.00" fill="#fee8d2" transform="rotate(-15 30 25)"/><path d="M-2.0 18.5 L3.8 17.1 L9.5 20.4 L15.2 19.8 L21.0 19.8 L26.8 17.1 L32.5 18.4 L38.2 19.7 L44.0 20.4 L44 44 L-2 44 Z" fill="#fdd5ad"/><ellipse cx="18.0" cy="52.0" rx="46.80" ry="25.35" fill="#fdd5ad"/><ellipse cx="30.0" cy="25.0" rx="12.03" ry="6.48" fill="#fdd5ad" transform="rotate(-15 30 25)"/><path d="M-2.0 22.4 L3.8 23.7 L9.5 25.6 L15.2 24.6 L21.0 23.7 L26.8 21.9 L32.5 24.8 L38.2 24.7 L44.0 25.5 L44 44 L-2 44 Z" fill="#fdb97d"/><ellipse cx="18.0" cy="52.0" rx="45.60" ry="24.70" fill="#fdb97d"/><ellipse cx="30.0" cy="25.0" rx="11.05" ry="5.95" fill="#fdb97d" transform="rotate(-15 30 25)"/><ellipse cx="18.0" cy="52.0" rx="44.40" ry="24.05" fill="#fd9c51"/><ellipse cx="30.0" cy="25.0" rx="10.08" ry="5.42" fill="#fd9c51" transform="rotate(-15 30 25)"/><ellipse cx="18.0" cy="52.0" rx="43.20" ry="23.40" fill="#f87d29"/><ellipse cx="30.0" cy="25.0" rx="9.10" ry="4.90" fill="#f87d29" transform="rotate(-15 30 25)"/><ellipse cx="18.0" cy="52.0" rx="42.00" ry="22.75" fill="#e95e0d"/><ellipse cx="30.0" cy="25.0" rx="8.12" ry="4.38" fill="#e95e0d" transform="rotate(-15 30 25)"/><ellipse cx="18.0" cy="52.0" rx="40.80" ry="22.10" fill="#cd4401"/><ellipse cx="30.0" cy="25.0" rx="7.15" ry="3.85" fill="#cd4401" transform="rotate(-15 30 25)"/><ellipse cx="18.0" cy="52.0" rx="39.60" ry="21.45" fill="#a13403"/><ellipse cx="18.0" cy="52.0" rx="38.40" ry="20.80" fill="#7f2704"/></g><line x1="21.1" y1="0" x2="21.1" y2="42.9" stroke="#9e9e9e" stroke-width="1.0"/><line x1="0" y1="20.9" x2="41.7" y2="20.9" stroke="#9e9e9e" stroke-width="1.0"/><g clip-path="url(#pc1)" fill="none" stroke="#2a2a2a" stroke-width="1.05" stroke-linejoin="round"><path d="M14.9 16.6 L17.1 15.3 L27.0 15.3 L28.7 17.0 L29.2 18.7 L36.5 19.2 L39.1 20.9 L40.4 23.5 L40.9 26.1 L42.5 28.5"/><path d="M14.9 16.6 L16.2 18.7 L20.1 19.6 L20.6 21.5 L21.4 23.9 L23.6 24.8 L25.3 27.0 L27.0 29.5 L25.7 30.4 L23.6 28.2 L21.8 26.9 L20.1 27.8 L21.8 32.1 L22.7 33.9"/><path d="M42.5 31.5 L39.1 33.9 L36.5 33.4 L33.1 32.1 L30.5 32.2"/><path d="M31.3 32.6 L35.7 36.5 L40.0 40.8 L41.5 43.0"/><path d="M-1.0 26.4 L0.6 26.4 L3.6 29.4 L6.6 29.4 L7.2 28.2 L3.0 23.1 L5.4 19.8 L6.9 19.8 L8.4 23.7 L10.5 25.5 L12.3 25.8 L14.9 27.8 L17.9 30.4 L20.1 30.8 L22.2 32.7 L22.7 33.9"/><path d="M8.0 32.2 L10.9 32.2 M16.6 34.0 L17.2 34.0 M29.0 32.1 L31.0 32.1" stroke-width="1.5"/></g><rect x="0" y="0" width="41.7" height="42.9" fill="none" stroke="#5a5a5a" stroke-width="1.1"/></g><g transform="translate(411.86,207.27)"><rect x="0" y="0" width="41.7" height="42.9" fill="#fff"/><g clip-path="url(#pc1)" filter="url(#bl)"><path d="M-2.0 9.9 L3.8 8.0 L9.5 10.5 L15.2 11.2 L21.0 10.9 L26.8 9.0 L32.5 8.4 L38.2 10.8 L44.0 11.0 L44 44 L-2 44 Z" fill="#fee8d2" fill-opacity="0.75"/><ellipse cx="18.0" cy="52.0" rx="48.00" ry="26.00" fill="#fee8d2"/><ellipse cx="30.0" cy="25.0" rx="13.00" ry="7.00" fill="#fee8d2" transform="rotate(-15 30 25)"/><path d="M-2.0 18.0 L3.8 17.6 L9.5 20.7 L15.2 19.6 L21.0 19.5 L26.8 16.8 L32.5 19.1 L38.2 19.7 L44.0 20.6 L44 44 L-2 44 Z" fill="#fdd5ad"/><ellipse cx="18.0" cy="52.0" rx="46.40" ry="25.13" fill="#fdd5ad"/><ellipse cx="30.0" cy="25.0" rx="11.83" ry="6.37" fill="#fdd5ad" transform="rotate(-15 30 25)"/><path d="M-2.0 22.1 L3.8 24.6 L9.5 25.3 L15.2 24.7 L21.0 23.0 L26.8 22.5 L32.5 25.0 L38.2 24.9 L44.0 25.0 L44 44 L-2 44 Z" fill="#fdb97d"/><ellipse cx="18.0" cy="52.0" rx="44.80" ry="24.27" fill="#fdb97d"/><ellipse cx="30.0" cy="25.0" rx="10.66" ry="5.74" fill="#fdb97d" transform="rotate(-15 30 25)"/><ellipse cx="18.0" cy="52.0" rx="43.20" ry="23.40" fill="#fd9c51"/><ellipse cx="30.0" cy="25.0" rx="9.49" ry="5.11" fill="#fd9c51" transform="rotate(-15 30 25)"/><ellipse cx="18.0" cy="52.0" rx="41.60" ry="22.53" fill="#f87d29"/><ellipse cx="30.0" cy="25.0" rx="8.32" ry="4.48" fill="#f87d29" transform="rotate(-15 30 25)"/><ellipse cx="18.0" cy="52.0" rx="40.00" ry="21.67" fill="#e95e0d"/><ellipse cx="30.0" cy="25.0" rx="7.15" ry="3.85" fill="#e95e0d" transform="rotate(-15 30 25)"/><ellipse cx="18.0" cy="52.0" rx="38.40" ry="20.80" fill="#cd4401"/></g><line x1="21.1" y1="0" x2="21.1" y2="42.9" stroke="#9e9e9e" stroke-width="1.0"/><line x1="0" y1="20.9" x2="41.7" y2="20.9" stroke="#9e9e9e" stroke-width="1.0"/><g clip-path="url(#pc1)" fill="none" stroke="#2a2a2a" stroke-width="1.05" stroke-linejoin="round"><path d="M14.9 16.6 L17.1 15.3 L27.0 15.3 L28.7 17.0 L29.2 18.7 L36.5 19.2 L39.1 20.9 L40.4 23.5 L40.9 26.1 L42.5 28.5"/><path d="M14.9 16.6 L16.2 18.7 L20.1 19.6 L20.6 21.5 L21.4 23.9 L23.6 24.8 L25.3 27.0 L27.0 29.5 L25.7 30.4 L23.6 28.2 L21.8 26.9 L20.1 27.8 L21.8 32.1 L22.7 33.9"/><path d="M42.5 31.5 L39.1 33.9 L36.5 33.4 L33.1 32.1 L30.5 32.2"/><path d="M31.3 32.6 L35.7 36.5 L40.0 40.8 L41.5 43.0"/><path d="M-1.0 26.4 L0.6 26.4 L3.6 29.4 L6.6 29.4 L7.2 28.2 L3.0 23.1 L5.4 19.8 L6.9 19.8 L8.4 23.7 L10.5 25.5 L12.3 25.8 L14.9 27.8 L17.9 30.4 L20.1 30.8 L22.2 32.7 L22.7 33.9"/><path d="M8.0 32.2 L10.9 32.2 M16.6 34.0 L17.2 34.0 M29.0 32.1 L31.0 32.1" stroke-width="1.5"/></g><rect x="0" y="0" width="41.7" height="42.9" fill="none" stroke="#5a5a5a" stroke-width="1.1"/></g><g transform="translate(18.56,253.20)"><rect x="0" y="0" width="41.7" height="42.1" fill="#fff"/><g clip-path="url(#pc2)" filter="url(#bl)"><path d="M-2.0 19.5 L3.8 17.6 L9.5 17.3 L15.2 14.1 L21.0 17.4 L26.8 18.2 L32.5 18.7 L38.2 15.8 L44.0 15.0 L44 44 L-2 44 Z" fill="#fee8d2" fill-opacity="0.75"/><ellipse cx="16.0" cy="50.0" rx="38.00" ry="17.00" fill="#fee8d2"/><path d="M-2.0 28.9 L3.8 27.3 L9.5 25.7 L15.2 25.0 L21.0 28.8 L26.8 28.0 L32.5 28.0 L38.2 24.1 L44.0 26.9 L44 44 L-2 44 Z" fill="#fdd5ad"/><ellipse cx="16.0" cy="50.0" rx="32.30" ry="14.45" fill="#fdd5ad"/></g><line x1="21.1" y1="0" x2="21.1" y2="42.1" stroke="#9e9e9e" stroke-width="1.0"/><line x1="0" y1="20.9" x2="41.7" y2="20.9" stroke="#9e9e9e" stroke-width="1.0"/><g clip-path="url(#pc2)" fill="none" stroke="#2a2a2a" stroke-width="1.05" stroke-linejoin="round"><path d="M-1.0 31.0 L6.0 31.5 L9.1 33.6 L12.2 32.0 L16.9 30.0 L23.7 30.0 L25.2 31.5 L27.8 30.0 L28.9 27.9 L26.3 25.8 L25.2 23.2 L26.3 20.1 L28.9 18.8 L31.5 19.0 L34.1 21.6 L34.6 26.8 L35.1 32.0 L37.2 33.6 L40.3 35.1 L40.8 38.3 L39.3 39.3 L36.1 38.8 L33.5 37.7 L32.0 39.3 L24.7 40.3 L19.0 42.2"/><path d="M-1.0 19.0 L2.4 19.0 L3.9 21.6 L2.9 24.2 L-1.0 24.8"/></g><rect x="0" y="0" width="41.7" height="42.1" fill="none" stroke="#5a5a5a" stroke-width="1.1"/></g><g transform="translate(62.26,253.20)"><rect x="0" y="0" width="41.7" height="42.1" fill="#fff"/><g clip-path="url(#pc2)" filter="url(#bl)"><path d="M-2.0 19.5 L3.8 17.4 L9.5 16.7 L15.2 14.2 L21.0 18.2 L26.8 18.0 L32.5 18.6 L38.2 14.8 L44.0 15.8 L44 44 L-2 44 Z" fill="#fee8d2" fill-opacity="0.75"/><ellipse cx="16.0" cy="50.0" rx="38.00" ry="17.00" fill="#fee8d2"/><path d="M-2.0 28.3 L3.8 27.3 L9.5 24.9 L15.2 26.0 L21.0 28.8 L26.8 28.2 L32.5 27.2 L38.2 24.1 L44.0 27.4 L44 44 L-2 44 Z" fill="#fdd5ad"/><ellipse cx="16.0" cy="50.0" rx="32.30" ry="14.45" fill="#fdd5ad"/></g><line x1="21.1" y1="0" x2="21.1" y2="42.1" stroke="#9e9e9e" stroke-width="1.0"/><line x1="0" y1="20.9" x2="41.7" y2="20.9" stroke="#9e9e9e" stroke-width="1.0"/><g clip-path="url(#pc2)" fill="none" stroke="#2a2a2a" stroke-width="1.05" stroke-linejoin="round"><path d="M-1.0 31.0 L6.0 31.5 L9.1 33.6 L12.2 32.0 L16.9 30.0 L23.7 30.0 L25.2 31.5 L27.8 30.0 L28.9 27.9 L26.3 25.8 L25.2 23.2 L26.3 20.1 L28.9 18.8 L31.5 19.0 L34.1 21.6 L34.6 26.8 L35.1 32.0 L37.2 33.6 L40.3 35.1 L40.8 38.3 L39.3 39.3 L36.1 38.8 L33.5 37.7 L32.0 39.3 L24.7 40.3 L19.0 42.2"/><path d="M-1.0 19.0 L2.4 19.0 L3.9 21.6 L2.9 24.2 L-1.0 24.8"/></g><rect x="0" y="0" width="41.7" height="42.1" fill="none" stroke="#5a5a5a" stroke-width="1.1"/></g><g transform="translate(105.96,253.20)"><rect x="0" y="0" width="41.7" height="42.1" fill="#fff"/><g clip-path="url(#pc2)" filter="url(#bl)"><path d="M-2.0 19.1 L3.8 17.3 L9.5 15.9 L15.2 14.7 L21.0 18.7 L26.8 18.0 L32.5 18.2 L38.2 14.2 L44.0 16.6 L44 44 L-2 44 Z" fill="#fee8d2" fill-opacity="0.75"/><ellipse cx="16.0" cy="50.0" rx="38.00" ry="17.00" fill="#fee8d2"/><path d="M-2.0 27.7 L3.8 27.1 L9.5 24.3 L15.2 27.1 L21.0 28.5 L26.8 28.4 L32.5 26.1 L38.2 24.7 L44.0 27.7 L44 44 L-2 44 Z" fill="#fdd5ad"/><ellipse cx="16.0" cy="50.0" rx="32.30" ry="14.45" fill="#fdd5ad"/></g><line x1="21.1" y1="0" x2="21.1" y2="42.1" stroke="#9e9e9e" stroke-width="1.0"/><line x1="0" y1="20.9" x2="41.7" y2="20.9" stroke="#9e9e9e" stroke-width="1.0"/><g clip-path="url(#pc2)" fill="none" stroke="#2a2a2a" stroke-width="1.05" stroke-linejoin="round"><path d="M-1.0 31.0 L6.0 31.5 L9.1 33.6 L12.2 32.0 L16.9 30.0 L23.7 30.0 L25.2 31.5 L27.8 30.0 L28.9 27.9 L26.3 25.8 L25.2 23.2 L26.3 20.1 L28.9 18.8 L31.5 19.0 L34.1 21.6 L34.6 26.8 L35.1 32.0 L37.2 33.6 L40.3 35.1 L40.8 38.3 L39.3 39.3 L36.1 38.8 L33.5 37.7 L32.0 39.3 L24.7 40.3 L19.0 42.2"/><path d="M-1.0 19.0 L2.4 19.0 L3.9 21.6 L2.9 24.2 L-1.0 24.8"/></g><rect x="0" y="0" width="41.7" height="42.1" fill="none" stroke="#5a5a5a" stroke-width="1.1"/></g><g transform="translate(149.66,253.20)"><rect x="0" y="0" width="41.7" height="42.1" fill="#fff"/><g clip-path="url(#pc2)" filter="url(#bl)"><path d="M-2.0 18.5 L3.8 17.3 L9.5 15.1 L15.2 15.6 L21.0 18.8 L26.8 18.1 L32.5 17.5 L38.2 14.1 L44.0 17.3 L44 44 L-2 44 Z" fill="#fee8d2" fill-opacity="0.75"/><ellipse cx="16.0" cy="50.0" rx="38.00" ry="17.00" fill="#fee8d2"/><ellipse cx="30.0" cy="37.0" rx="8.00" ry="4.50" fill="#fee8d2"/><path d="M-2.0 27.2 L3.8 26.8 L9.5 24.2 L15.2 28.1 L21.0 28.2 L26.8 28.4 L32.5 25.1 L38.2 25.5 L44.0 27.7 L44 44 L-2 44 Z" fill="#fdd5ad"/><ellipse cx="16.0" cy="50.0" rx="35.15" ry="15.73" fill="#fdd5ad"/><ellipse cx="30.0" cy="37.0" rx="3.20" ry="1.80" fill="#fdd5ad"/><ellipse cx="16.0" cy="50.0" rx="32.30" ry="14.45" fill="#fdb97d"/></g><line x1="21.1" y1="0" x2="21.1" y2="42.1" stroke="#9e9e9e" stroke-width="1.0"/><line x1="0" y1="20.9" x2="41.7" y2="20.9" stroke="#9e9e9e" stroke-width="1.0"/><g clip-path="url(#pc2)" fill="none" stroke="#2a2a2a" stroke-width="1.05" stroke-linejoin="round"><path d="M-1.0 31.0 L6.0 31.5 L9.1 33.6 L12.2 32.0 L16.9 30.0 L23.7 30.0 L25.2 31.5 L27.8 30.0 L28.9 27.9 L26.3 25.8 L25.2 23.2 L26.3 20.1 L28.9 18.8 L31.5 19.0 L34.1 21.6 L34.6 26.8 L35.1 32.0 L37.2 33.6 L40.3 35.1 L40.8 38.3 L39.3 39.3 L36.1 38.8 L33.5 37.7 L32.0 39.3 L24.7 40.3 L19.0 42.2"/><path d="M-1.0 19.0 L2.4 19.0 L3.9 21.6 L2.9 24.2 L-1.0 24.8"/></g><rect x="0" y="0" width="41.7" height="42.1" fill="none" stroke="#5a5a5a" stroke-width="1.1"/></g><g transform="translate(193.36,253.20)"><rect x="0" y="0" width="41.7" height="42.1" fill="#fff"/><g clip-path="url(#pc2)" filter="url(#bl)"><path d="M-2.0 17.9 L3.8 17.2 L9.5 14.5 L15.2 16.8 L21.0 18.6 L26.8 18.3 L32.5 16.5 L38.2 14.5 L44.0 17.6 L44 44 L-2 44 Z" fill="#fee8d2" fill-opacity="0.75"/><ellipse cx="16.0" cy="50.0" rx="38.00" ry="17.00" fill="#fee8d2"/><ellipse cx="30.0" cy="37.0" rx="8.00" ry="4.50" fill="#fee8d2"/><path d="M-2.0 27.0 L3.8 26.2 L9.5 24.5 L15.2 28.8 L21.0 28.0 L26.8 28.2 L32.5 24.3 L38.2 26.5 L44.0 27.7 L44 44 L-2 44 Z" fill="#fdd5ad"/><ellipse cx="16.0" cy="50.0" rx="36.10" ry="16.15" fill="#fdd5ad"/><ellipse cx="30.0" cy="37.0" rx="5.60" ry="3.15" fill="#fdd5ad"/><ellipse cx="16.0" cy="50.0" rx="34.20" ry="15.30" fill="#fdb97d"/><ellipse cx="30.0" cy="37.0" rx="3.20" ry="1.80" fill="#fdb97d"/><ellipse cx="16.0" cy="50.0" rx="32.30" ry="14.45" fill="#fd9c51"/></g><line x1="21.1" y1="0" x2="21.1" y2="42.1" stroke="#9e9e9e" stroke-width="1.0"/><line x1="0" y1="20.9" x2="41.7" y2="20.9" stroke="#9e9e9e" stroke-width="1.0"/><g clip-path="url(#pc2)" fill="none" stroke="#2a2a2a" stroke-width="1.05" stroke-linejoin="round"><path d="M-1.0 31.0 L6.0 31.5 L9.1 33.6 L12.2 32.0 L16.9 30.0 L23.7 30.0 L25.2 31.5 L27.8 30.0 L28.9 27.9 L26.3 25.8 L25.2 23.2 L26.3 20.1 L28.9 18.8 L31.5 19.0 L34.1 21.6 L34.6 26.8 L35.1 32.0 L37.2 33.6 L40.3 35.1 L40.8 38.3 L39.3 39.3 L36.1 38.8 L33.5 37.7 L32.0 39.3 L24.7 40.3 L19.0 42.2"/><path d="M-1.0 19.0 L2.4 19.0 L3.9 21.6 L2.9 24.2 L-1.0 24.8"/></g><rect x="0" y="0" width="41.7" height="42.1" fill="none" stroke="#5a5a5a" stroke-width="1.1"/></g><g transform="translate(237.06,253.20)"><rect x="0" y="0" width="41.7" height="42.1" fill="#fff"/><g clip-path="url(#pc2)" filter="url(#bl)"><path d="M-2.0 17.4 L3.8 16.9 L9.5 14.2 L15.2 17.8 L21.0 18.3 L26.8 18.4 L32.5 15.4 L38.2 15.2 L44.0 17.7 L44 44 L-2 44 Z" fill="#fee8d2" fill-opacity="0.75"/><ellipse cx="16.0" cy="50.0" rx="38.00" ry="17.00" fill="#fee8d2"/><ellipse cx="30.0" cy="37.0" rx="8.00" ry="4.50" fill="#fee8d2"/><path d="M-2.0 27.0 L3.8 25.4 L9.5 25.4 L15.2 29.0 L21.0 27.9 L26.8 27.6 L32.5 24.0 L38.2 27.3 L44.0 27.7 L44 44 L-2 44 Z" fill="#fdd5ad"/><ellipse cx="16.0" cy="50.0" rx="36.58" ry="16.36" fill="#fdd5ad"/><ellipse cx="30.0" cy="37.0" rx="6.40" ry="3.60" fill="#fdd5ad"/><ellipse cx="16.0" cy="50.0" rx="35.15" ry="15.73" fill="#fdb97d"/><ellipse cx="30.0" cy="37.0" rx="4.80" ry="2.70" fill="#fdb97d"/><ellipse cx="16.0" cy="50.0" rx="33.73" ry="15.09" fill="#fd9c51"/><ellipse cx="30.0" cy="37.0" rx="3.20" ry="1.80" fill="#fd9c51"/><ellipse cx="16.0" cy="50.0" rx="32.30" ry="14.45" fill="#f87d29"/></g><line x1="21.1" y1="0" x2="21.1" y2="42.1" stroke="#9e9e9e" stroke-width="1.0"/><line x1="0" y1="20.9" x2="41.7" y2="20.9" stroke="#9e9e9e" stroke-width="1.0"/><g clip-path="url(#pc2)" fill="none" stroke="#2a2a2a" stroke-width="1.05" stroke-linejoin="round"><path d="M-1.0 31.0 L6.0 31.5 L9.1 33.6 L12.2 32.0 L16.9 30.0 L23.7 30.0 L25.2 31.5 L27.8 30.0 L28.9 27.9 L26.3 25.8 L25.2 23.2 L26.3 20.1 L28.9 18.8 L31.5 19.0 L34.1 21.6 L34.6 26.8 L35.1 32.0 L37.2 33.6 L40.3 35.1 L40.8 38.3 L39.3 39.3 L36.1 38.8 L33.5 37.7 L32.0 39.3 L24.7 40.3 L19.0 42.2"/><path d="M-1.0 19.0 L2.4 19.0 L3.9 21.6 L2.9 24.2 L-1.0 24.8"/></g><rect x="0" y="0" width="41.7" height="42.1" fill="none" stroke="#5a5a5a" stroke-width="1.1"/></g><g transform="translate(280.76,253.20)"><rect x="0" y="0" width="41.7" height="42.1" fill="#fff"/><g clip-path="url(#pc2)" filter="url(#bl)"><path d="M-2.0 17.1 L3.8 16.4 L9.5 14.4 L15.2 18.6 L21.0 18.0 L26.8 18.3 L32.5 14.5 L38.2 16.2 L44.0 17.7 L44 44 L-2 44 Z" fill="#fee8d2" fill-opacity="0.75"/><ellipse cx="16.0" cy="50.0" rx="38.00" ry="17.00" fill="#fee8d2"/><ellipse cx="30.0" cy="37.0" rx="8.00" ry="4.50" fill="#fee8d2"/><path d="M-2.0 27.0 L3.8 24.7 L9.5 26.5 L15.2 28.9 L21.0 28.0 L26.8 26.7 L32.5 24.2 L38.2 27.8 L44.0 27.9 L44 44 L-2 44 Z" fill="#fdd5ad"/><ellipse cx="16.0" cy="50.0" rx="36.58" ry="16.36" fill="#fdd5ad"/><ellipse cx="30.0" cy="37.0" rx="7.04" ry="3.96" fill="#fdd5ad"/><ellipse cx="16.0" cy="50.0" rx="35.15" ry="15.73" fill="#fdb97d"/><ellipse cx="30.0" cy="37.0" rx="6.08" ry="3.42" fill="#fdb97d"/><ellipse cx="16.0" cy="50.0" rx="33.73" ry="15.09" fill="#fd9c51"/><ellipse cx="30.0" cy="37.0" rx="5.12" ry="2.88" fill="#fd9c51"/><ellipse cx="16.0" cy="50.0" rx="32.30" ry="14.45" fill="#f87d29"/><ellipse cx="30.0" cy="37.0" rx="4.16" ry="2.34" fill="#f87d29"/><ellipse cx="30.0" cy="37.0" rx="3.20" ry="1.80" fill="#e95e0d"/></g><line x1="21.1" y1="0" x2="21.1" y2="42.1" stroke="#9e9e9e" stroke-width="1.0"/><line x1="0" y1="20.9" x2="41.7" y2="20.9" stroke="#9e9e9e" stroke-width="1.0"/><g clip-path="url(#pc2)" fill="none" stroke="#2a2a2a" stroke-width="1.05" stroke-linejoin="round"><path d="M-1.0 31.0 L6.0 31.5 L9.1 33.6 L12.2 32.0 L16.9 30.0 L23.7 30.0 L25.2 31.5 L27.8 30.0 L28.9 27.9 L26.3 25.8 L25.2 23.2 L26.3 20.1 L28.9 18.8 L31.5 19.0 L34.1 21.6 L34.6 26.8 L35.1 32.0 L37.2 33.6 L40.3 35.1 L40.8 38.3 L39.3 39.3 L36.1 38.8 L33.5 37.7 L32.0 39.3 L24.7 40.3 L19.0 42.2"/><path d="M-1.0 19.0 L2.4 19.0 L3.9 21.6 L2.9 24.2 L-1.0 24.8"/></g><rect x="0" y="0" width="41.7" height="42.1" fill="none" stroke="#5a5a5a" stroke-width="1.1"/></g><g transform="translate(324.46,253.20)"><rect x="0" y="0" width="41.7" height="42.1" fill="#fff"/><g clip-path="url(#pc2)" filter="url(#bl)"><path d="M-2.0 17.0 L3.8 15.7 L9.5 15.0 L15.2 19.0 L21.0 17.9 L26.8 17.8 L32.5 14.1 L38.2 17.0 L44.0 17.7 L44 44 L-2 44 Z" fill="#fee8d2" fill-opacity="0.75"/><ellipse cx="16.0" cy="50.0" rx="38.00" ry="17.00" fill="#fee8d2"/><ellipse cx="30.0" cy="37.0" rx="8.00" ry="4.50" fill="#fee8d2"/><path d="M-2.0 26.8 L3.8 24.3 L9.5 27.6 L15.2 28.6 L21.0 28.2 L26.8 25.7 L32.5 24.9 L38.2 28.0 L44.0 28.3 L44 44 L-2 44 Z" fill="#fdd5ad"/><ellipse cx="16.0" cy="50.0" rx="36.86" ry="16.49" fill="#fdd5ad"/><ellipse cx="30.0" cy="37.0" rx="7.20" ry="4.05" fill="#fdd5ad"/><ellipse cx="16.0" cy="50.0" rx="35.72" ry="15.98" fill="#fdb97d"/><ellipse cx="30.0" cy="37.0" rx="6.40" ry="3.60" fill="#fdb97d"/><ellipse cx="16.0" cy="50.0" rx="34.58" ry="15.47" fill="#fd9c51"/><ellipse cx="30.0" cy="37.0" rx="5.60" ry="3.15" fill="#fd9c51"/><ellipse cx="16.0" cy="50.0" rx="33.44" ry="14.96" fill="#f87d29"/><ellipse cx="30.0" cy="37.0" rx="4.80" ry="2.70" fill="#f87d29"/><ellipse cx="16.0" cy="50.0" rx="32.30" ry="14.45" fill="#e95e0d"/><ellipse cx="30.0" cy="37.0" rx="4.00" ry="2.25" fill="#e95e0d"/><ellipse cx="30.0" cy="37.0" rx="3.20" ry="1.80" fill="#cd4401"/></g><line x1="21.1" y1="0" x2="21.1" y2="42.1" stroke="#9e9e9e" stroke-width="1.0"/><line x1="0" y1="20.9" x2="41.7" y2="20.9" stroke="#9e9e9e" stroke-width="1.0"/><g clip-path="url(#pc2)" fill="none" stroke="#2a2a2a" stroke-width="1.05" stroke-linejoin="round"><path d="M-1.0 31.0 L6.0 31.5 L9.1 33.6 L12.2 32.0 L16.9 30.0 L23.7 30.0 L25.2 31.5 L27.8 30.0 L28.9 27.9 L26.3 25.8 L25.2 23.2 L26.3 20.1 L28.9 18.8 L31.5 19.0 L34.1 21.6 L34.6 26.8 L35.1 32.0 L37.2 33.6 L40.3 35.1 L40.8 38.3 L39.3 39.3 L36.1 38.8 L33.5 37.7 L32.0 39.3 L24.7 40.3 L19.0 42.2"/><path d="M-1.0 19.0 L2.4 19.0 L3.9 21.6 L2.9 24.2 L-1.0 24.8"/></g><rect x="0" y="0" width="41.7" height="42.1" fill="none" stroke="#5a5a5a" stroke-width="1.1"/></g><g transform="translate(368.16,253.20)"><rect x="0" y="0" width="41.7" height="42.1" fill="#fff"/><g clip-path="url(#pc2)" filter="url(#bl)"><path d="M-2.0 17.0 L3.8 14.9 L9.5 16.1 L15.2 19.0 L21.0 18.0 L26.8 17.0 L32.5 14.1 L38.2 17.6 L44.0 17.8 L44 44 L-2 44 Z" fill="#fee8d2" fill-opacity="0.75"/><ellipse cx="16.0" cy="50.0" rx="38.00" ry="17.00" fill="#fee8d2"/><ellipse cx="30.0" cy="37.0" rx="8.00" ry="4.50" fill="#fee8d2"/><path d="M-2.0 26.5 L3.8 24.3 L9.5 28.6 L15.2 28.2 L21.0 28.1 L26.8 24.8 L32.5 25.9 L38.2 28.0 L44.0 28.7 L44 44 L-2 44 Z" fill="#fdd5ad"/><ellipse cx="16.0" cy="50.0" rx="37.05" ry="16.57" fill="#fdd5ad"/><ellipse cx="30.0" cy="37.0" rx="7.31" ry="4.11" fill="#fdd5ad"/><ellipse cx="16.0" cy="50.0" rx="36.10" ry="16.15" fill="#fdb97d"/><ellipse cx="30.0" cy="37.0" rx="6.63" ry="3.73" fill="#fdb97d"/><ellipse cx="16.0" cy="50.0" rx="35.15" ry="15.73" fill="#fd9c51"/><ellipse cx="30.0" cy="37.0" rx="5.94" ry="3.34" fill="#fd9c51"/><ellipse cx="16.0" cy="50.0" rx="34.20" ry="15.30" fill="#f87d29"/><ellipse cx="30.0" cy="37.0" rx="5.26" ry="2.96" fill="#f87d29"/><ellipse cx="16.0" cy="50.0" rx="33.25" ry="14.88" fill="#e95e0d"/><ellipse cx="30.0" cy="37.0" rx="4.57" ry="2.57" fill="#e95e0d"/><ellipse cx="16.0" cy="50.0" rx="32.30" ry="14.45" fill="#cd4401"/><ellipse cx="30.0" cy="37.0" rx="3.89" ry="2.19" fill="#cd4401"/><ellipse cx="30.0" cy="37.0" rx="3.20" ry="1.80" fill="#a13403"/></g><line x1="21.1" y1="0" x2="21.1" y2="42.1" stroke="#9e9e9e" stroke-width="1.0"/><line x1="0" y1="20.9" x2="41.7" y2="20.9" stroke="#9e9e9e" stroke-width="1.0"/><g clip-path="url(#pc2)" fill="none" stroke="#2a2a2a" stroke-width="1.05" stroke-linejoin="round"><path d="M-1.0 31.0 L6.0 31.5 L9.1 33.6 L12.2 32.0 L16.9 30.0 L23.7 30.0 L25.2 31.5 L27.8 30.0 L28.9 27.9 L26.3 25.8 L25.2 23.2 L26.3 20.1 L28.9 18.8 L31.5 19.0 L34.1 21.6 L34.6 26.8 L35.1 32.0 L37.2 33.6 L40.3 35.1 L40.8 38.3 L39.3 39.3 L36.1 38.8 L33.5 37.7 L32.0 39.3 L24.7 40.3 L19.0 42.2"/><path d="M-1.0 19.0 L2.4 19.0 L3.9 21.6 L2.9 24.2 L-1.0 24.8"/></g><rect x="0" y="0" width="41.7" height="42.1" fill="none" stroke="#5a5a5a" stroke-width="1.1"/></g><g transform="translate(411.86,253.20)"><rect x="0" y="0" width="41.7" height="42.1" fill="#fff"/><g clip-path="url(#pc2)" filter="url(#bl)"><path d="M-2.0 16.9 L3.8 14.4 L9.5 17.3 L15.2 18.7 L21.0 18.1 L26.8 16.0 L32.5 14.7 L38.2 18.0 L44.0 18.1 L44 44 L-2 44 Z" fill="#fee8d2" fill-opacity="0.75"/><ellipse cx="16.0" cy="50.0" rx="38.00" ry="17.00" fill="#fee8d2"/><ellipse cx="30.0" cy="37.0" rx="8.00" ry="4.50" fill="#fee8d2"/><path d="M-2.0 25.9 L3.8 24.9 L9.5 29.1 L15.2 27.9 L21.0 27.8 L26.8 24.1 L32.5 26.9 L38.2 27.9 L44.0 29.1 L44 44 L-2 44 Z" fill="#fdd5ad"/><ellipse cx="16.0" cy="50.0" rx="37.05" ry="16.57" fill="#fdd5ad"/><ellipse cx="30.0" cy="37.0" rx="7.31" ry="4.11" fill="#fdd5ad"/><ellipse cx="16.0" cy="50.0" rx="36.10" ry="16.15" fill="#fdb97d"/><ellipse cx="30.0" cy="37.0" rx="6.63" ry="3.73" fill="#fdb97d"/><ellipse cx="16.0" cy="50.0" rx="35.15" ry="15.73" fill="#fd9c51"/><ellipse cx="30.0" cy="37.0" rx="5.94" ry="3.34" fill="#fd9c51"/><ellipse cx="16.0" cy="50.0" rx="34.20" ry="15.30" fill="#f87d29"/><ellipse cx="30.0" cy="37.0" rx="5.26" ry="2.96" fill="#f87d29"/><ellipse cx="16.0" cy="50.0" rx="33.25" ry="14.88" fill="#e95e0d"/><ellipse cx="30.0" cy="37.0" rx="4.57" ry="2.57" fill="#e95e0d"/><ellipse cx="16.0" cy="50.0" rx="32.30" ry="14.45" fill="#cd4401"/><ellipse cx="30.0" cy="37.0" rx="3.89" ry="2.19" fill="#cd4401"/><ellipse cx="30.0" cy="37.0" rx="3.20" ry="1.80" fill="#a13403"/></g><line x1="21.1" y1="0" x2="21.1" y2="42.1" stroke="#9e9e9e" stroke-width="1.0"/><line x1="0" y1="20.9" x2="41.7" y2="20.9" stroke="#9e9e9e" stroke-width="1.0"/><g clip-path="url(#pc2)" fill="none" stroke="#2a2a2a" stroke-width="1.05" stroke-linejoin="round"><path d="M-1.0 31.0 L6.0 31.5 L9.1 33.6 L12.2 32.0 L16.9 30.0 L23.7 30.0 L25.2 31.5 L27.8 30.0 L28.9 27.9 L26.3 25.8 L25.2 23.2 L26.3 20.1 L28.9 18.8 L31.5 19.0 L34.1 21.6 L34.6 26.8 L35.1 32.0 L37.2 33.6 L40.3 35.1 L40.8 38.3 L39.3 39.3 L36.1 38.8 L33.5 37.7 L32.0 39.3 L24.7 40.3 L19.0 42.2"/><path d="M-1.0 19.0 L2.4 19.0 L3.9 21.6 L2.9 24.2 L-1.0 24.8"/></g><rect x="0" y="0" width="41.7" height="42.1" fill="none" stroke="#5a5a5a" stroke-width="1.1"/></g><g transform="translate(15.8,183.5) rotate(-90)"><text text-anchor="middle" font-size="7.6" fill="#333">t<tspan font-size="4.6" dy="1.2">cyc</tspan><tspan dy="-1.2">=24h</tspan></text></g><g transform="translate(15.8,228.7) rotate(-90)"><text text-anchor="middle" font-size="7.6" fill="#333">t<tspan font-size="4.6" dy="1.2">cyc</tspan><tspan dy="-1.2">=12h</tspan></text></g><g transform="translate(15.8,274.2) rotate(-90)"><text text-anchor="middle" font-size="7.6" fill="#333">t<tspan font-size="4.6" dy="1.2">cyc</tspan><tspan dy="-1.2">=0h</tspan></text></g><text x="39.4" y="304.8" text-anchor="middle" font-size="7.1" fill="#333">t<tspan font-size="4.3" dy="2.2">tc</tspan><tspan dy="-2.2">=120h</tspan></text><text x="83.1" y="304.8" text-anchor="middle" font-size="7.1" fill="#333">t<tspan font-size="4.3" dy="2.2">tc</tspan><tspan dy="-2.2">=108h</tspan></text><text x="126.8" y="304.8" text-anchor="middle" font-size="7.1" fill="#333">t<tspan font-size="4.3" dy="2.2">tc</tspan><tspan dy="-2.2">=96h</tspan></text><text x="170.5" y="304.8" text-anchor="middle" font-size="7.1" fill="#333">t<tspan font-size="4.3" dy="2.2">tc</tspan><tspan dy="-2.2">=84h</tspan></text><text x="214.2" y="304.8" text-anchor="middle" font-size="7.1" fill="#333">t<tspan font-size="4.3" dy="2.2">tc</tspan><tspan dy="-2.2">=72h</tspan></text><text x="257.9" y="304.8" text-anchor="middle" font-size="7.1" fill="#333">t<tspan font-size="4.3" dy="2.2">tc</tspan><tspan dy="-2.2">=60h</tspan></text><text x="301.6" y="304.8" text-anchor="middle" font-size="7.1" fill="#333">t<tspan font-size="4.3" dy="2.2">tc</tspan><tspan dy="-2.2">=48h</tspan></text><text x="345.3" y="304.8" text-anchor="middle" font-size="7.1" fill="#333">t<tspan font-size="4.3" dy="2.2">tc</tspan><tspan dy="-2.2">=36h</tspan></text><text x="389.0" y="304.8" text-anchor="middle" font-size="7.1" fill="#333">t<tspan font-size="4.3" dy="2.2">tc</tspan><tspan dy="-2.2">=24h</tspan></text><text x="432.7" y="304.8" text-anchor="middle" font-size="7.1" fill="#333">t<tspan font-size="4.3" dy="2.2">tc</tspan><tspan dy="-2.2">=12h</tspan></text><line x1="318.4" y1="5.6" x2="457.9" y2="148.4" stroke="#e8232a" stroke-width="1.1" stroke-dasharray="4.5 3.5" stroke-dashoffset="2.2"/><line x1="318.4" y1="156.4" x2="457.9" y2="299.2" stroke="#e8232a" stroke-width="1.1" stroke-dasharray="4.5 3.5" stroke-dashoffset="2.2"/><rect x="459.3" y="123.98" width="11.5" height="11.72" fill="#f7fbff"/><rect x="459.3" y="112.46" width="11.5" height="11.72" fill="#e1edf8"/><rect x="459.3" y="100.94" width="11.5" height="11.72" fill="#ccdff1"/><rect x="459.3" y="89.42" width="11.5" height="11.72" fill="#abd0e6"/><rect x="459.3" y="77.90" width="11.5" height="11.72" fill="#82bbdb"/><rect x="459.3" y="66.38" width="11.5" height="11.72" fill="#58a1cf"/><rect x="459.3" y="54.86" width="11.5" height="11.72" fill="#3787c0"/><rect x="459.3" y="43.34" width="11.5" height="11.72" fill="#1b69af"/><rect x="459.3" y="31.82" width="11.5" height="11.72" fill="#084d96"/><rect x="459.3" y="20.30" width="11.5" height="11.72" fill="#08306b"/><rect x="459.3" y="20.3" width="11.5" height="115.20" fill="none" stroke="#555" stroke-width="0.9"/><line x1="470.8" y1="135.50" x2="472.6" y2="135.50" stroke="#555" stroke-width="0.7"/><text x="473.8" y="137.90" font-size="7" fill="#262626">0</text><line x1="470.8" y1="123.98" x2="472.6" y2="123.98" stroke="#555" stroke-width="0.7"/><line x1="470.8" y1="112.46" x2="472.6" y2="112.46" stroke="#555" stroke-width="0.7"/><text x="473.8" y="114.86" font-size="7" fill="#262626">20</text><line x1="470.8" y1="100.94" x2="472.6" y2="100.94" stroke="#555" stroke-width="0.7"/><line x1="470.8" y1="89.42" x2="472.6" y2="89.42" stroke="#555" stroke-width="0.7"/><text x="473.8" y="91.82" font-size="7" fill="#262626">40</text><line x1="470.8" y1="77.90" x2="472.6" y2="77.90" stroke="#555" stroke-width="0.7"/><line x1="470.8" y1="66.38" x2="472.6" y2="66.38" stroke="#555" stroke-width="0.7"/><text x="473.8" y="68.78" font-size="7" fill="#262626">60</text><line x1="470.8" y1="54.86" x2="472.6" y2="54.86" stroke="#555" stroke-width="0.7"/><line x1="470.8" y1="43.34" x2="472.6" y2="43.34" stroke="#555" stroke-width="0.7"/><text x="473.8" y="45.74" font-size="7" fill="#262626">80</text><line x1="470.8" y1="31.82" x2="472.6" y2="31.82" stroke="#555" stroke-width="0.7"/><line x1="470.8" y1="20.30" x2="472.6" y2="20.30" stroke="#555" stroke-width="0.7"/><text x="473.8" y="22.70" font-size="7" fill="#262626">100</text><g transform="translate(492.3,77.9) rotate(-90)"><text text-anchor="middle" font-size="8.3" fill="#262626"><tspan font-style="italic">p</tspan><tspan font-size="5" dy="1.6">loc</tspan><tspan dy="-1.6"> [%]</tspan></text></g><rect x="459.3" y="274.34" width="11.5" height="11.66" fill="#fff5eb"/><rect x="459.3" y="262.88" width="11.5" height="11.66" fill="#fee8d2"/><rect x="459.3" y="251.42" width="11.5" height="11.66" fill="#fdd5ad"/><rect x="459.3" y="239.96" width="11.5" height="11.66" fill="#fdb97d"/><rect x="459.3" y="228.50" width="11.5" height="11.66" fill="#fd9c51"/><rect x="459.3" y="217.04" width="11.5" height="11.66" fill="#f87d29"/><rect x="459.3" y="205.58" width="11.5" height="11.66" fill="#e95e0d"/><rect x="459.3" y="194.12" width="11.5" height="11.66" fill="#cd4401"/><rect x="459.3" y="182.66" width="11.5" height="11.66" fill="#a13403"/><rect x="459.3" y="171.20" width="11.5" height="11.66" fill="#7f2704"/><rect x="459.3" y="171.2" width="11.5" height="114.60" fill="none" stroke="#555" stroke-width="0.9"/><line x1="470.8" y1="285.80" x2="472.6" y2="285.80" stroke="#555" stroke-width="0.7"/><text x="473.8" y="288.20" font-size="7" fill="#262626">0</text><line x1="470.8" y1="274.34" x2="472.6" y2="274.34" stroke="#555" stroke-width="0.7"/><line x1="470.8" y1="262.88" x2="472.6" y2="262.88" stroke="#555" stroke-width="0.7"/><text x="473.8" y="265.28" font-size="7" fill="#262626">20</text><line x1="470.8" y1="251.42" x2="472.6" y2="251.42" stroke="#555" stroke-width="0.7"/><line x1="470.8" y1="239.96" x2="472.6" y2="239.96" stroke="#555" stroke-width="0.7"/><text x="473.8" y="242.36" font-size="7" fill="#262626">40</text><line x1="470.8" y1="228.50" x2="472.6" y2="228.50" stroke="#555" stroke-width="0.7"/><line x1="470.8" y1="217.04" x2="472.6" y2="217.04" stroke="#555" stroke-width="0.7"/><text x="473.8" y="219.44" font-size="7" fill="#262626">60</text><line x1="470.8" y1="205.58" x2="472.6" y2="205.58" stroke="#555" stroke-width="0.7"/><line x1="470.8" y1="194.12" x2="472.6" y2="194.12" stroke="#555" stroke-width="0.7"/><text x="473.8" y="196.52" font-size="7" fill="#262626">80</text><line x1="470.8" y1="182.66" x2="472.6" y2="182.66" stroke="#555" stroke-width="0.7"/><line x1="470.8" y1="171.20" x2="472.6" y2="171.20" stroke="#555" stroke-width="0.7"/><text x="473.8" y="173.60" font-size="7" fill="#262626">100</text><g transform="translate(492.3,228.5) rotate(-90)"><text text-anchor="middle" font-size="8.3" fill="#262626"><tspan font-style="italic">p</tspan><tspan font-size="5" dy="1.6">loc</tspan><tspan dy="-1.6"> [%]</tspan></text></g><g><rect x="32.5" y="328.5" width="208.8" height="103.69999999999999" fill="none" stroke="#9a9a9a" stroke-width="0.9"/><line x1="30.9" y1="427.60" x2="32.5" y2="427.60" stroke="#777" stroke-width="0.8"/><text x="28.0" y="430.50" text-anchor="end" font-size="8.6" fill="#222">0</text><line x1="30.9" y1="418.18" x2="32.5" y2="418.18" stroke="#777" stroke-width="0.8"/><line x1="30.9" y1="408.76" x2="32.5" y2="408.76" stroke="#777" stroke-width="0.8"/><text x="28.0" y="411.66" text-anchor="end" font-size="8.6" fill="#222">20</text><line x1="30.9" y1="399.34" x2="32.5" y2="399.34" stroke="#777" stroke-width="0.8"/><line x1="30.9" y1="389.92" x2="32.5" y2="389.92" stroke="#777" stroke-width="0.8"/><text x="28.0" y="392.82" text-anchor="end" font-size="8.6" fill="#222">40</text><line x1="30.9" y1="380.50" x2="32.5" y2="380.50" stroke="#777" stroke-width="0.8"/><line x1="30.9" y1="371.08" x2="32.5" y2="371.08" stroke="#777" stroke-width="0.8"/><text x="28.0" y="373.98" text-anchor="end" font-size="8.6" fill="#222">60</text><line x1="30.9" y1="361.66" x2="32.5" y2="361.66" stroke="#777" stroke-width="0.8"/><line x1="30.9" y1="352.24" x2="32.5" y2="352.24" stroke="#777" stroke-width="0.8"/><text x="28.0" y="355.14" text-anchor="end" font-size="8.6" fill="#222">80</text><line x1="30.9" y1="342.82" x2="32.5" y2="342.82" stroke="#777" stroke-width="0.8"/><line x1="30.9" y1="333.40" x2="32.5" y2="333.40" stroke="#777" stroke-width="0.8"/><text x="28.0" y="336.30" text-anchor="end" font-size="8.6" fill="#222">100</text><line x1="42.00" y1="432.2" x2="42.00" y2="433.8" stroke="#777" stroke-width="0.8"/><line x1="52.00" y1="432.2" x2="52.00" y2="433.8" stroke="#777" stroke-width="0.8"/><line x1="62.00" y1="432.2" x2="62.00" y2="433.8" stroke="#777" stroke-width="0.8"/><line x1="72.00" y1="432.2" x2="72.00" y2="433.8" stroke="#777" stroke-width="0.8"/><line x1="82.00" y1="432.2" x2="82.00" y2="433.8" stroke="#777" stroke-width="0.8"/><line x1="92.00" y1="432.2" x2="92.00" y2="433.8" stroke="#777" stroke-width="0.8"/><line x1="102.00" y1="432.2" x2="102.00" y2="433.8" stroke="#777" stroke-width="0.8"/><line x1="112.00" y1="432.2" x2="112.00" y2="433.8" stroke="#777" stroke-width="0.8"/><line x1="122.00" y1="432.2" x2="122.00" y2="433.8" stroke="#777" stroke-width="0.8"/><line x1="132.00" y1="432.2" x2="132.00" y2="433.8" stroke="#777" stroke-width="0.8"/><line x1="142.00" y1="432.2" x2="142.00" y2="433.8" stroke="#777" stroke-width="0.8"/><line x1="152.00" y1="432.2" x2="152.00" y2="433.8" stroke="#777" stroke-width="0.8"/><line x1="162.00" y1="432.2" x2="162.00" y2="433.8" stroke="#777" stroke-width="0.8"/><line x1="172.00" y1="432.2" x2="172.00" y2="433.8" stroke="#777" stroke-width="0.8"/><line x1="182.00" y1="432.2" x2="182.00" y2="433.8" stroke="#777" stroke-width="0.8"/><line x1="192.00" y1="432.2" x2="192.00" y2="433.8" stroke="#777" stroke-width="0.8"/><line x1="202.00" y1="432.2" x2="202.00" y2="433.8" stroke="#777" stroke-width="0.8"/><line x1="212.00" y1="432.2" x2="212.00" y2="433.8" stroke="#777" stroke-width="0.8"/><line x1="222.00" y1="432.2" x2="222.00" y2="433.8" stroke="#777" stroke-width="0.8"/><line x1="232.00" y1="432.2" x2="232.00" y2="433.8" stroke="#777" stroke-width="0.8"/><text x="42.00" y="443.3" text-anchor="middle" font-size="8.6" fill="#222">120</text><text x="62.00" y="443.3" text-anchor="middle" font-size="8.6" fill="#222">108</text><text x="82.00" y="443.3" text-anchor="middle" font-size="8.6" fill="#222">96</text><text x="102.00" y="443.3" text-anchor="middle" font-size="8.6" fill="#222">84</text><text x="122.00" y="443.3" text-anchor="middle" font-size="8.6" fill="#222">72</text><text x="142.00" y="443.3" text-anchor="middle" font-size="8.6" fill="#222">60</text><text x="162.00" y="443.3" text-anchor="middle" font-size="8.6" fill="#222">48</text><text x="182.00" y="443.3" text-anchor="middle" font-size="8.6" fill="#222">36</text><text x="202.00" y="443.3" text-anchor="middle" font-size="8.6" fill="#222">24</text><text x="222.00" y="443.3" text-anchor="middle" font-size="8.6" fill="#222">12</text><text x="132" y="454.5" text-anchor="middle" font-size="8.4" fill="#222">t<tspan font-size="5.6" dy="2">tc</tspan><tspan dy="-2">[h]</tspan></text><g transform="translate(12.3,380.8) rotate(-90)"><text text-anchor="middle" font-size="9.3" fill="#222"><tspan font-style="italic">p</tspan><tspan font-size="5.6" dy="1.8">obj</tspan><tspan dy="-1.8"> [%]</tspan></text></g><text x="39.8" y="345.5" font-size="10.5" font-style="italic" fill="#222">P</text><path d="M52.00 425.53 L72.00 425.25 L92.00 419.59 L112.00 422.23 L132.00 423.55 L152.00 422.32 L172.00 419.78 L192.00 421.48 L212.00 424.49 L232.00 426.66" fill="none" stroke="#cacaca" stroke-width="1.7" stroke-linejoin="miter" stroke-dasharray="6 2.5"/><path d="M42.00 427.60 L62.00 427.60 L82.00 427.60 L102.00 427.60 L122.00 427.60 L142.00 427.60 L162.00 427.60 L182.00 427.60 L202.00 427.60 L222.00 427.60" fill="none" stroke="#dcdcdc" stroke-width="1.7" stroke-linejoin="miter" stroke-dasharray="6 2.5"/><path d="M42.00 413.94 L62.00 409.70 L82.00 412.72 L102.00 411.87 L122.00 402.17 L142.00 400.28 L162.00 413.19 L182.00 394.16 L202.00 375.13 L222.00 391.80" fill="none" stroke="#a0a0a0" stroke-width="1.6" stroke-linejoin="miter"/><path d="M52.00 412.90 L72.00 403.77 L92.00 403.39 L112.00 408.95 L132.00 398.68 L152.00 400.19 L172.00 397.46 L192.00 387.09 L212.00 379.93 L232.00 399.53" fill="none" stroke="#707070" stroke-width="1.6" stroke-linejoin="miter" stroke-dasharray="6 2.5"/><path d="M42.00 413.94 L62.00 410.27 L82.00 401.13 L102.00 396.70 L122.00 400.00 L142.00 390.11 L162.00 387.09 L182.00 366.84 L202.00 362.13 L222.00 374.85" fill="none" stroke="#555555" stroke-width="1.5" stroke-linejoin="miter"/><path d="M52.00 413.47 L72.00 404.43 L92.00 397.93 L112.00 388.41 L132.00 391.80 L152.00 396.14 L172.00 377.67 L192.00 366.37 L212.00 355.54 L232.00 367.50" fill="none" stroke="#222222" stroke-width="1.7" stroke-linejoin="miter" stroke-dasharray="6 2.5"/><path d="M42.00 414.22 L62.00 421.10 L82.00 412.53 L102.00 403.58 L122.00 393.88 L142.00 389.92 L162.00 389.35 L182.00 376.73 L202.00 364.02 L222.00 358.17" fill="none" stroke="#111111" stroke-width="1.8" stroke-linejoin="miter"/><text x="223.5" y="359.5" font-size="5" fill="#333">1.8</text><text x="233.5" y="370.5" font-size="5" fill="#333">2.0</text><text x="223.5" y="378.5" font-size="5" fill="#333">1.3</text><text x="219" y="398.5" font-size="5" fill="#333">0.4</text><text x="233.5" y="401.5" font-size="5" fill="#333">0.4</text><text x="232.5" y="425" font-size="5" fill="#333">&lt;0.1</text><text x="220" y="431" font-size="5" fill="#333">&lt;0.1</text></g><g><rect x="254.3" y="328.5" width="209.59999999999997" height="103.69999999999999" fill="none" stroke="#9a9a9a" stroke-width="0.9"/><line x1="252.70000000000002" y1="334.30" x2="254.3" y2="334.30" stroke="#777" stroke-width="0.8"/><line x1="252.70000000000002" y1="344.12" x2="254.3" y2="344.12" stroke="#777" stroke-width="0.8"/><line x1="252.70000000000002" y1="353.94" x2="254.3" y2="353.94" stroke="#777" stroke-width="0.8"/><line x1="252.70000000000002" y1="363.76" x2="254.3" y2="363.76" stroke="#777" stroke-width="0.8"/><line x1="252.70000000000002" y1="373.58" x2="254.3" y2="373.58" stroke="#777" stroke-width="0.8"/><line x1="252.70000000000002" y1="383.40" x2="254.3" y2="383.40" stroke="#777" stroke-width="0.8"/><line x1="252.70000000000002" y1="393.22" x2="254.3" y2="393.22" stroke="#777" stroke-width="0.8"/><line x1="252.70000000000002" y1="403.04" x2="254.3" y2="403.04" stroke="#777" stroke-width="0.8"/><line x1="252.70000000000002" y1="412.86" x2="254.3" y2="412.86" stroke="#777" stroke-width="0.8"/><line x1="252.70000000000002" y1="422.68" x2="254.3" y2="422.68" stroke="#777" stroke-width="0.8"/><line x1="263.75" y1="432.2" x2="263.75" y2="433.8" stroke="#777" stroke-width="0.8"/><line x1="273.75" y1="432.2" x2="273.75" y2="433.8" stroke="#777" stroke-width="0.8"/><line x1="283.75" y1="432.2" x2="283.75" y2="433.8" stroke="#777" stroke-width="0.8"/><line x1="293.75" y1="432.2" x2="293.75" y2="433.8" stroke="#777" stroke-width="0.8"/><line x1="303.75" y1="432.2" x2="303.75" y2="433.8" stroke="#777" stroke-width="0.8"/><line x1="313.75" y1="432.2" x2="313.75" y2="433.8" stroke="#777" stroke-width="0.8"/><line x1="323.75" y1="432.2" x2="323.75" y2="433.8" stroke="#777" stroke-width="0.8"/><line x1="333.75" y1="432.2" x2="333.75" y2="433.8" stroke="#777" stroke-width="0.8"/><line x1="343.75" y1="432.2" x2="343.75" y2="433.8" stroke="#777" stroke-width="0.8"/><line x1="353.75" y1="432.2" x2="353.75" y2="433.8" stroke="#777" stroke-width="0.8"/><line x1="363.75" y1="432.2" x2="363.75" y2="433.8" stroke="#777" stroke-width="0.8"/><line x1="373.75" y1="432.2" x2="373.75" y2="433.8" stroke="#777" stroke-width="0.8"/><line x1="383.75" y1="432.2" x2="383.75" y2="433.8" stroke="#777" stroke-width="0.8"/><line x1="393.75" y1="432.2" x2="393.75" y2="433.8" stroke="#777" stroke-width="0.8"/><line x1="403.75" y1="432.2" x2="403.75" y2="433.8" stroke="#777" stroke-width="0.8"/><line x1="413.75" y1="432.2" x2="413.75" y2="433.8" stroke="#777" stroke-width="0.8"/><line x1="423.75" y1="432.2" x2="423.75" y2="433.8" stroke="#777" stroke-width="0.8"/><line x1="433.75" y1="432.2" x2="433.75" y2="433.8" stroke="#777" stroke-width="0.8"/><line x1="443.75" y1="432.2" x2="443.75" y2="433.8" stroke="#777" stroke-width="0.8"/><line x1="453.75" y1="432.2" x2="453.75" y2="433.8" stroke="#777" stroke-width="0.8"/><line x1="463.75" y1="432.2" x2="463.75" y2="433.8" stroke="#777" stroke-width="0.8"/><text x="263.75" y="443.3" text-anchor="middle" font-size="8.6" fill="#222">120</text><text x="283.75" y="443.3" text-anchor="middle" font-size="8.6" fill="#222">108</text><text x="303.75" y="443.3" text-anchor="middle" font-size="8.6" fill="#222">96</text><text x="323.75" y="443.3" text-anchor="middle" font-size="8.6" fill="#222">84</text><text x="343.75" y="443.3" text-anchor="middle" font-size="8.6" fill="#222">72</text><text x="363.75" y="443.3" text-anchor="middle" font-size="8.6" fill="#222">60</text><text x="383.75" y="443.3" text-anchor="middle" font-size="8.6" fill="#222">48</text><text x="403.75" y="443.3" text-anchor="middle" font-size="8.6" fill="#222">36</text><text x="423.75" y="443.3" text-anchor="middle" font-size="8.6" fill="#222">24</text><text x="443.75" y="443.3" text-anchor="middle" font-size="8.6" fill="#222">12</text><text x="353" y="454.5" text-anchor="middle" font-size="8.4" fill="#222">t<tspan font-size="5.6" dy="2">tc</tspan><tspan dy="-2">[h]</tspan></text><text x="259.5" y="345.5" font-size="10.5" font-style="italic" fill="#222">G<tspan font-size="5.6">10</tspan></text><path d="M273.75 427.60 L293.75 417.20 L313.75 425.20 L333.75 421.50 L353.75 416.30 L373.75 417.00 L393.75 411.10 L413.75 385.80 L433.75 404.30 L453.75 399.40" fill="none" stroke="#cacaca" stroke-width="1.7" stroke-linejoin="miter" stroke-dasharray="6 2.5"/><path d="M263.75 417.20 L283.75 413.20 L303.75 408.00 L323.75 403.00 L343.75 397.60 L363.75 385.30 L383.75 389.70 L403.75 380.90 L423.75 369.20 L443.75 390.60" fill="none" stroke="#a0a0a0" stroke-width="1.6" stroke-linejoin="miter"/><path d="M273.75 412.50 L293.75 404.40 L313.75 398.80 L333.75 393.00 L353.75 386.40 L373.75 374.40 L393.75 367.20 L413.75 363.40 L433.75 357.50 L453.75 381.90" fill="none" stroke="#707070" stroke-width="1.6" stroke-linejoin="miter" stroke-dasharray="6 2.5"/><path d="M263.75 413.20 L283.75 412.90 L303.75 404.40 L323.75 396.80 L343.75 392.80 L363.75 380.80 L383.75 371.20 L403.75 359.50 L423.75 356.20 L443.75 359.50" fill="none" stroke="#555555" stroke-width="1.5" stroke-linejoin="miter"/><path d="M273.75 413.20 L293.75 410.00 L313.75 406.00 L333.75 392.40 L353.75 395.20 L373.75 388.00 L393.75 376.00 L413.75 370.20 L433.75 357.10 L453.75 360.50" fill="none" stroke="#222222" stroke-width="1.7" stroke-linejoin="miter" stroke-dasharray="6 2.5"/><path d="M263.75 422.00 L283.75 423.90 L303.75 420.90 L323.75 419.30 L343.75 407.20 L363.75 408.50 L383.75 403.30 L403.75 394.50 L423.75 376.00 L443.75 364.30" fill="none" stroke="#111111" stroke-width="1.8" stroke-linejoin="miter"/><text x="445" y="358" font-size="5" fill="#333">10.2</text><text x="455" y="363.5" font-size="5" fill="#333">8.1</text><text x="445" y="367" font-size="5" fill="#333">4.3</text><text x="455" y="386" font-size="5" fill="#333">8.8</text><text x="444" y="394.5" font-size="5" fill="#333">3.1</text><text x="455" y="401" font-size="5" fill="#333">1.9</text><rect x="469" y="335" width="8" height="90.7" fill="url(#gcb)" stroke="#777" stroke-width="0.8"/><g transform="translate(488,335) rotate(-90)"><text text-anchor="middle" font-size="7.2" fill="#333">cyclolysis</text></g><g transform="translate(488,426) rotate(-90)"><text text-anchor="middle" font-size="7.2" fill="#333">cyclogenesis</text></g></g></svg></body></html>
